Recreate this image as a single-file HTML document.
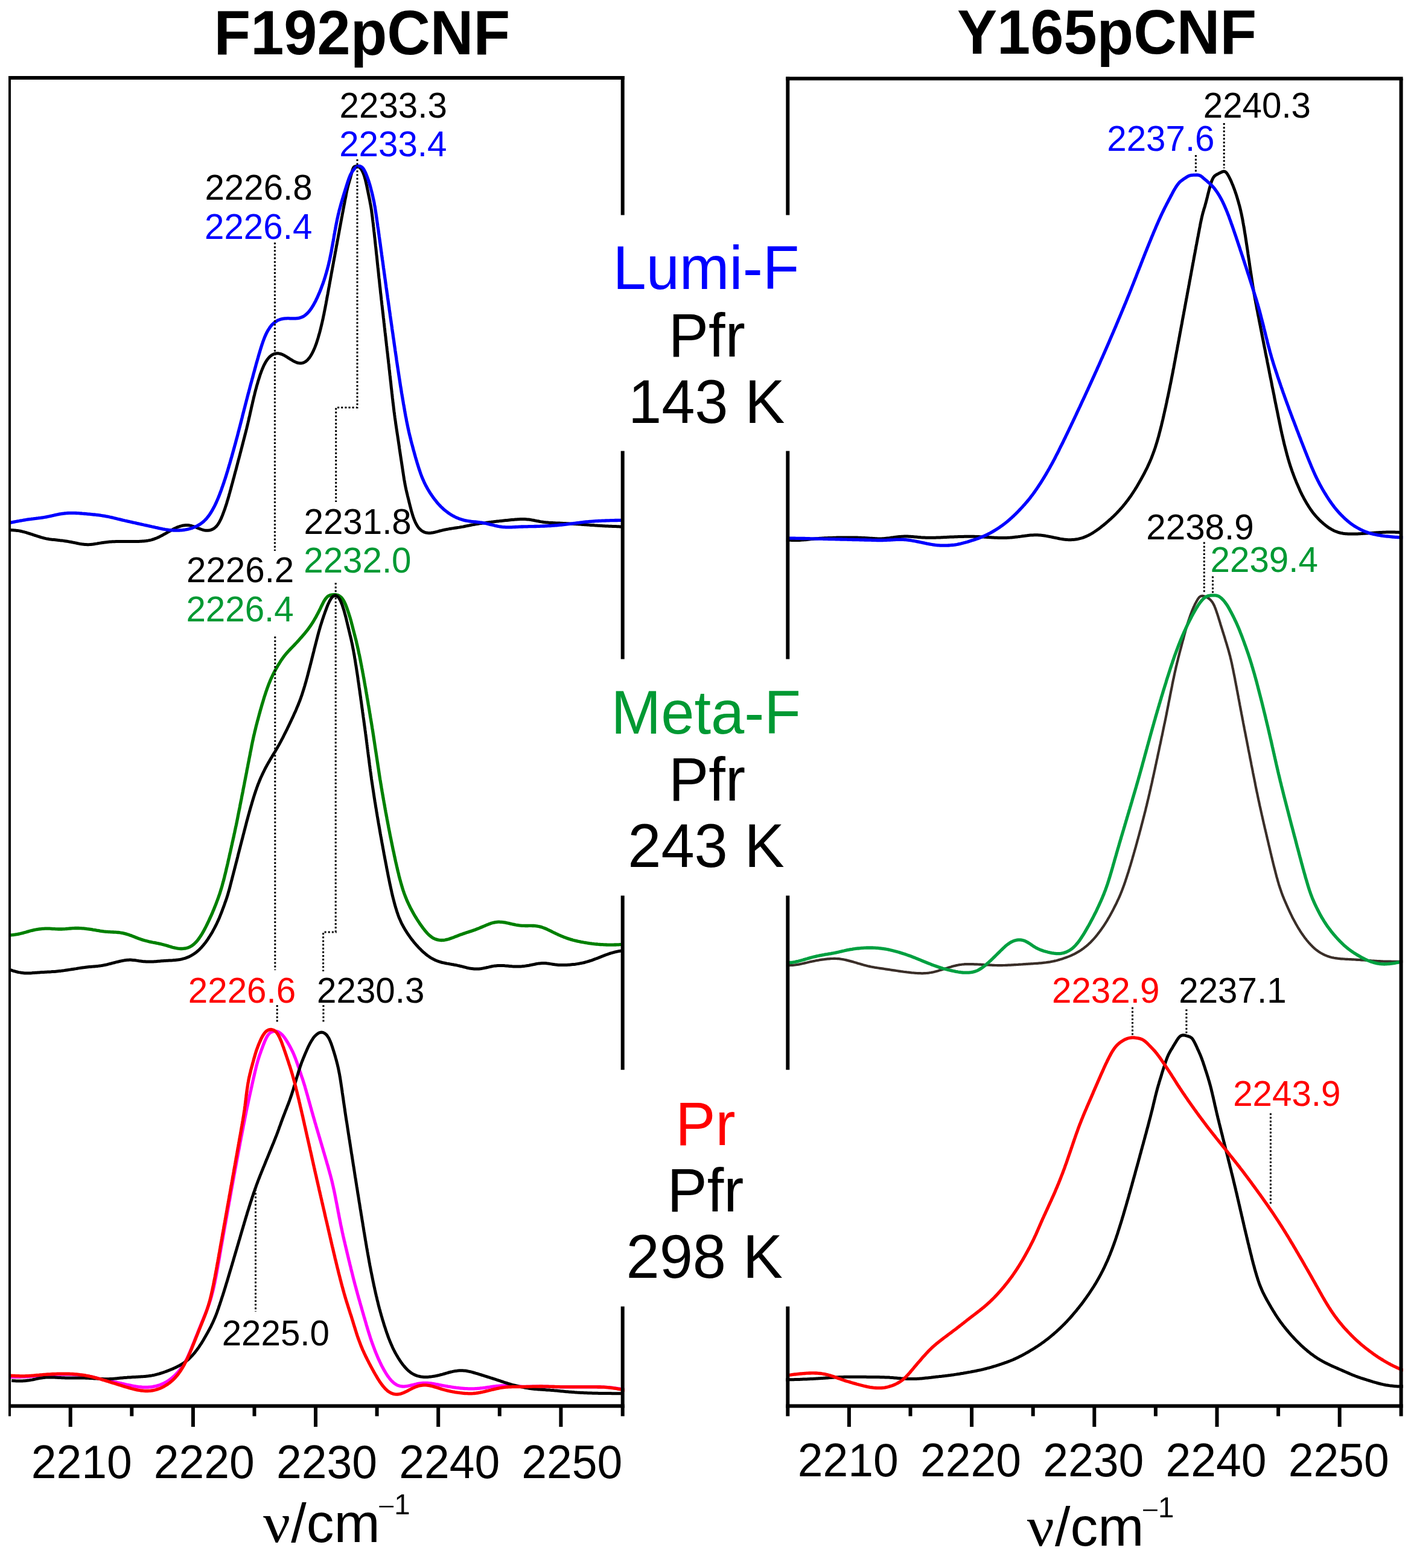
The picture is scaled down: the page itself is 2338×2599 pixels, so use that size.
<!DOCTYPE html>
<html lang="en">
<head>
<meta charset="utf-8">
<title>F192pCNF / Y165pCNF spectra</title>
<style>
html,body{margin:0;padding:0;background:#fff;}
body{width:2338px;height:2599px;overflow:hidden;}
svg{display:block;}
text{white-space:pre;}
</style>
</head>
<body>
<svg xmlns="http://www.w3.org/2000/svg" width="2338" height="2599" viewBox="0 0 2338 2599">
<defs><clipPath id="cl"><rect x="14" y="100" width="1021" height="2240"/></clipPath><clipPath id="cr"><rect x="1302" y="100" width="1023" height="2240"/></clipPath></defs>
<g fill="none" stroke-linejoin="round" stroke-linecap="butt">
<path d="M15.8,878.6 L20.7,878.7 L21.9,878.8 L23.3,878.9 L24.8,879.0 L26.4,879.2 L28.2,879.4 L30.0,879.6 L31.8,879.9 L33.7,880.3 L35.6,880.7 L37.5,881.2 L39.4,881.6 L41.4,882.2 L43.3,882.7 L45.2,883.3 L47.1,883.9 L49.0,884.5 L50.9,885.1 L52.8,885.7 L54.7,886.3 L56.6,887.0 L58.5,887.6 L60.4,888.2 L62.3,888.8 L64.2,889.4 L66.1,890.0 L68.0,890.6 L69.9,891.1 L71.9,891.7 L73.8,892.1 L75.7,892.6 L77.7,893.0 L79.6,893.3 L81.6,893.7 L83.6,893.9 L85.5,894.2 L87.5,894.4 L89.5,894.6 L91.5,894.8 L93.5,895.0 L95.4,895.2 L97.4,895.4 L99.4,895.7 L101.4,895.9 L103.4,896.1 L105.4,896.4 L107.3,896.7 L109.3,897.0 L111.3,897.3 L113.3,897.6 L115.2,898.0 L117.2,898.3 L119.2,898.7 L121.1,899.1 L123.1,899.5 L125.0,899.9 L127.0,900.3 L128.9,900.7 L130.9,901.1 L132.8,901.5 L134.8,901.8 L136.8,902.1 L138.7,902.3 L140.7,902.5 L142.7,902.6 L144.6,902.7 L146.6,902.7 L148.6,902.6 L150.5,902.4 L152.5,902.2 L154.5,902.0 L156.4,901.7 L158.4,901.4 L160.4,901.1 L162.3,900.7 L164.3,900.4 L166.3,900.1 L168.3,899.8 L170.2,899.5 L172.2,899.2 L174.2,898.9 L176.2,898.7 L178.2,898.5 L180.1,898.3 L182.1,898.1 L184.1,898.0 L186.1,897.8 L188.1,897.7 L190.1,897.7 L192.1,897.6 L194.1,897.6 L196.1,897.6 L198.1,897.5 L200.1,897.5 L202.1,897.6 L204.1,897.6 L206.1,897.6 L208.1,897.6 L210.1,897.6 L212.1,897.6 L214.1,897.6 L216.1,897.6 L218.1,897.6 L220.1,897.6 L222.1,897.6 L224.1,897.6 L226.1,897.5 L228.1,897.5 L230.1,897.4 L232.1,897.3 L234.1,897.2 L236.1,897.0 L238.0,896.9 L240.0,896.7 L242.0,896.5 L244.0,896.2 L245.9,895.9 L247.9,895.5 L249.8,895.1 L251.7,894.6 L253.6,894.0 L255.5,893.4 L257.3,892.7 L259.2,892.0 L261.0,891.2 L262.8,890.4 L264.6,889.5 L266.3,888.6 L268.1,887.7 L269.9,886.7 L271.6,885.7 L273.4,884.8 L275.1,883.8 L276.8,882.8 L278.6,881.8 L280.3,880.8 L282.1,879.9 L283.8,878.9 L285.6,878.0 L287.3,877.0 L289.1,876.1 L290.9,875.3 L292.7,874.4 L294.5,873.7 L296.3,873.0 L298.2,872.3 L300.1,871.8 L302.0,871.3 L303.9,870.9 L305.8,870.7 L307.7,870.5 L309.6,870.5 L311.5,870.6 L313.4,870.8 L315.3,871.1 L317.2,871.5 L319.0,872.1 L320.9,872.6 L322.7,873.3 L324.6,874.0 L326.4,874.7 L328.2,875.5 L330.1,876.2 L331.9,876.9 L333.7,877.5 L335.6,878.1 L337.4,878.6 L339.3,879.0 L341.1,879.2 L343.0,879.3 L344.8,879.3 L346.6,879.1 L348.4,878.7 L350.1,878.1 L351.8,877.4 L353.4,876.6 L355.0,875.6 L356.4,874.4 L357.8,873.2 L359.1,871.8 L360.3,870.3 L361.4,868.8 L362.4,867.1 L363.4,865.5 L364.3,863.7 L365.2,862.0 L366.1,860.2 L366.9,858.3 L367.6,856.5 L368.4,854.7 L369.1,852.8 L369.8,850.9 L370.5,849.1 L371.2,847.2 L371.9,845.3 L372.6,843.4 L373.2,841.5 L373.8,839.6 L374.5,837.7 L375.1,835.8 L375.7,833.9 L376.2,832.0 L376.8,830.1 L377.4,828.2 L378.0,826.3 L378.5,824.3 L379.1,822.4 L379.6,820.5 L380.1,818.6 L380.7,816.6 L381.2,814.7 L381.7,812.8 L382.3,810.9 L382.8,808.9 L383.3,807.0 L383.8,805.1 L384.3,803.1 L384.9,801.2 L385.4,799.3 L385.9,797.3 L386.4,795.4 L386.9,793.5 L387.5,791.5 L388.0,789.6 L388.5,787.7 L389.0,785.7 L389.5,783.8 L390.0,781.9 L390.6,779.9 L391.1,778.0 L391.6,776.1 L392.1,774.1 L392.6,772.2 L393.1,770.3 L393.6,768.3 L394.1,766.4 L394.6,764.5 L395.1,762.5 L395.7,760.6 L396.2,758.7 L396.7,756.7 L397.2,754.8 L397.7,752.9 L398.2,750.9 L398.7,749.0 L399.2,747.1 L399.7,745.1 L400.2,743.2 L400.7,741.3 L401.2,739.3 L401.7,737.4 L402.2,735.5 L402.7,733.5 L403.2,731.6 L403.7,729.6 L404.2,727.7 L404.7,725.8 L405.2,723.8 L405.7,721.9 L406.2,720.0 L406.7,718.0 L407.2,716.1 L407.7,714.1 L408.2,712.2 L408.7,710.3 L409.1,708.3 L409.6,706.4 L410.1,704.4 L410.5,702.5 L411.0,700.5 L411.4,698.6 L411.9,696.6 L412.3,694.7 L412.8,692.7 L413.2,690.8 L413.7,688.8 L414.1,686.9 L414.5,684.9 L415.0,683.0 L415.4,681.0 L415.9,679.1 L416.3,677.1 L416.7,675.2 L417.2,673.2 L417.6,671.3 L418.1,669.3 L418.5,667.4 L419.0,665.4 L419.4,663.5 L419.9,661.5 L420.3,659.6 L420.8,657.6 L421.3,655.7 L421.8,653.8 L422.2,651.8 L422.7,649.9 L423.2,648.0 L423.7,646.0 L424.3,644.1 L424.8,642.2 L425.3,640.2 L425.8,638.3 L426.4,636.4 L427.0,634.5 L427.5,632.5 L428.1,630.6 L428.7,628.7 L429.3,626.8 L429.9,624.9 L430.5,623.0 L431.1,621.1 L431.8,619.2 L432.5,617.3 L433.1,615.5 L433.9,613.6 L434.6,611.7 L435.4,609.9 L436.2,608.1 L437.0,606.3 L437.8,604.5 L438.8,602.7 L439.7,601.0 L440.7,599.3 L441.8,597.6 L442.9,596.0 L444.1,594.5 L445.3,593.0 L446.6,591.7 L448.0,590.4 L449.5,589.2 L451.0,588.2 L452.5,587.4 L454.2,586.7 L455.8,586.2 L457.5,585.9 L459.3,585.7 L461.0,585.8 L462.8,586.1 L464.6,586.5 L466.3,587.0 L468.1,587.7 L469.8,588.5 L471.5,589.4 L473.2,590.4 L474.9,591.4 L476.6,592.5 L478.3,593.5 L479.9,594.6 L481.6,595.7 L483.3,596.7 L484.9,597.7 L486.6,598.7 L488.4,599.5 L490.1,600.3 L491.8,601.0 L493.6,601.5 L495.4,601.8 L497.1,602.0 L498.8,602.0 L500.5,601.8 L502.2,601.4 L503.8,600.7 L505.3,599.9 L506.8,599.0 L508.2,597.8 L509.6,596.6 L510.8,595.2 L512.1,593.7 L513.2,592.2 L514.3,590.6 L515.3,588.9 L516.3,587.2 L517.3,585.5 L518.2,583.7 L519.1,581.9 L519.9,580.1 L520.7,578.3 L521.5,576.4 L522.2,574.6 L522.9,572.7 L523.6,570.8 L524.3,569.0 L524.9,567.1 L525.5,565.2 L526.1,563.3 L526.7,561.4 L527.3,559.4 L527.8,557.5 L528.4,555.6 L528.9,553.7 L529.5,551.7 L530.0,549.8 L530.5,547.9 L531.0,545.9 L531.5,544.0 L531.9,542.1 L532.4,540.1 L532.9,538.2 L533.3,536.2 L533.8,534.3 L534.2,532.3 L534.7,530.4 L535.1,528.4 L535.5,526.5 L535.9,524.5 L536.3,522.6 L536.8,520.6 L537.1,518.6 L537.5,516.7 L537.9,514.7 L538.3,512.7 L538.7,510.8 L539.1,508.8 L539.4,506.9 L539.8,504.9 L540.2,502.9 L540.5,501.0 L540.9,499.0 L541.3,497.0 L541.6,495.1 L542.0,493.1 L542.3,491.1 L542.7,489.2 L543.1,487.2 L543.4,485.2 L543.8,483.3 L544.1,481.3 L544.5,479.3 L544.8,477.4 L545.2,475.4 L545.6,473.4 L545.9,471.4 L546.3,469.5 L546.6,467.5 L547.0,465.5 L547.4,463.6 L547.7,461.6 L548.1,459.6 L548.4,457.7 L548.8,455.7 L549.1,453.7 L549.5,451.8 L549.9,449.8 L550.2,447.8 L550.6,445.9 L550.9,443.9 L551.3,441.9 L551.7,440.0 L552.0,438.0 L552.4,436.0 L552.7,434.1 L553.1,432.1 L553.5,430.1 L553.8,428.2 L554.2,426.2 L554.6,424.2 L554.9,422.3 L555.3,420.3 L555.6,418.3 L556.0,416.4 L556.4,414.4 L556.7,412.4 L557.1,410.5 L557.4,408.5 L557.8,406.5 L558.2,404.6 L558.5,402.6 L558.9,400.6 L559.2,398.7 L559.6,396.7 L560.0,394.7 L560.3,392.8 L560.7,390.8 L561.1,388.8 L561.4,386.9 L561.8,384.9 L562.1,382.9 L562.5,381.0 L562.9,379.0 L563.2,377.0 L563.6,375.1 L564.0,373.1 L564.3,371.1 L564.7,369.2 L565.0,367.2 L565.4,365.2 L565.8,363.3 L566.1,361.3 L566.5,359.3 L566.9,357.4 L567.2,355.4 L567.6,353.4 L568.0,351.5 L568.4,349.5 L568.7,347.5 L569.1,345.6 L569.5,343.6 L569.8,341.6 L570.2,339.7 L570.6,337.7 L571.0,335.7 L571.3,333.8 L571.7,331.8 L572.1,329.8 L572.5,327.9 L572.9,325.9 L573.3,324.0 L573.6,322.0 L574.0,320.0 L574.4,318.1 L574.8,316.1 L575.3,314.2 L575.7,312.2 L576.2,310.3 L576.7,308.3 L577.2,306.4 L577.7,304.5 L578.3,302.5 L578.8,300.6 L579.4,298.7 L579.9,296.8 L580.5,294.9 L581.0,292.9 L581.5,291.0 L582.1,289.1 L582.6,287.1 L583.1,285.2 L583.6,283.3 L584.2,281.4 L584.9,279.5 L585.7,277.8 L586.9,276.4 L588.4,275.7 L590.2,275.5 L592.1,275.8 L594.0,276.4 L595.7,277.4 L597.1,278.7 L598.3,280.2 L599.4,281.9 L600.4,283.7 L601.2,285.5 L602.0,287.3 L602.7,289.2 L603.4,291.0 L604.0,293.0 L604.5,294.9 L605.1,296.8 L605.6,298.7 L606.0,300.7 L606.5,302.6 L606.9,304.6 L607.4,306.5 L607.8,308.5 L608.2,310.4 L608.6,312.4 L609.0,314.4 L609.4,316.3 L609.8,318.3 L610.2,320.2 L610.6,322.2 L611.0,324.2 L611.4,326.1 L611.8,328.1 L612.2,330.0 L612.6,332.0 L613.0,334.0 L613.3,335.9 L613.7,337.9 L614.1,339.9 L614.4,341.8 L614.8,343.8 L615.1,345.8 L615.4,347.7 L615.7,349.7 L615.9,351.7 L616.2,353.7 L616.5,355.7 L616.7,357.7 L617.0,359.6 L617.2,361.6 L617.4,363.6 L617.7,365.6 L617.9,367.6 L618.2,369.6 L618.4,371.6 L618.6,373.5 L618.8,375.5 L619.1,377.5 L619.3,379.5 L619.5,381.5 L619.7,383.5 L620.0,385.5 L620.2,387.5 L620.4,389.4 L620.6,391.4 L620.8,393.4 L621.1,395.4 L621.3,397.4 L621.5,399.4 L621.7,401.4 L621.9,403.4 L622.1,405.3 L622.3,407.3 L622.6,409.3 L622.8,411.3 L623.0,413.3 L623.2,415.3 L623.4,417.3 L623.6,419.3 L623.8,421.3 L624.0,423.2 L624.3,425.2 L624.5,427.2 L624.7,429.2 L624.9,431.2 L625.1,433.2 L625.3,435.2 L625.5,437.2 L625.7,439.2 L625.9,441.1 L626.1,443.1 L626.4,445.1 L626.6,447.1 L626.8,449.1 L627.0,451.1 L627.2,453.1 L627.4,455.1 L627.6,457.1 L627.8,459.0 L628.0,461.0 L628.3,463.0 L628.5,465.0 L628.7,467.0 L628.9,469.0 L629.1,471.0 L629.3,473.0 L629.5,475.0 L629.8,476.9 L630.0,478.9 L630.2,480.9 L630.4,482.9 L630.6,484.9 L630.8,486.9 L631.1,488.9 L631.3,490.9 L631.5,492.8 L631.7,494.8 L631.9,496.8 L632.2,498.8 L632.4,500.8 L632.6,502.8 L632.8,504.8 L633.1,506.8 L633.3,508.7 L633.5,510.7 L633.7,512.7 L634.0,514.7 L634.2,516.7 L634.4,518.7 L634.7,520.7 L634.9,522.7 L635.1,524.6 L635.3,526.6 L635.6,528.6 L635.8,530.6 L636.0,532.6 L636.2,534.6 L636.5,536.6 L636.7,538.6 L636.9,540.5 L637.1,542.5 L637.4,544.5 L637.6,546.5 L637.8,548.5 L638.0,550.5 L638.3,552.5 L638.5,554.4 L638.7,556.4 L639.0,558.4 L639.2,560.4 L639.4,562.4 L639.6,564.4 L639.9,566.4 L640.1,568.4 L640.3,570.3 L640.5,572.3 L640.8,574.3 L641.0,576.3 L641.2,578.3 L641.4,580.3 L641.7,582.3 L641.9,584.3 L642.1,586.2 L642.4,588.2 L642.6,590.2 L642.8,592.2 L643.0,594.2 L643.3,596.2 L643.5,598.2 L643.7,600.2 L643.9,602.1 L644.2,604.1 L644.4,606.1 L644.6,608.1 L644.8,610.1 L645.0,612.1 L645.3,614.1 L645.5,616.1 L645.7,618.0 L645.9,620.0 L646.1,622.0 L646.4,624.0 L646.6,626.0 L646.8,628.0 L647.0,630.0 L647.2,632.0 L647.5,633.9 L647.7,635.9 L647.9,637.9 L648.1,639.9 L648.3,641.9 L648.5,643.9 L648.8,645.9 L649.0,647.9 L649.2,649.8 L649.4,651.8 L649.7,653.8 L649.9,655.8 L650.1,657.8 L650.3,659.8 L650.6,661.8 L650.8,663.8 L651.0,665.7 L651.2,667.7 L651.5,669.7 L651.7,671.7 L652.0,673.7 L652.2,675.7 L652.4,677.7 L652.7,679.6 L652.9,681.6 L653.2,683.6 L653.5,685.6 L653.7,687.6 L654.0,689.6 L654.2,691.5 L654.5,693.5 L654.8,695.5 L655.1,697.5 L655.4,699.5 L655.6,701.4 L655.9,703.4 L656.2,705.4 L656.5,707.4 L656.8,709.4 L657.1,711.3 L657.4,713.3 L657.7,715.3 L658.0,717.3 L658.3,719.3 L658.6,721.2 L658.9,723.2 L659.2,725.2 L659.5,727.2 L659.8,729.1 L660.1,731.1 L660.4,733.1 L660.7,735.1 L661.0,737.1 L661.3,739.0 L661.6,741.0 L661.8,743.0 L662.1,745.0 L662.4,746.9 L662.7,748.9 L663.0,750.9 L663.3,752.9 L663.6,754.9 L663.9,756.8 L664.2,758.8 L664.5,760.8 L664.8,762.8 L665.1,764.7 L665.4,766.7 L665.7,768.7 L666.0,770.7 L666.3,772.7 L666.6,774.6 L666.9,776.6 L667.2,778.6 L667.5,780.6 L667.8,782.5 L668.1,784.5 L668.4,786.5 L668.7,788.5 L669.0,790.4 L669.3,792.4 L669.6,794.4 L670.0,796.4 L670.3,798.3 L670.7,800.3 L671.0,802.3 L671.4,804.2 L671.8,806.2 L672.2,808.2 L672.6,810.1 L673.0,812.1 L673.5,814.0 L673.9,816.0 L674.4,817.9 L674.9,819.8 L675.3,821.8 L675.8,823.7 L676.3,825.7 L676.8,827.6 L677.3,829.6 L677.7,831.5 L678.2,833.4 L678.7,835.4 L679.2,837.3 L679.7,839.3 L680.2,841.2 L680.7,843.1 L681.2,845.1 L681.7,847.0 L682.3,848.9 L682.8,850.8 L683.4,852.7 L684.0,854.6 L684.6,856.5 L685.3,858.4 L686.0,860.3 L686.7,862.1 L687.5,863.9 L688.3,865.8 L689.2,867.5 L690.1,869.3 L691.1,871.0 L692.1,872.6 L693.2,874.2 L694.4,875.7 L695.7,877.0 L697.0,878.3 L698.5,879.5 L700.0,880.5 L701.6,881.4 L703.2,882.1 L705.0,882.7 L706.8,883.1 L708.6,883.3 L710.4,883.4 L712.3,883.4 L714.2,883.3 L716.1,883.0 L718.0,882.7 L720.0,882.3 L721.9,881.8 L723.8,881.4 L725.7,880.9 L727.6,880.3 L729.6,879.8 L731.5,879.4 L733.4,878.9 L735.4,878.4 L737.3,878.0 L739.3,877.6 L741.3,877.2 L743.2,876.9 L745.2,876.5 L747.2,876.2 L749.1,875.9 L751.1,875.6 L753.1,875.3 L755.1,875.0 L757.0,874.7 L759.0,874.4 L761.0,874.1 L763.0,873.7 L764.9,873.4 L766.9,873.1 L768.9,872.7 L770.8,872.3 L772.8,871.9 L774.7,871.5 L776.7,871.1 L778.6,870.7 L780.6,870.3 L782.6,869.9 L784.5,869.6 L786.5,869.2 L788.5,868.9 L790.4,868.5 L792.4,868.2 L794.4,867.9 L796.4,867.6 L798.3,867.4 L800.3,867.1 L802.3,866.9 L804.3,866.6 L806.3,866.3 L808.3,866.1 L810.2,865.8 L812.2,865.6 L814.2,865.3 L816.2,865.1 L818.2,864.8 L820.2,864.6 L822.1,864.3 L824.1,864.1 L826.1,863.9 L828.1,863.6 L830.1,863.4 L832.1,863.2 L834.1,863.0 L836.0,862.8 L838.0,862.6 L840.0,862.4 L842.0,862.2 L844.0,862.0 L846.0,861.8 L848.0,861.6 L850.0,861.4 L852.0,861.3 L854.0,861.1 L856.0,861.0 L858.0,860.8 L859.9,860.7 L861.9,860.6 L863.9,860.6 L865.9,860.5 L867.9,860.5 L869.9,860.6 L871.9,860.7 L873.8,860.9 L875.8,861.1 L877.8,861.3 L879.7,861.6 L881.7,862.0 L883.7,862.3 L885.6,862.7 L887.6,863.1 L889.5,863.5 L891.5,863.8 L893.5,864.2 L895.4,864.6 L897.4,864.9 L899.4,865.2 L901.3,865.5 L903.3,865.7 L905.3,865.9 L907.3,866.1 L909.3,866.3 L911.3,866.4 L913.3,866.5 L915.3,866.6 L917.3,866.7 L919.2,866.8 L921.2,866.9 L923.2,867.0 L925.2,867.0 L927.2,867.1 L929.2,867.2 L931.2,867.3 L933.2,867.4 L935.2,867.5 L937.2,867.6 L939.2,867.7 L941.2,867.8 L943.2,867.9 L945.2,868.1 L947.2,868.2 L949.2,868.3 L951.2,868.4 L953.2,868.6 L955.2,868.7 L957.2,868.8 L959.2,869.0 L961.2,869.1 L963.2,869.2 L965.2,869.4 L967.2,869.5 L969.2,869.7 L971.2,869.8 L973.2,869.9 L975.1,870.1 L977.1,870.2 L979.1,870.4 L981.1,870.5 L983.1,870.6 L985.1,870.8 L987.1,870.9 L989.1,871.0 L991.1,871.2 L993.1,871.3 L995.1,871.4 L997.1,871.5 L999.1,871.7 L1001.1,871.8 L1003.1,871.9 L1005.1,872.0 L1007.1,872.1 L1009.1,872.2 L1011.1,872.3 L1013.0,872.3 L1015.0,872.4 L1016.9,872.5 L1018.8,872.6 L1020.6,872.6 L1022.4,872.7 L1024.1,872.8 L1025.6,872.8 L1027.0,872.9 L1028.2,872.9 L1033.1,873.1" stroke="#000000" stroke-width="5.0" clip-path="url(#cl)"/>
<path d="M15.8,866.6 L20.6,865.6 L21.7,865.4 L23.1,865.1 L24.6,864.8 L26.3,864.5 L28.0,864.2 L29.8,863.8 L31.7,863.5 L33.6,863.1 L35.5,862.8 L37.4,862.5 L39.4,862.1 L41.4,861.8 L43.3,861.5 L45.3,861.2 L47.3,860.9 L49.3,860.6 L51.2,860.4 L53.2,860.1 L55.2,859.9 L57.2,859.6 L59.2,859.4 L61.2,859.1 L63.1,858.9 L65.1,858.6 L67.1,858.4 L69.1,858.1 L71.1,857.8 L73.0,857.5 L75.0,857.2 L77.0,856.8 L78.9,856.4 L80.9,856.0 L82.8,855.6 L84.8,855.2 L86.7,854.7 L88.7,854.3 L90.6,853.8 L92.6,853.4 L94.5,853.0 L96.5,852.6 L98.4,852.2 L100.4,851.8 L102.4,851.5 L104.3,851.3 L106.3,851.0 L108.3,850.8 L110.3,850.6 L112.3,850.5 L114.3,850.4 L116.2,850.4 L118.2,850.3 L120.2,850.3 L122.2,850.4 L124.2,850.4 L126.2,850.5 L128.2,850.6 L130.2,850.7 L132.2,850.9 L134.2,851.0 L136.2,851.2 L138.2,851.3 L140.2,851.5 L142.2,851.7 L144.2,851.9 L146.2,852.1 L148.1,852.2 L150.1,852.4 L152.1,852.6 L154.1,852.8 L156.1,853.0 L158.1,853.2 L160.1,853.5 L162.1,853.7 L164.0,853.9 L166.0,854.2 L168.0,854.5 L170.0,854.8 L172.0,855.1 L173.9,855.4 L175.9,855.8 L177.9,856.1 L179.8,856.5 L181.8,857.0 L183.7,857.4 L185.7,857.8 L187.6,858.3 L189.5,858.8 L191.5,859.2 L193.4,859.7 L195.4,860.2 L197.3,860.7 L199.3,861.1 L201.2,861.6 L203.2,862.1 L205.1,862.5 L207.0,863.0 L209.0,863.4 L210.9,863.9 L212.9,864.3 L214.8,864.7 L216.8,865.2 L218.7,865.6 L220.7,866.1 L222.7,866.5 L224.6,866.9 L226.6,867.4 L228.5,867.8 L230.5,868.2 L232.4,868.7 L234.4,869.1 L236.3,869.5 L238.3,870.0 L240.2,870.4 L242.2,870.8 L244.1,871.2 L246.1,871.7 L248.0,872.1 L250.0,872.5 L251.9,873.0 L253.9,873.4 L255.9,873.8 L257.8,874.3 L259.8,874.7 L261.7,875.1 L263.7,875.6 L265.6,876.0 L267.6,876.4 L269.5,876.8 L271.5,877.1 L273.5,877.5 L275.4,877.8 L277.4,878.1 L279.4,878.4 L281.4,878.6 L283.3,878.8 L285.3,878.9 L287.3,879.0 L289.3,879.1 L291.3,879.1 L293.3,879.1 L295.3,879.1 L297.3,879.0 L299.3,878.9 L301.2,878.8 L303.2,878.5 L305.2,878.3 L307.1,878.0 L309.1,877.7 L311.0,877.2 L313.0,876.8 L314.9,876.3 L316.8,875.7 L318.7,875.1 L320.5,874.4 L322.4,873.7 L324.2,872.9 L325.9,872.0 L327.7,871.1 L329.4,870.1 L331.1,869.1 L332.7,868.0 L334.3,866.8 L335.9,865.6 L337.4,864.4 L338.8,863.0 L340.2,861.6 L341.6,860.2 L342.9,858.7 L344.1,857.2 L345.3,855.6 L346.5,854.0 L347.6,852.4 L348.7,850.7 L349.8,849.0 L350.8,847.3 L351.8,845.6 L352.8,843.9 L353.7,842.1 L354.7,840.4 L355.6,838.6 L356.5,836.8 L357.3,835.0 L358.2,833.2 L359.0,831.3 L359.8,829.5 L360.6,827.7 L361.4,825.8 L362.1,824.0 L362.9,822.1 L363.6,820.3 L364.3,818.4 L365.0,816.5 L365.7,814.7 L366.4,812.8 L367.1,810.9 L367.7,809.0 L368.4,807.1 L369.1,805.2 L369.7,803.4 L370.4,801.5 L371.0,799.6 L371.6,797.7 L372.2,795.8 L372.9,793.9 L373.5,792.0 L374.1,790.1 L374.7,788.2 L375.3,786.2 L375.9,784.3 L376.5,782.4 L377.1,780.5 L377.6,778.6 L378.2,776.7 L378.8,774.8 L379.3,772.8 L379.9,770.9 L380.5,769.0 L381.0,767.1 L381.6,765.2 L382.1,763.2 L382.7,761.3 L383.2,759.4 L383.8,757.5 L384.3,755.5 L384.9,753.6 L385.4,751.7 L385.9,749.8 L386.5,747.8 L387.0,745.9 L387.5,744.0 L388.1,742.1 L388.6,740.1 L389.1,738.2 L389.7,736.3 L390.2,734.3 L390.7,732.4 L391.2,730.5 L391.7,728.6 L392.3,726.6 L392.8,724.7 L393.3,722.8 L393.8,720.8 L394.3,718.9 L394.8,716.9 L395.3,715.0 L395.8,713.1 L396.3,711.1 L396.8,709.2 L397.3,707.3 L397.8,705.3 L398.3,703.4 L398.8,701.5 L399.3,699.5 L399.8,697.6 L400.3,695.6 L400.8,693.7 L401.3,691.8 L401.7,689.8 L402.2,687.9 L402.7,685.9 L403.2,684.0 L403.7,682.1 L404.2,680.1 L404.7,678.2 L405.2,676.3 L405.7,674.3 L406.2,672.4 L406.7,670.4 L407.2,668.5 L407.7,666.6 L408.2,664.6 L408.7,662.7 L409.2,660.8 L409.7,658.8 L410.2,656.9 L410.7,655.0 L411.2,653.0 L411.8,651.1 L412.3,649.2 L412.8,647.2 L413.3,645.3 L413.8,643.4 L414.3,641.4 L414.8,639.5 L415.3,637.6 L415.9,635.6 L416.4,633.7 L416.9,631.8 L417.4,629.8 L417.9,627.9 L418.5,626.0 L419.0,624.0 L419.5,622.1 L420.0,620.2 L420.5,618.2 L421.1,616.3 L421.6,614.4 L422.1,612.5 L422.6,610.5 L423.2,608.6 L423.7,606.7 L424.2,604.7 L424.7,602.8 L425.3,600.9 L425.8,599.0 L426.4,597.0 L426.9,595.1 L427.5,593.2 L428.0,591.3 L428.6,589.3 L429.1,587.4 L429.7,585.5 L430.3,583.6 L430.8,581.7 L431.4,579.8 L432.0,577.8 L432.6,575.9 L433.2,574.0 L433.8,572.1 L434.4,570.2 L435.1,568.3 L435.7,566.4 L436.4,564.6 L437.1,562.7 L437.8,560.8 L438.5,559.0 L439.3,557.1 L440.1,555.3 L441.0,553.5 L441.8,551.7 L442.7,550.0 L443.7,548.2 L444.7,546.5 L445.8,544.9 L446.9,543.2 L448.0,541.6 L449.2,540.1 L450.5,538.6 L451.9,537.2 L453.3,535.9 L454.7,534.6 L456.3,533.5 L457.9,532.4 L459.5,531.4 L461.2,530.6 L463.0,529.9 L464.8,529.3 L466.6,528.8 L468.5,528.4 L470.4,528.1 L472.3,527.9 L474.3,527.8 L476.3,527.7 L478.2,527.7 L480.2,527.8 L482.2,527.8 L484.1,527.9 L486.1,527.9 L488.0,527.9 L490.0,527.9 L491.9,527.7 L493.8,527.5 L495.6,527.1 L497.5,526.6 L499.2,526.0 L501.0,525.3 L502.7,524.4 L504.3,523.4 L505.8,522.3 L507.3,521.1 L508.7,519.8 L510.1,518.4 L511.4,517.0 L512.7,515.5 L513.9,513.9 L515.0,512.3 L516.2,510.7 L517.2,509.0 L518.3,507.3 L519.3,505.6 L520.3,503.9 L521.2,502.1 L522.2,500.4 L523.1,498.6 L523.9,496.8 L524.8,495.0 L525.7,493.2 L526.5,491.4 L527.3,489.5 L528.1,487.7 L528.9,485.9 L529.7,484.0 L530.4,482.2 L531.2,480.3 L531.9,478.5 L532.6,476.6 L533.3,474.7 L534.0,472.9 L534.7,471.0 L535.4,469.1 L536.0,467.2 L536.7,465.3 L537.3,463.4 L537.9,461.5 L538.5,459.6 L539.1,457.7 L539.6,455.8 L540.2,453.9 L540.8,451.9 L541.3,450.0 L541.9,448.1 L542.4,446.2 L542.9,444.2 L543.4,442.3 L543.9,440.3 L544.4,438.4 L544.8,436.5 L545.3,434.5 L545.7,432.6 L546.2,430.6 L546.6,428.7 L547.0,426.7 L547.4,424.7 L547.8,422.8 L548.2,420.8 L548.6,418.9 L549.0,416.9 L549.3,414.9 L549.7,413.0 L550.0,411.0 L550.4,409.0 L550.8,407.1 L551.1,405.1 L551.5,403.1 L551.8,401.2 L552.2,399.2 L552.5,397.2 L552.9,395.2 L553.2,393.3 L553.5,391.3 L553.9,389.3 L554.2,387.4 L554.6,385.4 L554.9,383.4 L555.3,381.5 L555.7,379.5 L556.0,377.5 L556.4,375.6 L556.8,373.6 L557.1,371.6 L557.5,369.7 L557.9,367.7 L558.3,365.8 L558.7,363.8 L559.1,361.8 L559.6,359.9 L560.0,357.9 L560.4,356.0 L560.9,354.0 L561.4,352.1 L561.8,350.2 L562.3,348.2 L562.8,346.3 L563.4,344.3 L563.9,342.4 L564.4,340.5 L564.9,338.6 L565.5,336.6 L566.0,334.7 L566.6,332.8 L567.1,330.9 L567.7,329.0 L568.3,327.0 L568.9,325.1 L569.4,323.2 L570.0,321.3 L570.6,319.4 L571.2,317.5 L571.8,315.6 L572.4,313.6 L573.0,311.7 L573.6,309.8 L574.2,307.9 L574.8,306.0 L575.4,304.1 L576.0,302.2 L576.6,300.3 L577.3,298.4 L578.0,296.5 L578.6,294.7 L579.4,292.8 L580.1,291.0 L581.0,289.1 L581.9,287.4 L582.9,285.6 L584.0,284.0 L585.2,282.4 L586.4,280.8 L587.7,279.3 L589.1,277.8 L590.6,276.6 L592.3,275.7 L594.1,275.2 L596.0,275.3 L597.8,275.9 L599.4,276.9 L600.9,278.2 L602.1,279.8 L603.2,281.5 L604.1,283.2 L605.0,285.0 L605.9,286.8 L606.6,288.7 L607.4,290.5 L608.1,292.4 L608.8,294.2 L609.5,296.1 L610.1,298.0 L610.8,299.9 L611.4,301.8 L612.0,303.7 L612.6,305.6 L613.1,307.6 L613.7,309.5 L614.2,311.4 L614.7,313.3 L615.2,315.3 L615.7,317.2 L616.2,319.2 L616.7,321.1 L617.1,323.0 L617.6,325.0 L618.0,326.9 L618.4,328.9 L618.9,330.9 L619.3,332.8 L619.7,334.8 L620.1,336.7 L620.4,338.7 L620.8,340.7 L621.1,342.6 L621.5,344.6 L621.8,346.6 L622.1,348.6 L622.4,350.5 L622.7,352.5 L623.0,354.5 L623.3,356.5 L623.6,358.4 L623.9,360.4 L624.2,362.4 L624.4,364.4 L624.7,366.4 L625.0,368.3 L625.3,370.3 L625.6,372.3 L625.8,374.3 L626.1,376.3 L626.4,378.2 L626.7,380.2 L627.0,382.2 L627.2,384.2 L627.5,386.2 L627.8,388.1 L628.1,390.1 L628.3,392.1 L628.6,394.1 L628.9,396.1 L629.2,398.1 L629.4,400.0 L629.7,402.0 L630.0,404.0 L630.3,406.0 L630.5,408.0 L630.8,409.9 L631.1,411.9 L631.3,413.9 L631.6,415.9 L631.9,417.9 L632.2,419.8 L632.4,421.8 L632.7,423.8 L633.0,425.8 L633.3,427.8 L633.5,429.8 L633.8,431.7 L634.1,433.7 L634.4,435.7 L634.6,437.7 L634.9,439.7 L635.2,441.6 L635.4,443.6 L635.7,445.6 L636.0,447.6 L636.3,449.6 L636.5,451.5 L636.8,453.5 L637.1,455.5 L637.4,457.5 L637.6,459.5 L637.9,461.4 L638.2,463.4 L638.5,465.4 L638.7,467.4 L639.0,469.4 L639.3,471.4 L639.6,473.3 L639.8,475.3 L640.1,477.3 L640.4,479.3 L640.7,481.3 L640.9,483.2 L641.2,485.2 L641.5,487.2 L641.8,489.2 L642.1,491.2 L642.3,493.1 L642.6,495.1 L642.9,497.1 L643.2,499.1 L643.5,501.1 L643.7,503.0 L644.0,505.0 L644.3,507.0 L644.6,509.0 L644.9,511.0 L645.1,512.9 L645.4,514.9 L645.7,516.9 L646.0,518.9 L646.3,520.9 L646.5,522.8 L646.8,524.8 L647.1,526.8 L647.4,528.8 L647.7,530.8 L647.9,532.7 L648.2,534.7 L648.5,536.7 L648.8,538.7 L649.1,540.7 L649.4,542.6 L649.6,544.6 L649.9,546.6 L650.2,548.6 L650.5,550.6 L650.8,552.5 L651.1,554.5 L651.3,556.5 L651.6,558.5 L651.9,560.5 L652.2,562.4 L652.5,564.4 L652.8,566.4 L653.0,568.4 L653.3,570.4 L653.6,572.3 L653.9,574.3 L654.2,576.3 L654.5,578.3 L654.7,580.3 L655.0,582.2 L655.3,584.2 L655.6,586.2 L655.9,588.2 L656.2,590.2 L656.5,592.1 L656.8,594.1 L657.0,596.1 L657.3,598.1 L657.6,600.1 L657.9,602.0 L658.2,604.0 L658.5,606.0 L658.8,608.0 L659.1,609.9 L659.4,611.9 L659.7,613.9 L660.0,615.9 L660.3,617.9 L660.6,619.8 L660.9,621.8 L661.2,623.8 L661.5,625.8 L661.8,627.7 L662.1,629.7 L662.4,631.7 L662.7,633.7 L663.0,635.6 L663.3,637.6 L663.6,639.6 L663.9,641.6 L664.3,643.5 L664.6,645.5 L664.9,647.5 L665.2,649.5 L665.5,651.4 L665.9,653.4 L666.2,655.4 L666.5,657.4 L666.9,659.3 L667.2,661.3 L667.5,663.3 L667.9,665.3 L668.2,667.2 L668.5,669.2 L668.9,671.2 L669.2,673.1 L669.6,675.1 L669.9,677.1 L670.3,679.0 L670.6,681.0 L671.0,683.0 L671.3,685.0 L671.7,686.9 L672.0,688.9 L672.4,690.9 L672.8,692.8 L673.2,694.8 L673.5,696.7 L673.9,698.7 L674.3,700.7 L674.7,702.6 L675.1,704.6 L675.5,706.6 L675.9,708.5 L676.3,710.5 L676.8,712.4 L677.2,714.4 L677.6,716.3 L678.1,718.3 L678.5,720.2 L679.0,722.2 L679.5,724.1 L680.0,726.0 L680.5,728.0 L680.9,729.9 L681.4,731.9 L681.9,733.8 L682.4,735.7 L683.0,737.7 L683.5,739.6 L684.0,741.5 L684.5,743.5 L685.0,745.4 L685.5,747.3 L686.1,749.2 L686.6,751.2 L687.1,753.1 L687.7,755.0 L688.2,756.9 L688.8,758.9 L689.3,760.8 L689.9,762.7 L690.5,764.6 L691.0,766.5 L691.6,768.5 L692.2,770.4 L692.8,772.3 L693.4,774.2 L694.0,776.1 L694.6,778.0 L695.3,779.9 L695.9,781.8 L696.6,783.7 L697.2,785.6 L697.9,787.4 L698.6,789.3 L699.3,791.2 L700.1,793.0 L700.9,794.9 L701.7,796.7 L702.5,798.5 L703.3,800.3 L704.2,802.1 L705.1,803.9 L706.0,805.7 L707.0,807.4 L707.9,809.2 L708.9,810.9 L710.0,812.6 L711.0,814.3 L712.0,816.0 L713.1,817.7 L714.2,819.3 L715.3,821.0 L716.5,822.6 L717.6,824.3 L718.8,825.9 L720.0,827.5 L721.2,829.1 L722.5,830.6 L723.7,832.2 L725.0,833.7 L726.3,835.2 L727.7,836.7 L729.0,838.1 L730.4,839.6 L731.8,841.0 L733.3,842.3 L734.7,843.7 L736.2,845.0 L737.8,846.3 L739.3,847.5 L740.9,848.7 L742.5,849.9 L744.1,851.0 L745.8,852.1 L747.5,853.2 L749.2,854.2 L750.9,855.2 L752.7,856.1 L754.4,857.0 L756.2,857.9 L758.1,858.6 L759.9,859.4 L761.8,860.1 L763.6,860.7 L765.5,861.3 L767.4,861.9 L769.4,862.4 L771.3,862.8 L773.2,863.2 L775.2,863.5 L777.2,863.8 L779.1,864.1 L781.1,864.4 L783.1,864.6 L785.1,864.8 L787.1,865.0 L789.0,865.2 L791.0,865.4 L793.0,865.6 L795.0,865.9 L797.0,866.1 L798.9,866.4 L800.9,866.8 L802.9,867.1 L804.8,867.5 L806.8,868.0 L808.7,868.4 L810.6,868.9 L812.6,869.4 L814.5,869.8 L816.5,870.3 L818.4,870.8 L820.3,871.3 L822.3,871.7 L824.2,872.1 L826.2,872.5 L828.1,872.8 L830.1,873.1 L832.1,873.4 L834.1,873.6 L836.0,873.7 L838.0,873.9 L840.0,873.9 L842.0,873.9 L844.0,873.9 L846.0,873.9 L848.0,873.8 L850.0,873.7 L851.9,873.6 L853.9,873.5 L855.9,873.4 L857.9,873.3 L859.9,873.2 L861.9,873.1 L863.9,873.0 L865.9,873.0 L867.9,872.9 L869.9,872.9 L871.9,872.8 L873.9,872.8 L875.9,872.7 L877.9,872.7 L879.9,872.7 L881.9,872.6 L883.9,872.6 L885.9,872.5 L887.9,872.5 L889.9,872.4 L891.9,872.3 L893.9,872.3 L895.9,872.2 L897.9,872.1 L899.9,872.0 L901.9,872.0 L903.9,871.9 L905.9,871.8 L907.9,871.7 L909.9,871.6 L911.9,871.5 L913.9,871.3 L915.9,871.2 L917.9,871.1 L919.9,870.9 L921.9,870.8 L923.9,870.6 L925.8,870.4 L927.8,870.2 L929.8,870.0 L931.8,869.8 L933.8,869.6 L935.8,869.3 L937.8,869.1 L939.8,868.8 L941.7,868.6 L943.7,868.3 L945.7,868.1 L947.7,867.8 L949.7,867.6 L951.7,867.3 L953.6,867.1 L955.6,866.8 L957.6,866.6 L959.6,866.4 L961.6,866.1 L963.6,865.9 L965.6,865.7 L967.5,865.4 L969.5,865.2 L971.5,865.0 L973.5,864.8 L975.5,864.6 L977.5,864.4 L979.5,864.3 L981.5,864.1 L983.5,864.0 L985.5,863.8 L987.5,863.7 L989.5,863.6 L991.5,863.5 L993.5,863.4 L995.4,863.3 L997.4,863.2 L999.4,863.1 L1001.4,863.1 L1003.4,863.0 L1005.4,862.9 L1007.4,862.9 L1009.4,862.8 L1011.4,862.7 L1013.4,862.7 L1015.3,862.6 L1017.3,862.6 L1019.2,862.5 L1021.0,862.5 L1022.8,862.5 L1024.4,862.4 L1026.0,862.4 L1027.4,862.4 L1028.5,862.3 L1033.4,862.2" stroke="#0000ff" stroke-width="5.3" clip-path="url(#cl)"/>
<path d="M1302.9,894.9 L1307.7,895.2 L1308.9,895.3 L1310.3,895.3 L1311.8,895.4 L1313.5,895.5 L1315.3,895.5 L1317.1,895.5 L1319.0,895.5 L1320.9,895.5 L1322.9,895.4 L1324.8,895.4 L1326.8,895.3 L1328.8,895.1 L1330.8,895.0 L1332.8,894.8 L1334.8,894.7 L1336.8,894.5 L1338.7,894.3 L1340.7,894.1 L1342.7,893.8 L1344.7,893.6 L1346.7,893.4 L1348.7,893.2 L1350.7,893.0 L1352.7,892.8 L1354.7,892.7 L1356.6,892.5 L1358.6,892.3 L1360.6,892.2 L1362.6,892.1 L1364.6,892.0 L1366.6,891.8 L1368.6,891.8 L1370.6,891.7 L1372.6,891.6 L1374.6,891.5 L1376.6,891.4 L1378.6,891.4 L1380.6,891.3 L1382.6,891.2 L1384.6,891.2 L1386.6,891.1 L1388.6,891.1 L1390.6,891.0 L1392.6,891.0 L1394.6,891.0 L1396.6,891.0 L1398.6,890.9 L1400.6,890.9 L1402.6,890.9 L1404.6,890.9 L1406.6,890.9 L1408.6,890.9 L1410.6,891.0 L1412.6,891.0 L1414.6,891.0 L1416.6,891.1 L1418.6,891.1 L1420.6,891.1 L1422.6,891.2 L1424.6,891.3 L1426.6,891.3 L1428.6,891.4 L1430.6,891.5 L1432.6,891.6 L1434.6,891.7 L1436.6,891.8 L1438.6,891.9 L1440.6,892.1 L1442.6,892.2 L1444.6,892.3 L1446.5,892.5 L1448.5,892.6 L1450.5,892.7 L1452.5,892.8 L1454.5,892.9 L1456.5,892.9 L1458.5,892.9 L1460.5,892.9 L1462.5,892.8 L1464.5,892.7 L1466.4,892.5 L1468.4,892.3 L1470.4,892.1 L1472.4,891.9 L1474.4,891.6 L1476.3,891.3 L1478.3,891.0 L1480.3,890.8 L1482.3,890.5 L1484.3,890.2 L1486.2,890.0 L1488.2,889.8 L1490.2,889.6 L1492.2,889.4 L1494.2,889.3 L1496.2,889.2 L1498.2,889.1 L1500.2,889.1 L1502.2,889.1 L1504.1,889.1 L1506.1,889.2 L1508.1,889.3 L1510.1,889.5 L1512.1,889.6 L1514.1,889.8 L1516.1,890.0 L1518.1,890.1 L1520.1,890.3 L1522.1,890.5 L1524.1,890.6 L1526.0,890.8 L1528.0,890.9 L1530.0,891.0 L1532.0,891.1 L1534.0,891.2 L1536.0,891.2 L1538.0,891.3 L1540.0,891.3 L1542.0,891.3 L1544.0,891.3 L1546.0,891.3 L1548.0,891.2 L1550.0,891.2 L1552.0,891.1 L1554.0,891.0 L1556.0,891.0 L1558.0,890.9 L1560.0,890.8 L1562.0,890.7 L1564.0,890.6 L1566.0,890.5 L1568.0,890.4 L1570.0,890.3 L1572.0,890.2 L1574.0,890.1 L1576.0,890.0 L1578.0,890.0 L1580.0,889.9 L1582.0,889.8 L1584.0,889.7 L1586.0,889.7 L1588.0,889.6 L1590.0,889.5 L1592.0,889.5 L1594.0,889.4 L1596.0,889.4 L1598.0,889.3 L1600.0,889.3 L1602.0,889.3 L1604.0,889.2 L1606.0,889.2 L1608.0,889.2 L1610.0,889.2 L1612.0,889.3 L1614.0,889.3 L1616.0,889.4 L1618.0,889.4 L1620.0,889.5 L1622.0,889.6 L1623.9,889.7 L1625.9,889.8 L1627.9,890.0 L1629.9,890.1 L1631.9,890.2 L1633.9,890.3 L1635.9,890.5 L1637.9,890.6 L1639.9,890.7 L1641.9,890.8 L1643.9,891.0 L1645.9,891.1 L1647.9,891.2 L1649.9,891.3 L1651.9,891.3 L1653.9,891.4 L1655.9,891.5 L1657.9,891.5 L1659.9,891.5 L1661.9,891.5 L1663.9,891.5 L1665.9,891.4 L1667.9,891.4 L1669.9,891.3 L1671.9,891.2 L1673.9,891.1 L1675.9,890.9 L1677.8,890.7 L1679.8,890.5 L1681.8,890.3 L1683.8,890.1 L1685.8,889.9 L1687.8,889.6 L1689.7,889.4 L1691.7,889.1 L1693.7,888.8 L1695.7,888.5 L1697.7,888.3 L1699.7,888.0 L1701.6,887.8 L1703.6,887.5 L1705.6,887.3 L1707.6,887.1 L1709.6,887.0 L1711.6,886.9 L1713.6,886.8 L1715.5,886.8 L1717.5,886.8 L1719.5,886.8 L1721.5,886.9 L1723.5,887.1 L1725.5,887.3 L1727.4,887.5 L1729.4,887.7 L1731.4,888.0 L1733.4,888.4 L1735.3,888.7 L1737.3,889.1 L1739.2,889.5 L1741.2,889.9 L1743.2,890.3 L1745.1,890.7 L1747.1,891.1 L1749.0,891.5 L1751.0,891.9 L1752.9,892.3 L1754.9,892.7 L1756.9,893.1 L1758.8,893.4 L1760.8,893.7 L1762.8,894.0 L1764.7,894.2 L1766.7,894.4 L1768.7,894.6 L1770.7,894.7 L1772.7,894.7 L1774.6,894.7 L1776.6,894.6 L1778.6,894.5 L1780.6,894.3 L1782.5,894.0 L1784.5,893.7 L1786.4,893.4 L1788.4,892.9 L1790.3,892.4 L1792.2,891.9 L1794.1,891.3 L1795.9,890.6 L1797.8,889.9 L1799.6,889.2 L1801.4,888.3 L1803.2,887.5 L1805.0,886.6 L1806.7,885.6 L1808.5,884.6 L1810.2,883.6 L1811.9,882.5 L1813.5,881.5 L1815.2,880.3 L1816.8,879.2 L1818.5,878.1 L1820.1,876.9 L1821.7,875.7 L1823.3,874.5 L1824.8,873.3 L1826.4,872.0 L1828.0,870.8 L1829.5,869.5 L1831.1,868.2 L1832.6,867.0 L1834.1,865.7 L1835.6,864.4 L1837.1,863.0 L1838.6,861.7 L1840.1,860.4 L1841.6,859.0 L1843.0,857.6 L1844.5,856.3 L1845.9,854.9 L1847.3,853.5 L1848.8,852.1 L1850.2,850.6 L1851.5,849.2 L1852.9,847.7 L1854.3,846.3 L1855.6,844.8 L1857.0,843.3 L1858.3,841.8 L1859.6,840.3 L1860.9,838.8 L1862.2,837.2 L1863.4,835.7 L1864.7,834.1 L1865.9,832.6 L1867.1,831.0 L1868.4,829.4 L1869.6,827.8 L1870.7,826.2 L1871.9,824.6 L1873.1,823.0 L1874.2,821.3 L1875.3,819.7 L1876.4,818.0 L1877.5,816.3 L1878.6,814.7 L1879.7,813.0 L1880.8,811.3 L1881.8,809.6 L1882.9,807.9 L1883.9,806.2 L1884.9,804.4 L1885.9,802.7 L1886.9,801.0 L1887.9,799.3 L1888.9,797.5 L1889.9,795.8 L1890.9,794.0 L1891.8,792.3 L1892.8,790.5 L1893.8,788.8 L1894.7,787.0 L1895.7,785.2 L1896.6,783.5 L1897.5,781.7 L1898.4,779.9 L1899.3,778.1 L1900.2,776.3 L1901.1,774.6 L1901.9,772.7 L1902.8,770.9 L1903.6,769.1 L1904.4,767.3 L1905.2,765.5 L1906.0,763.6 L1906.8,761.8 L1907.6,759.9 L1908.3,758.1 L1909.0,756.2 L1909.7,754.4 L1910.4,752.5 L1911.1,750.6 L1911.8,748.7 L1912.5,746.8 L1913.1,744.9 L1913.8,743.1 L1914.4,741.2 L1915.0,739.3 L1915.6,737.3 L1916.2,735.4 L1916.8,733.5 L1917.4,731.6 L1917.9,729.7 L1918.5,727.8 L1919.0,725.8 L1919.6,723.9 L1920.1,722.0 L1920.6,720.1 L1921.1,718.1 L1921.6,716.2 L1922.1,714.3 L1922.6,712.3 L1923.1,710.4 L1923.6,708.4 L1924.1,706.5 L1924.6,704.6 L1925.0,702.6 L1925.5,700.7 L1926.0,698.7 L1926.4,696.8 L1926.9,694.8 L1927.3,692.9 L1927.8,690.9 L1928.2,689.0 L1928.6,687.0 L1929.1,685.1 L1929.5,683.1 L1930.0,681.2 L1930.4,679.2 L1930.8,677.3 L1931.3,675.3 L1931.7,673.4 L1932.1,671.4 L1932.5,669.5 L1933.0,667.5 L1933.4,665.5 L1933.8,663.6 L1934.2,661.6 L1934.6,659.7 L1935.1,657.7 L1935.5,655.8 L1935.9,653.8 L1936.3,651.8 L1936.7,649.9 L1937.1,647.9 L1937.5,646.0 L1937.9,644.0 L1938.3,642.1 L1938.7,640.1 L1939.1,638.1 L1939.5,636.2 L1939.9,634.2 L1940.3,632.3 L1940.7,630.3 L1941.1,628.3 L1941.4,626.4 L1941.8,624.4 L1942.2,622.4 L1942.6,620.5 L1943.0,618.5 L1943.4,616.6 L1943.7,614.6 L1944.1,612.6 L1944.5,610.7 L1944.9,608.7 L1945.2,606.7 L1945.6,604.8 L1946.0,602.8 L1946.3,600.8 L1946.7,598.9 L1947.1,596.9 L1947.4,594.9 L1947.8,593.0 L1948.2,591.0 L1948.5,589.0 L1948.9,587.1 L1949.3,585.1 L1949.6,583.1 L1950.0,581.2 L1950.4,579.2 L1950.7,577.2 L1951.1,575.3 L1951.4,573.3 L1951.8,571.3 L1952.2,569.4 L1952.5,567.4 L1952.9,565.4 L1953.3,563.5 L1953.6,561.5 L1954.0,559.5 L1954.4,557.6 L1954.7,555.6 L1955.1,553.6 L1955.4,551.7 L1955.8,549.7 L1956.2,547.7 L1956.5,545.8 L1956.9,543.8 L1957.3,541.8 L1957.6,539.9 L1958.0,537.9 L1958.4,535.9 L1958.7,534.0 L1959.1,532.0 L1959.4,530.0 L1959.8,528.1 L1960.2,526.1 L1960.5,524.1 L1960.9,522.2 L1961.3,520.2 L1961.6,518.2 L1962.0,516.3 L1962.4,514.3 L1962.7,512.3 L1963.1,510.4 L1963.4,508.4 L1963.8,506.4 L1964.2,504.5 L1964.5,502.5 L1964.9,500.5 L1965.3,498.6 L1965.6,496.6 L1966.0,494.6 L1966.4,492.7 L1966.7,490.7 L1967.1,488.7 L1967.4,486.8 L1967.8,484.8 L1968.2,482.8 L1968.5,480.9 L1968.9,478.9 L1969.3,476.9 L1969.6,475.0 L1970.0,473.0 L1970.4,471.0 L1970.7,469.1 L1971.1,467.1 L1971.4,465.1 L1971.8,463.2 L1972.2,461.2 L1972.5,459.2 L1972.9,457.3 L1973.3,455.3 L1973.6,453.3 L1974.0,451.4 L1974.3,449.4 L1974.7,447.4 L1975.1,445.5 L1975.4,443.5 L1975.8,441.5 L1976.2,439.6 L1976.5,437.6 L1976.9,435.6 L1977.3,433.7 L1977.6,431.7 L1978.0,429.7 L1978.3,427.8 L1978.7,425.8 L1979.1,423.8 L1979.4,421.9 L1979.8,419.9 L1980.2,417.9 L1980.5,416.0 L1980.9,414.0 L1981.3,412.0 L1981.6,410.1 L1982.0,408.1 L1982.4,406.1 L1982.8,404.2 L1983.1,402.2 L1983.5,400.2 L1983.9,398.3 L1984.2,396.3 L1984.6,394.3 L1985.0,392.4 L1985.4,390.4 L1985.7,388.5 L1986.1,386.5 L1986.5,384.5 L1986.9,382.6 L1987.2,380.6 L1987.6,378.6 L1988.0,376.7 L1988.4,374.7 L1988.7,372.7 L1989.1,370.8 L1989.5,368.8 L1989.9,366.9 L1990.3,364.9 L1990.8,363.0 L1991.2,361.0 L1991.6,359.1 L1992.1,357.1 L1992.6,355.2 L1993.1,353.2 L1993.6,351.3 L1994.2,349.4 L1994.7,347.5 L1995.3,345.6 L1995.9,343.7 L1996.5,341.7 L1997.0,339.8 L1997.5,337.9 L1998.1,336.0 L1998.6,334.0 L1999.1,332.1 L1999.6,330.2 L2000.1,328.2 L2000.6,326.3 L2001.0,324.3 L2001.5,322.4 L2002.0,320.5 L2002.5,318.5 L2003.0,316.6 L2003.5,314.6 L2004.0,312.7 L2004.6,310.8 L2005.1,308.9 L2005.6,306.9 L2006.2,305.0 L2006.8,303.1 L2007.4,301.2 L2008.1,299.3 L2008.9,297.5 L2009.7,295.7 L2010.7,294.0 L2011.9,292.4 L2013.3,291.1 L2014.9,290.0 L2016.7,289.0 L2018.4,288.1 L2020.2,287.1 L2022.0,286.3 L2023.8,285.4 L2025.6,284.6 L2027.4,284.1 L2029.2,284.2 L2030.8,285.0 L2032.2,286.3 L2033.4,287.9 L2034.4,289.6 L2035.4,291.3 L2036.4,293.0 L2037.3,294.8 L2038.2,296.6 L2039.0,298.4 L2039.9,300.2 L2040.7,302.1 L2041.4,303.9 L2042.2,305.8 L2043.0,307.6 L2043.7,309.5 L2044.4,311.4 L2045.1,313.2 L2045.8,315.1 L2046.5,317.0 L2047.1,318.9 L2047.8,320.8 L2048.4,322.7 L2049.0,324.6 L2049.6,326.5 L2050.2,328.4 L2050.7,330.3 L2051.3,332.2 L2051.9,334.2 L2052.4,336.1 L2052.9,338.0 L2053.5,339.9 L2054.0,341.9 L2054.5,343.8 L2055.0,345.7 L2055.4,347.7 L2055.9,349.6 L2056.3,351.6 L2056.8,353.5 L2057.2,355.5 L2057.6,357.4 L2058.0,359.4 L2058.4,361.4 L2058.8,363.3 L2059.1,365.3 L2059.5,367.3 L2059.8,369.2 L2060.2,371.2 L2060.5,373.2 L2060.9,375.1 L2061.2,377.1 L2061.6,379.1 L2061.9,381.1 L2062.2,383.0 L2062.5,385.0 L2062.8,387.0 L2063.2,389.0 L2063.5,390.9 L2063.8,392.9 L2064.1,394.9 L2064.4,396.9 L2064.7,398.8 L2065.0,400.8 L2065.3,402.8 L2065.6,404.8 L2065.9,406.7 L2066.2,408.7 L2066.5,410.7 L2066.8,412.7 L2067.1,414.7 L2067.4,416.6 L2067.7,418.6 L2067.9,420.6 L2068.2,422.6 L2068.5,424.5 L2068.8,426.5 L2069.1,428.5 L2069.4,430.5 L2069.7,432.5 L2070.0,434.4 L2070.2,436.4 L2070.5,438.4 L2070.8,440.4 L2071.1,442.4 L2071.4,444.3 L2071.7,446.3 L2072.0,448.3 L2072.3,450.3 L2072.6,452.3 L2072.9,454.2 L2073.2,456.2 L2073.5,458.2 L2073.8,460.2 L2074.1,462.1 L2074.4,464.1 L2074.7,466.1 L2075.0,468.1 L2075.3,470.0 L2075.6,472.0 L2075.9,474.0 L2076.2,476.0 L2076.6,477.9 L2076.9,479.9 L2077.2,481.9 L2077.6,483.9 L2077.9,485.8 L2078.2,487.8 L2078.6,489.8 L2078.9,491.7 L2079.3,493.7 L2079.6,495.7 L2080.0,497.6 L2080.4,499.6 L2080.7,501.6 L2081.1,503.5 L2081.5,505.5 L2081.9,507.5 L2082.2,509.4 L2082.6,511.4 L2083.0,513.4 L2083.4,515.3 L2083.8,517.3 L2084.1,519.3 L2084.5,521.2 L2084.9,523.2 L2085.3,525.1 L2085.7,527.1 L2086.1,529.1 L2086.4,531.0 L2086.8,533.0 L2087.2,535.0 L2087.6,536.9 L2088.0,538.9 L2088.4,540.8 L2088.7,542.8 L2089.1,544.8 L2089.5,546.7 L2089.9,548.7 L2090.3,550.7 L2090.7,552.6 L2091.0,554.6 L2091.4,556.5 L2091.8,558.5 L2092.2,560.5 L2092.6,562.4 L2093.0,564.4 L2093.4,566.4 L2093.7,568.3 L2094.1,570.3 L2094.5,572.2 L2094.9,574.2 L2095.3,576.2 L2095.7,578.1 L2096.1,580.1 L2096.5,582.1 L2096.8,584.0 L2097.2,586.0 L2097.6,587.9 L2098.0,589.9 L2098.4,591.9 L2098.8,593.8 L2099.2,595.8 L2099.6,597.8 L2099.9,599.7 L2100.3,601.7 L2100.7,603.6 L2101.1,605.6 L2101.5,607.6 L2101.9,609.5 L2102.3,611.5 L2102.7,613.4 L2103.1,615.4 L2103.4,617.4 L2103.8,619.3 L2104.2,621.3 L2104.6,623.3 L2105.0,625.2 L2105.4,627.2 L2105.8,629.1 L2106.2,631.1 L2106.6,633.1 L2107.0,635.0 L2107.3,637.0 L2107.7,639.0 L2108.1,640.9 L2108.5,642.9 L2108.9,644.8 L2109.3,646.8 L2109.7,648.8 L2110.1,650.7 L2110.5,652.7 L2110.9,654.6 L2111.3,656.6 L2111.6,658.6 L2112.0,660.5 L2112.4,662.5 L2112.8,664.4 L2113.2,666.4 L2113.6,668.4 L2114.0,670.3 L2114.4,672.3 L2114.8,674.3 L2115.2,676.2 L2115.6,678.2 L2116.0,680.1 L2116.4,682.1 L2116.8,684.1 L2117.2,686.0 L2117.6,688.0 L2118.0,689.9 L2118.4,691.9 L2118.8,693.9 L2119.2,695.8 L2119.6,697.8 L2120.0,699.7 L2120.4,701.7 L2120.8,703.6 L2121.2,705.6 L2121.6,707.6 L2122.0,709.5 L2122.4,711.5 L2122.8,713.4 L2123.3,715.4 L2123.7,717.3 L2124.1,719.3 L2124.6,721.2 L2125.0,723.2 L2125.5,725.1 L2125.9,727.1 L2126.4,729.0 L2126.8,731.0 L2127.3,732.9 L2127.7,734.9 L2128.2,736.8 L2128.7,738.8 L2129.2,740.7 L2129.7,742.6 L2130.2,744.6 L2130.7,746.5 L2131.2,748.5 L2131.7,750.4 L2132.2,752.3 L2132.7,754.2 L2133.3,756.2 L2133.8,758.1 L2134.3,760.0 L2134.9,761.9 L2135.5,763.9 L2136.0,765.8 L2136.6,767.7 L2137.2,769.6 L2137.8,771.5 L2138.4,773.4 L2139.1,775.3 L2139.7,777.2 L2140.4,779.1 L2141.0,781.0 L2141.7,782.9 L2142.4,784.7 L2143.1,786.6 L2143.8,788.5 L2144.5,790.3 L2145.2,792.2 L2146.0,794.1 L2146.7,795.9 L2147.5,797.8 L2148.2,799.6 L2149.0,801.5 L2149.8,803.3 L2150.6,805.1 L2151.4,807.0 L2152.2,808.8 L2153.0,810.6 L2153.8,812.5 L2154.6,814.3 L2155.5,816.1 L2156.4,817.9 L2157.2,819.7 L2158.1,821.5 L2159.1,823.2 L2160.0,825.0 L2160.9,826.8 L2161.9,828.5 L2162.9,830.3 L2163.9,832.0 L2164.9,833.7 L2165.9,835.4 L2167.0,837.1 L2168.0,838.8 L2169.1,840.5 L2170.2,842.2 L2171.3,843.8 L2172.5,845.5 L2173.6,847.1 L2174.8,848.7 L2176.0,850.3 L2177.3,851.8 L2178.5,853.4 L2179.8,854.9 L2181.1,856.4 L2182.5,857.9 L2183.8,859.3 L2185.2,860.8 L2186.6,862.2 L2188.1,863.6 L2189.5,864.9 L2191.0,866.2 L2192.5,867.6 L2194.0,868.8 L2195.6,870.1 L2197.1,871.3 L2198.7,872.5 L2200.3,873.7 L2202.0,874.8 L2203.7,875.9 L2205.4,876.9 L2207.1,877.9 L2208.8,878.8 L2210.6,879.7 L2212.4,880.5 L2214.2,881.2 L2216.1,881.9 L2218.0,882.5 L2219.8,883.0 L2221.8,883.5 L2223.7,883.8 L2225.7,884.2 L2227.6,884.4 L2229.6,884.7 L2231.6,884.8 L2233.5,885.0 L2235.5,885.0 L2237.5,885.1 L2239.5,885.1 L2241.5,885.1 L2243.5,885.1 L2245.5,885.0 L2247.5,885.0 L2249.5,884.9 L2251.5,884.8 L2253.5,884.7 L2255.5,884.6 L2257.5,884.5 L2259.5,884.3 L2261.5,884.2 L2263.5,884.1 L2265.5,883.9 L2267.5,883.8 L2269.5,883.6 L2271.5,883.5 L2273.4,883.4 L2275.4,883.2 L2277.4,883.1 L2279.4,882.9 L2281.4,882.8 L2283.4,882.7 L2285.4,882.6 L2287.4,882.5 L2289.4,882.4 L2291.4,882.3 L2293.4,882.2 L2295.4,882.2 L2297.4,882.1 L2299.4,882.1 L2301.4,882.1 L2303.4,882.1 L2305.3,882.1 L2307.2,882.1 L2309.1,882.1 L2311.0,882.1 L2312.7,882.2 L2314.4,882.2 L2316.0,882.3 L2317.3,882.3 L2318.5,882.4 L2323.4,882.6" stroke="#000000" stroke-width="5.0" clip-path="url(#cr)"/>
<path d="M1302.9,892.0 L1307.7,892.1 L1308.9,892.1 L1310.3,892.1 L1311.9,892.2 L1313.5,892.2 L1315.3,892.2 L1317.1,892.2 L1319.0,892.3 L1320.9,892.3 L1322.9,892.4 L1324.9,892.4 L1326.9,892.4 L1328.9,892.5 L1330.9,892.5 L1332.9,892.5 L1334.9,892.6 L1336.9,892.6 L1338.9,892.7 L1340.9,892.7 L1342.8,892.8 L1344.8,892.8 L1346.8,892.9 L1348.8,892.9 L1350.8,893.0 L1352.8,893.0 L1354.8,893.1 L1356.8,893.1 L1358.8,893.2 L1360.8,893.2 L1362.8,893.2 L1364.8,893.3 L1366.8,893.3 L1368.8,893.4 L1370.8,893.4 L1372.8,893.5 L1374.8,893.5 L1376.8,893.6 L1378.8,893.6 L1380.8,893.7 L1382.8,893.7 L1384.8,893.8 L1386.8,893.8 L1388.8,893.9 L1390.8,893.9 L1392.8,894.0 L1394.8,894.0 L1396.8,894.1 L1398.8,894.1 L1400.8,894.2 L1402.8,894.2 L1404.8,894.3 L1406.8,894.3 L1408.8,894.4 L1410.8,894.4 L1412.8,894.5 L1414.8,894.5 L1416.8,894.6 L1418.8,894.6 L1420.8,894.7 L1422.8,894.7 L1424.8,894.8 L1426.8,894.8 L1428.8,894.9 L1430.8,894.9 L1432.8,895.0 L1434.8,895.0 L1436.8,895.1 L1438.8,895.1 L1440.8,895.2 L1442.8,895.2 L1444.8,895.3 L1446.8,895.3 L1448.8,895.4 L1450.8,895.4 L1452.8,895.5 L1454.8,895.5 L1456.8,895.5 L1458.8,895.5 L1460.8,895.5 L1462.8,895.5 L1464.8,895.4 L1466.8,895.4 L1468.8,895.3 L1470.8,895.2 L1472.8,895.1 L1474.8,895.0 L1476.8,894.9 L1478.8,894.8 L1480.8,894.7 L1482.8,894.5 L1484.8,894.4 L1486.8,894.4 L1488.7,894.3 L1490.7,894.3 L1492.7,894.3 L1494.7,894.3 L1496.7,894.4 L1498.7,894.5 L1500.7,894.7 L1502.7,894.9 L1504.7,895.1 L1506.6,895.4 L1508.6,895.7 L1510.6,896.0 L1512.5,896.3 L1514.5,896.7 L1516.5,897.0 L1518.4,897.4 L1520.4,897.8 L1522.4,898.2 L1524.3,898.6 L1526.3,899.0 L1528.2,899.4 L1530.2,899.8 L1532.1,900.2 L1534.1,900.7 L1536.1,901.1 L1538.0,901.4 L1540.0,901.8 L1541.9,902.2 L1543.9,902.5 L1545.9,902.8 L1547.9,903.1 L1549.8,903.4 L1551.8,903.6 L1553.8,903.8 L1555.8,903.9 L1557.8,904.1 L1559.8,904.1 L1561.8,904.2 L1563.7,904.2 L1565.7,904.2 L1567.7,904.2 L1569.7,904.1 L1571.7,904.0 L1573.7,903.9 L1575.7,903.7 L1577.7,903.5 L1579.7,903.3 L1581.6,903.1 L1583.6,902.8 L1585.6,902.5 L1587.5,902.1 L1589.5,901.7 L1591.4,901.3 L1593.4,900.8 L1595.3,900.3 L1597.2,899.8 L1599.1,899.3 L1601.1,898.7 L1603.0,898.2 L1604.9,897.6 L1606.8,897.0 L1608.7,896.4 L1610.6,895.8 L1612.5,895.2 L1614.4,894.6 L1616.3,894.0 L1618.2,893.3 L1620.1,892.7 L1622.0,892.0 L1623.8,891.2 L1625.7,890.5 L1627.5,889.8 L1629.4,889.0 L1631.2,888.2 L1633.0,887.3 L1634.8,886.5 L1636.6,885.6 L1638.4,884.7 L1640.2,883.8 L1641.9,882.9 L1643.7,881.9 L1645.4,880.9 L1647.1,879.9 L1648.8,878.9 L1650.5,877.8 L1652.2,876.7 L1653.9,875.6 L1655.6,874.5 L1657.2,873.4 L1658.8,872.2 L1660.5,871.1 L1662.1,869.9 L1663.7,868.7 L1665.3,867.5 L1666.8,866.3 L1668.4,865.0 L1669.9,863.7 L1671.4,862.4 L1673.0,861.1 L1674.4,859.8 L1675.9,858.5 L1677.4,857.1 L1678.9,855.8 L1680.3,854.4 L1681.7,853.0 L1683.2,851.6 L1684.6,850.2 L1686.0,848.8 L1687.4,847.3 L1688.8,845.9 L1690.2,844.4 L1691.5,843.0 L1692.9,841.5 L1694.3,840.1 L1695.6,838.6 L1696.9,837.1 L1698.3,835.6 L1699.6,834.1 L1700.9,832.6 L1702.2,831.0 L1703.4,829.5 L1704.7,828.0 L1706.0,826.4 L1707.2,824.8 L1708.4,823.2 L1709.6,821.7 L1710.8,820.1 L1712.0,818.5 L1713.2,816.8 L1714.4,815.2 L1715.5,813.6 L1716.6,811.9 L1717.8,810.3 L1718.9,808.6 L1720.0,807.0 L1721.1,805.3 L1722.2,803.6 L1723.3,802.0 L1724.4,800.3 L1725.5,798.6 L1726.5,796.9 L1727.6,795.2 L1728.6,793.5 L1729.7,791.8 L1730.7,790.1 L1731.7,788.4 L1732.8,786.7 L1733.8,784.9 L1734.8,783.2 L1735.8,781.5 L1736.8,779.7 L1737.8,778.0 L1738.8,776.3 L1739.8,774.5 L1740.7,772.8 L1741.7,771.0 L1742.7,769.3 L1743.6,767.5 L1744.6,765.8 L1745.5,764.0 L1746.5,762.2 L1747.4,760.5 L1748.3,758.7 L1749.2,756.9 L1750.1,755.1 L1751.0,753.3 L1752.0,751.6 L1752.9,749.8 L1753.8,748.0 L1754.7,746.2 L1755.5,744.4 L1756.4,742.6 L1757.3,740.8 L1758.2,739.0 L1759.1,737.3 L1760.0,735.5 L1760.9,733.7 L1761.8,731.9 L1762.6,730.1 L1763.5,728.3 L1764.4,726.5 L1765.3,724.7 L1766.1,722.9 L1767.0,721.1 L1767.9,719.3 L1768.7,717.5 L1769.6,715.7 L1770.5,713.9 L1771.3,712.1 L1772.2,710.3 L1773.1,708.5 L1773.9,706.7 L1774.8,704.9 L1775.6,703.0 L1776.5,701.2 L1777.4,699.4 L1778.2,697.6 L1779.1,695.8 L1779.9,694.0 L1780.8,692.2 L1781.6,690.4 L1782.5,688.6 L1783.3,686.8 L1784.2,685.0 L1785.0,683.1 L1785.9,681.3 L1786.7,679.5 L1787.6,677.7 L1788.4,675.9 L1789.3,674.1 L1790.1,672.3 L1791.0,670.5 L1791.8,668.7 L1792.6,666.8 L1793.5,665.0 L1794.3,663.2 L1795.2,661.4 L1796.0,659.6 L1796.9,657.8 L1797.7,656.0 L1798.5,654.1 L1799.4,652.3 L1800.2,650.5 L1801.0,648.7 L1801.9,646.9 L1802.7,645.1 L1803.5,643.2 L1804.4,641.4 L1805.2,639.6 L1806.0,637.8 L1806.9,636.0 L1807.7,634.1 L1808.5,632.3 L1809.4,630.5 L1810.2,628.7 L1811.0,626.9 L1811.8,625.0 L1812.7,623.2 L1813.5,621.4 L1814.3,619.6 L1815.1,617.7 L1816.0,615.9 L1816.8,614.1 L1817.6,612.3 L1818.4,610.4 L1819.2,608.6 L1820.1,606.8 L1820.9,605.0 L1821.7,603.1 L1822.5,601.3 L1823.3,599.5 L1824.1,597.7 L1824.9,595.8 L1825.7,594.0 L1826.6,592.2 L1827.4,590.3 L1828.2,588.5 L1829.0,586.7 L1829.8,584.9 L1830.6,583.0 L1831.4,581.2 L1832.2,579.4 L1833.0,577.5 L1833.8,575.7 L1834.6,573.9 L1835.4,572.0 L1836.2,570.2 L1837.0,568.4 L1837.8,566.5 L1838.6,564.7 L1839.3,562.8 L1840.1,561.0 L1840.9,559.2 L1841.7,557.3 L1842.5,555.5 L1843.3,553.7 L1844.1,551.8 L1844.9,550.0 L1845.6,548.1 L1846.4,546.3 L1847.2,544.5 L1848.0,542.6 L1848.8,540.8 L1849.6,538.9 L1850.3,537.1 L1851.1,535.2 L1851.9,533.4 L1852.7,531.6 L1853.4,529.7 L1854.2,527.9 L1855.0,526.0 L1855.8,524.2 L1856.5,522.3 L1857.3,520.5 L1858.1,518.6 L1858.8,516.8 L1859.6,515.0 L1860.4,513.1 L1861.1,511.3 L1861.9,509.4 L1862.7,507.6 L1863.4,505.7 L1864.2,503.9 L1865.0,502.0 L1865.7,500.2 L1866.5,498.3 L1867.2,496.5 L1868.0,494.6 L1868.7,492.8 L1869.5,490.9 L1870.2,489.1 L1871.0,487.2 L1871.7,485.3 L1872.5,483.5 L1873.2,481.6 L1874.0,479.8 L1874.7,477.9 L1875.4,476.1 L1876.2,474.2 L1876.9,472.3 L1877.7,470.5 L1878.4,468.6 L1879.1,466.8 L1879.9,464.9 L1880.6,463.0 L1881.3,461.2 L1882.1,459.3 L1882.8,457.5 L1883.5,455.6 L1884.2,453.7 L1885.0,451.9 L1885.7,450.0 L1886.4,448.1 L1887.2,446.3 L1887.9,444.4 L1888.6,442.6 L1889.4,440.7 L1890.1,438.8 L1890.8,437.0 L1891.5,435.1 L1892.3,433.2 L1893.0,431.4 L1893.7,429.5 L1894.5,427.7 L1895.2,425.8 L1895.9,423.9 L1896.7,422.1 L1897.4,420.2 L1898.1,418.4 L1898.9,416.5 L1899.6,414.6 L1900.4,412.8 L1901.1,410.9 L1901.9,409.1 L1902.6,407.2 L1903.4,405.4 L1904.1,403.5 L1904.9,401.7 L1905.6,399.8 L1906.4,398.0 L1907.1,396.1 L1907.9,394.3 L1908.6,392.4 L1909.4,390.6 L1910.2,388.7 L1910.9,386.9 L1911.7,385.0 L1912.5,383.2 L1913.3,381.3 L1914.1,379.5 L1914.8,377.7 L1915.6,375.8 L1916.4,374.0 L1917.2,372.1 L1918.0,370.3 L1918.8,368.5 L1919.6,366.7 L1920.4,364.8 L1921.3,363.0 L1922.1,361.2 L1922.9,359.4 L1923.7,357.5 L1924.6,355.7 L1925.4,353.9 L1926.3,352.1 L1927.2,350.3 L1928.0,348.5 L1928.9,346.7 L1929.8,344.9 L1930.7,343.1 L1931.6,341.4 L1932.5,339.6 L1933.4,337.8 L1934.4,336.0 L1935.3,334.2 L1936.2,332.5 L1937.1,330.7 L1938.1,328.9 L1939.0,327.2 L1939.9,325.4 L1940.9,323.6 L1941.8,321.9 L1942.7,320.1 L1943.7,318.3 L1944.6,316.6 L1945.6,314.8 L1946.6,313.1 L1947.7,311.4 L1948.7,309.7 L1949.8,308.0 L1951.0,306.4 L1952.2,304.8 L1953.5,303.3 L1954.8,301.8 L1956.3,300.5 L1957.9,299.2 L1959.5,298.1 L1961.1,296.9 L1962.8,295.8 L1964.5,294.7 L1966.1,293.6 L1967.8,292.6 L1969.6,291.7 L1971.4,291.0 L1973.4,290.5 L1975.3,290.3 L1977.3,290.2 L1979.3,290.2 L1981.3,290.1 L1983.3,290.0 L1985.3,290.1 L1987.2,290.6 L1989.0,291.3 L1990.6,292.4 L1992.2,293.6 L1993.7,294.9 L1995.2,296.2 L1996.7,297.5 L1998.3,298.8 L1999.8,300.1 L2001.3,301.4 L2002.8,302.7 L2004.3,304.0 L2005.8,305.4 L2007.3,306.7 L2008.7,308.2 L2010.0,309.7 L2011.3,311.2 L2012.5,312.7 L2013.7,314.3 L2014.9,316.0 L2016.0,317.6 L2017.2,319.3 L2018.3,320.9 L2019.3,322.6 L2020.4,324.3 L2021.4,326.1 L2022.4,327.8 L2023.3,329.5 L2024.3,331.3 L2025.2,333.1 L2026.1,334.9 L2026.9,336.7 L2027.8,338.5 L2028.6,340.3 L2029.4,342.1 L2030.2,344.0 L2031.0,345.8 L2031.8,347.6 L2032.5,349.5 L2033.3,351.3 L2034.0,353.2 L2034.7,355.1 L2035.5,356.9 L2036.2,358.8 L2036.9,360.7 L2037.5,362.6 L2038.2,364.4 L2038.9,366.3 L2039.6,368.2 L2040.2,370.1 L2040.9,372.0 L2041.6,373.9 L2042.2,375.8 L2042.9,377.6 L2043.5,379.5 L2044.2,381.4 L2044.8,383.3 L2045.5,385.2 L2046.1,387.1 L2046.8,389.0 L2047.4,390.9 L2048.1,392.8 L2048.7,394.7 L2049.3,396.6 L2050.0,398.5 L2050.6,400.4 L2051.2,402.3 L2051.9,404.2 L2052.5,406.1 L2053.1,408.0 L2053.8,409.9 L2054.4,411.8 L2055.0,413.7 L2055.6,415.6 L2056.3,417.5 L2056.9,419.4 L2057.5,421.3 L2058.2,423.2 L2058.8,425.1 L2059.4,427.0 L2060.0,428.9 L2060.6,430.8 L2061.3,432.7 L2061.9,434.6 L2062.5,436.5 L2063.1,438.4 L2063.7,440.3 L2064.4,442.2 L2065.0,444.1 L2065.6,446.0 L2066.2,447.9 L2066.8,449.8 L2067.4,451.7 L2068.0,453.6 L2068.7,455.5 L2069.3,457.4 L2069.9,459.3 L2070.5,461.2 L2071.1,463.1 L2071.7,465.0 L2072.3,466.9 L2072.9,468.8 L2073.5,470.7 L2074.1,472.6 L2074.7,474.5 L2075.3,476.5 L2075.9,478.4 L2076.5,480.3 L2077.1,482.2 L2077.7,484.1 L2078.3,486.0 L2078.9,487.9 L2079.5,489.8 L2080.1,491.7 L2080.7,493.6 L2081.3,495.5 L2081.9,497.5 L2082.4,499.4 L2083.0,501.3 L2083.6,503.2 L2084.2,505.1 L2084.7,507.0 L2085.3,509.0 L2085.8,510.9 L2086.3,512.8 L2086.9,514.7 L2087.4,516.7 L2087.9,518.6 L2088.4,520.5 L2088.9,522.5 L2089.4,524.4 L2089.9,526.3 L2090.4,528.3 L2090.9,530.2 L2091.4,532.2 L2091.9,534.1 L2092.4,536.0 L2092.9,538.0 L2093.4,539.9 L2093.9,541.9 L2094.3,543.8 L2094.8,545.7 L2095.3,547.7 L2095.8,549.6 L2096.3,551.6 L2096.7,553.5 L2097.2,555.4 L2097.7,557.4 L2098.2,559.3 L2098.7,561.3 L2099.2,563.2 L2099.7,565.1 L2100.1,567.1 L2100.6,569.0 L2101.1,571.0 L2101.6,572.9 L2102.1,574.8 L2102.7,576.8 L2103.2,578.7 L2103.7,580.6 L2104.2,582.6 L2104.7,584.5 L2105.3,586.4 L2105.8,588.3 L2106.4,590.3 L2106.9,592.2 L2107.5,594.1 L2108.1,596.0 L2108.6,597.9 L2109.2,599.8 L2109.8,601.8 L2110.4,603.7 L2111.0,605.6 L2111.6,607.5 L2112.2,609.4 L2112.9,611.3 L2113.5,613.2 L2114.1,615.1 L2114.7,617.0 L2115.4,618.9 L2116.0,620.8 L2116.6,622.7 L2117.2,624.6 L2117.9,626.5 L2118.5,628.4 L2119.2,630.3 L2119.8,632.2 L2120.4,634.0 L2121.1,635.9 L2121.7,637.8 L2122.4,639.7 L2123.0,641.6 L2123.7,643.5 L2124.4,645.4 L2125.0,647.3 L2125.7,649.2 L2126.3,651.1 L2127.0,652.9 L2127.7,654.8 L2128.3,656.7 L2129.0,658.6 L2129.7,660.5 L2130.4,662.4 L2131.0,664.2 L2131.7,666.1 L2132.4,668.0 L2133.1,669.9 L2133.8,671.8 L2134.5,673.6 L2135.2,675.5 L2135.8,677.4 L2136.5,679.3 L2137.2,681.1 L2137.9,683.0 L2138.6,684.9 L2139.3,686.8 L2140.0,688.6 L2140.7,690.5 L2141.4,692.4 L2142.1,694.3 L2142.8,696.1 L2143.6,698.0 L2144.3,699.9 L2145.0,701.7 L2145.7,703.6 L2146.4,705.5 L2147.1,707.3 L2147.8,709.2 L2148.5,711.1 L2149.2,713.0 L2150.0,714.8 L2150.7,716.7 L2151.4,718.6 L2152.1,720.4 L2152.8,722.3 L2153.5,724.2 L2154.3,726.0 L2155.0,727.9 L2155.7,729.8 L2156.4,731.6 L2157.1,733.5 L2157.9,735.3 L2158.6,737.2 L2159.3,739.1 L2160.0,740.9 L2160.8,742.8 L2161.5,744.7 L2162.2,746.5 L2163.0,748.4 L2163.7,750.2 L2164.5,752.1 L2165.2,754.0 L2165.9,755.8 L2166.7,757.7 L2167.4,759.5 L2168.2,761.4 L2168.9,763.2 L2169.7,765.1 L2170.4,766.9 L2171.2,768.8 L2172.0,770.6 L2172.7,772.5 L2173.5,774.3 L2174.3,776.2 L2175.1,778.0 L2175.9,779.8 L2176.7,781.7 L2177.5,783.5 L2178.3,785.3 L2179.1,787.1 L2180.0,789.0 L2180.8,790.8 L2181.7,792.6 L2182.6,794.4 L2183.5,796.2 L2184.4,797.9 L2185.3,799.7 L2186.2,801.5 L2187.1,803.2 L2188.1,805.0 L2189.1,806.8 L2190.0,808.5 L2191.0,810.2 L2192.0,812.0 L2193.0,813.7 L2194.0,815.4 L2195.1,817.1 L2196.1,818.8 L2197.2,820.5 L2198.2,822.2 L2199.3,823.9 L2200.4,825.6 L2201.5,827.3 L2202.6,828.9 L2203.7,830.6 L2204.9,832.2 L2206.0,833.9 L2207.2,835.5 L2208.4,837.1 L2209.6,838.7 L2210.8,840.3 L2212.0,841.8 L2213.3,843.4 L2214.6,844.9 L2215.9,846.4 L2217.2,847.9 L2218.5,849.4 L2219.8,850.9 L2221.2,852.4 L2222.6,853.8 L2224.0,855.2 L2225.4,856.6 L2226.8,858.0 L2228.3,859.4 L2229.8,860.7 L2231.3,862.1 L2232.8,863.4 L2234.3,864.6 L2235.8,865.9 L2237.4,867.1 L2239.0,868.3 L2240.6,869.5 L2242.3,870.6 L2243.9,871.7 L2245.6,872.8 L2247.3,873.8 L2249.0,874.8 L2250.8,875.8 L2252.5,876.7 L2254.3,877.6 L2256.1,878.5 L2257.9,879.3 L2259.7,880.1 L2261.6,880.9 L2263.4,881.6 L2265.3,882.3 L2267.2,883.0 L2269.1,883.6 L2271.0,884.1 L2272.9,884.7 L2274.8,885.1 L2276.8,885.6 L2278.7,886.0 L2280.7,886.4 L2282.6,886.8 L2284.6,887.1 L2286.6,887.4 L2288.5,887.8 L2290.5,888.0 L2292.5,888.3 L2294.5,888.6 L2296.5,888.8 L2298.4,889.0 L2300.4,889.2 L2302.4,889.4 L2304.4,889.6 L2306.3,889.8 L2308.2,890.0 L2310.1,890.1 L2312.0,890.3 L2313.7,890.4 L2315.4,890.5 L2316.9,890.6 L2318.3,890.7 L2319.5,890.8 L2324.4,891.1" stroke="#0000ff" stroke-width="5.3" clip-path="url(#cr)"/>
<path d="M15.9,1550.0 L20.8,1549.7 L21.9,1549.6 L23.3,1549.4 L24.9,1549.2 L26.5,1548.9 L28.2,1548.7 L30.0,1548.3 L31.9,1547.9 L33.7,1547.5 L35.6,1547.0 L37.5,1546.6 L39.4,1546.0 L41.4,1545.5 L43.3,1545.0 L45.2,1544.4 L47.1,1543.9 L49.0,1543.3 L51.0,1542.8 L52.9,1542.3 L54.8,1541.9 L56.8,1541.4 L58.7,1541.0 L60.7,1540.7 L62.7,1540.3 L64.6,1540.0 L66.6,1539.8 L68.6,1539.6 L70.6,1539.4 L72.5,1539.3 L74.5,1539.2 L76.5,1539.1 L78.5,1539.1 L80.5,1539.2 L82.5,1539.2 L84.5,1539.3 L86.5,1539.5 L88.5,1539.6 L90.4,1539.7 L92.4,1539.8 L94.4,1539.9 L96.4,1540.0 L98.4,1540.0 L100.4,1540.0 L102.4,1540.0 L104.4,1539.9 L106.4,1539.8 L108.4,1539.7 L110.4,1539.5 L112.3,1539.4 L114.3,1539.2 L116.3,1539.0 L118.3,1538.9 L120.3,1538.7 L122.3,1538.6 L124.3,1538.5 L126.3,1538.5 L128.3,1538.5 L130.3,1538.5 L132.2,1538.6 L134.2,1538.7 L136.2,1538.8 L138.2,1538.9 L140.2,1539.1 L142.2,1539.3 L144.2,1539.6 L146.1,1539.8 L148.1,1540.1 L150.1,1540.4 L152.1,1540.7 L154.0,1541.1 L156.0,1541.4 L158.0,1541.7 L160.0,1542.1 L161.9,1542.4 L163.9,1542.7 L165.9,1543.1 L167.8,1543.3 L169.8,1543.6 L171.8,1543.9 L173.8,1544.1 L175.8,1544.3 L177.8,1544.4 L179.7,1544.6 L181.7,1544.7 L183.7,1544.8 L185.7,1544.9 L187.7,1545.0 L189.7,1545.1 L191.7,1545.2 L193.7,1545.3 L195.7,1545.5 L197.6,1545.7 L199.6,1546.0 L201.6,1546.3 L203.5,1546.7 L205.4,1547.1 L207.4,1547.6 L209.3,1548.1 L211.2,1548.7 L213.1,1549.3 L214.9,1550.0 L216.8,1550.6 L218.7,1551.3 L220.5,1552.1 L222.4,1552.8 L224.3,1553.5 L226.1,1554.3 L228.0,1555.0 L229.9,1555.7 L231.7,1556.3 L233.6,1557.0 L235.5,1557.6 L237.4,1558.2 L239.3,1558.8 L241.2,1559.3 L243.2,1559.8 L245.1,1560.3 L247.1,1560.8 L249.0,1561.2 L251.0,1561.6 L252.9,1562.0 L254.9,1562.3 L256.8,1562.7 L258.8,1563.1 L260.8,1563.5 L262.7,1563.9 L264.7,1564.3 L266.6,1564.7 L268.6,1565.2 L270.5,1565.7 L272.4,1566.2 L274.3,1566.7 L276.2,1567.3 L278.2,1567.9 L280.1,1568.5 L282.0,1569.0 L283.9,1569.6 L285.8,1570.2 L287.7,1570.7 L289.6,1571.1 L291.6,1571.5 L293.5,1571.9 L295.4,1572.2 L297.4,1572.4 L299.3,1572.5 L301.3,1572.5 L303.2,1572.4 L305.1,1572.2 L307.0,1572.0 L308.9,1571.5 L310.7,1571.0 L312.5,1570.4 L314.3,1569.6 L315.9,1568.7 L317.6,1567.7 L319.2,1566.6 L320.7,1565.4 L322.1,1564.2 L323.5,1562.8 L324.9,1561.4 L326.2,1559.9 L327.5,1558.4 L328.7,1556.8 L329.9,1555.2 L331.0,1553.6 L332.1,1552.0 L333.2,1550.3 L334.3,1548.6 L335.3,1546.9 L336.3,1545.2 L337.3,1543.4 L338.2,1541.7 L339.2,1539.9 L340.1,1538.1 L341.0,1536.4 L341.9,1534.6 L342.8,1532.8 L343.7,1531.0 L344.5,1529.2 L345.4,1527.4 L346.2,1525.6 L347.1,1523.8 L347.9,1521.9 L348.7,1520.1 L349.6,1518.3 L350.4,1516.5 L351.2,1514.6 L352.0,1512.8 L352.7,1511.0 L353.5,1509.1 L354.3,1507.3 L355.0,1505.4 L355.8,1503.6 L356.5,1501.7 L357.3,1499.8 L358.0,1498.0 L358.7,1496.1 L359.4,1494.2 L360.1,1492.4 L360.8,1490.5 L361.5,1488.6 L362.2,1486.7 L362.8,1484.8 L363.5,1483.0 L364.1,1481.1 L364.7,1479.2 L365.3,1477.3 L365.9,1475.3 L366.5,1473.4 L367.1,1471.5 L367.6,1469.6 L368.2,1467.7 L368.7,1465.7 L369.2,1463.8 L369.7,1461.9 L370.3,1460.0 L370.8,1458.0 L371.3,1456.1 L371.8,1454.1 L372.2,1452.2 L372.7,1450.3 L373.2,1448.3 L373.7,1446.4 L374.2,1444.4 L374.6,1442.5 L375.1,1440.5 L375.5,1438.6 L376.0,1436.7 L376.5,1434.7 L376.9,1432.8 L377.4,1430.8 L377.8,1428.9 L378.2,1426.9 L378.7,1425.0 L379.1,1423.0 L379.6,1421.1 L380.0,1419.1 L380.4,1417.2 L380.9,1415.2 L381.3,1413.3 L381.8,1411.3 L382.2,1409.3 L382.6,1407.4 L383.1,1405.4 L383.5,1403.5 L383.9,1401.5 L384.4,1399.6 L384.8,1397.6 L385.2,1395.7 L385.7,1393.7 L386.1,1391.8 L386.5,1389.8 L387.0,1387.9 L387.4,1385.9 L387.8,1384.0 L388.2,1382.0 L388.7,1380.1 L389.1,1378.1 L389.5,1376.1 L389.9,1374.2 L390.3,1372.2 L390.7,1370.3 L391.2,1368.3 L391.6,1366.4 L392.0,1364.4 L392.4,1362.4 L392.8,1360.5 L393.2,1358.5 L393.6,1356.6 L394.0,1354.6 L394.4,1352.6 L394.7,1350.7 L395.1,1348.7 L395.5,1346.8 L395.9,1344.8 L396.3,1342.8 L396.7,1340.9 L397.1,1338.9 L397.5,1336.9 L397.8,1335.0 L398.2,1333.0 L398.6,1331.1 L399.0,1329.1 L399.4,1327.1 L399.8,1325.2 L400.2,1323.2 L400.5,1321.2 L400.9,1319.3 L401.3,1317.3 L401.7,1315.4 L402.1,1313.4 L402.5,1311.4 L402.8,1309.5 L403.2,1307.5 L403.6,1305.5 L404.0,1303.6 L404.4,1301.6 L404.8,1299.7 L405.1,1297.7 L405.5,1295.7 L405.9,1293.8 L406.3,1291.8 L406.7,1289.8 L407.0,1287.9 L407.4,1285.9 L407.8,1283.9 L408.2,1282.0 L408.6,1280.0 L408.9,1278.1 L409.3,1276.1 L409.7,1274.1 L410.1,1272.2 L410.5,1270.2 L410.8,1268.2 L411.2,1266.3 L411.6,1264.3 L412.0,1262.3 L412.4,1260.4 L412.7,1258.4 L413.1,1256.5 L413.5,1254.5 L413.9,1252.5 L414.3,1250.6 L414.6,1248.6 L415.0,1246.6 L415.4,1244.7 L415.8,1242.7 L416.2,1240.7 L416.6,1238.8 L416.9,1236.8 L417.3,1234.9 L417.7,1232.9 L418.1,1230.9 L418.5,1229.0 L419.0,1227.0 L419.4,1225.1 L419.8,1223.1 L420.2,1221.2 L420.7,1219.2 L421.1,1217.3 L421.6,1215.3 L422.0,1213.4 L422.5,1211.4 L423.0,1209.5 L423.5,1207.5 L423.9,1205.6 L424.4,1203.7 L424.9,1201.7 L425.4,1199.8 L425.9,1197.9 L426.4,1195.9 L426.9,1194.0 L427.5,1192.1 L428.0,1190.1 L428.5,1188.2 L429.0,1186.3 L429.5,1184.3 L430.1,1182.4 L430.6,1180.5 L431.1,1178.5 L431.7,1176.6 L432.2,1174.7 L432.8,1172.8 L433.3,1170.8 L433.9,1168.9 L434.4,1167.0 L435.0,1165.1 L435.6,1163.2 L436.2,1161.3 L436.7,1159.4 L437.3,1157.4 L437.9,1155.5 L438.5,1153.6 L439.2,1151.7 L439.8,1149.8 L440.4,1147.9 L441.0,1146.0 L441.7,1144.1 L442.3,1142.2 L443.0,1140.4 L443.7,1138.5 L444.4,1136.6 L445.1,1134.7 L445.8,1132.9 L446.6,1131.0 L447.3,1129.2 L448.1,1127.3 L448.9,1125.5 L449.7,1123.7 L450.6,1121.9 L451.4,1120.1 L452.3,1118.3 L453.2,1116.5 L454.1,1114.7 L455.0,1112.9 L456.0,1111.2 L456.9,1109.4 L457.9,1107.7 L458.9,1106.0 L459.9,1104.2 L460.9,1102.5 L462.0,1100.8 L463.0,1099.1 L464.1,1097.4 L465.1,1095.7 L466.2,1094.1 L467.4,1092.4 L468.5,1090.8 L469.7,1089.2 L470.9,1087.6 L472.1,1086.0 L473.4,1084.5 L474.7,1082.9 L476.0,1081.5 L477.3,1080.0 L478.7,1078.5 L480.0,1077.1 L481.4,1075.6 L482.8,1074.2 L484.2,1072.8 L485.6,1071.3 L487.0,1069.9 L488.4,1068.4 L489.7,1067.0 L491.1,1065.5 L492.5,1064.1 L493.8,1062.6 L495.2,1061.1 L496.5,1059.6 L497.8,1058.1 L499.1,1056.6 L500.5,1055.1 L501.8,1053.6 L503.1,1052.1 L504.4,1050.6 L505.6,1049.0 L506.9,1047.5 L508.1,1045.9 L509.4,1044.3 L510.6,1042.7 L511.8,1041.1 L512.9,1039.5 L514.1,1037.9 L515.2,1036.2 L516.3,1034.6 L517.4,1032.9 L518.5,1031.2 L519.5,1029.5 L520.5,1027.8 L521.5,1026.0 L522.5,1024.3 L523.5,1022.6 L524.5,1020.8 L525.4,1019.1 L526.4,1017.3 L527.3,1015.5 L528.2,1013.8 L529.1,1012.0 L530.0,1010.2 L530.9,1008.4 L531.7,1006.6 L532.6,1004.8 L533.5,1003.0 L534.4,1001.2 L535.3,999.4 L536.2,997.6 L537.2,995.9 L538.3,994.2 L539.4,992.6 L540.7,991.0 L542.0,989.6 L543.5,988.3 L545.2,987.3 L547.0,986.5 L548.9,986.1 L550.9,985.8 L552.9,985.7 L554.9,985.7 L556.9,985.9 L558.8,986.3 L560.7,986.9 L562.4,987.8 L564.0,989.0 L565.5,990.3 L566.8,991.8 L568.0,993.4 L569.1,995.1 L570.1,996.8 L571.0,998.6 L571.8,1000.4 L572.6,1002.2 L573.4,1004.1 L574.1,1006.0 L574.8,1007.8 L575.4,1009.7 L576.1,1011.6 L576.7,1013.5 L577.4,1015.4 L578.0,1017.3 L578.6,1019.2 L579.2,1021.1 L579.8,1023.0 L580.4,1024.9 L580.9,1026.8 L581.5,1028.8 L582.0,1030.7 L582.5,1032.6 L583.0,1034.6 L583.5,1036.5 L584.0,1038.4 L584.5,1040.4 L585.0,1042.3 L585.5,1044.3 L586.0,1046.2 L586.5,1048.1 L587.0,1050.1 L587.5,1052.0 L588.0,1053.9 L588.5,1055.9 L589.0,1057.8 L589.5,1059.7 L590.0,1061.7 L590.5,1063.6 L590.9,1065.6 L591.4,1067.5 L591.8,1069.5 L592.3,1071.4 L592.7,1073.4 L593.2,1075.3 L593.6,1077.3 L594.0,1079.2 L594.4,1081.2 L594.8,1083.1 L595.3,1085.1 L595.7,1087.1 L596.1,1089.0 L596.5,1091.0 L596.9,1092.9 L597.3,1094.9 L597.6,1096.9 L598.0,1098.8 L598.4,1100.8 L598.8,1102.7 L599.2,1104.7 L599.5,1106.7 L599.9,1108.6 L600.3,1110.6 L600.7,1112.6 L601.0,1114.5 L601.4,1116.5 L601.8,1118.5 L602.1,1120.4 L602.5,1122.4 L602.8,1124.4 L603.2,1126.3 L603.5,1128.3 L603.9,1130.3 L604.2,1132.2 L604.6,1134.2 L604.9,1136.2 L605.3,1138.2 L605.6,1140.1 L606.0,1142.1 L606.3,1144.1 L606.6,1146.0 L607.0,1148.0 L607.3,1150.0 L607.7,1152.0 L608.0,1153.9 L608.3,1155.9 L608.7,1157.9 L609.0,1159.8 L609.3,1161.8 L609.7,1163.8 L610.0,1165.8 L610.3,1167.7 L610.7,1169.7 L611.0,1171.7 L611.3,1173.6 L611.7,1175.6 L612.0,1177.6 L612.3,1179.6 L612.6,1181.5 L613.0,1183.5 L613.3,1185.5 L613.6,1187.5 L613.9,1189.4 L614.3,1191.4 L614.6,1193.4 L614.9,1195.3 L615.2,1197.3 L615.6,1199.3 L615.9,1201.3 L616.2,1203.2 L616.5,1205.2 L616.8,1207.2 L617.2,1209.2 L617.5,1211.1 L617.8,1213.1 L618.1,1215.1 L618.4,1217.1 L618.7,1219.0 L619.0,1221.0 L619.3,1223.0 L619.6,1225.0 L619.9,1227.0 L620.2,1228.9 L620.5,1230.9 L620.8,1232.9 L621.1,1234.9 L621.4,1236.8 L621.7,1238.8 L622.0,1240.8 L622.3,1242.8 L622.6,1244.8 L622.9,1246.7 L623.2,1248.7 L623.5,1250.7 L623.8,1252.7 L624.1,1254.6 L624.4,1256.6 L624.7,1258.6 L625.0,1260.6 L625.3,1262.6 L625.6,1264.5 L625.9,1266.5 L626.2,1268.5 L626.5,1270.5 L626.8,1272.4 L627.1,1274.4 L627.4,1276.4 L627.7,1278.4 L628.0,1280.3 L628.3,1282.3 L628.6,1284.3 L628.9,1286.3 L629.2,1288.3 L629.5,1290.2 L629.8,1292.2 L630.2,1294.2 L630.5,1296.2 L630.8,1298.1 L631.1,1300.1 L631.5,1302.1 L631.8,1304.0 L632.1,1306.0 L632.5,1308.0 L632.8,1310.0 L633.1,1311.9 L633.5,1313.9 L633.8,1315.9 L634.1,1317.8 L634.5,1319.8 L634.8,1321.8 L635.2,1323.8 L635.5,1325.7 L635.9,1327.7 L636.2,1329.7 L636.6,1331.6 L636.9,1333.6 L637.3,1335.6 L637.6,1337.5 L638.0,1339.5 L638.3,1341.5 L638.7,1343.4 L639.0,1345.4 L639.4,1347.4 L639.8,1349.3 L640.1,1351.3 L640.5,1353.3 L640.9,1355.2 L641.2,1357.2 L641.6,1359.2 L642.0,1361.1 L642.3,1363.1 L642.7,1365.1 L643.1,1367.0 L643.5,1369.0 L643.8,1371.0 L644.2,1372.9 L644.6,1374.9 L645.0,1376.9 L645.4,1378.8 L645.7,1380.8 L646.1,1382.7 L646.5,1384.7 L646.9,1386.7 L647.3,1388.6 L647.7,1390.6 L648.1,1392.5 L648.5,1394.5 L648.9,1396.5 L649.3,1398.4 L649.7,1400.4 L650.1,1402.3 L650.5,1404.3 L650.9,1406.3 L651.3,1408.2 L651.7,1410.2 L652.2,1412.1 L652.6,1414.1 L653.0,1416.0 L653.4,1418.0 L653.8,1420.0 L654.3,1421.9 L654.7,1423.9 L655.1,1425.8 L655.5,1427.8 L656.0,1429.7 L656.4,1431.7 L656.9,1433.6 L657.3,1435.6 L657.8,1437.5 L658.2,1439.5 L658.7,1441.4 L659.1,1443.4 L659.6,1445.3 L660.1,1447.2 L660.6,1449.2 L661.0,1451.1 L661.5,1453.1 L662.0,1455.0 L662.5,1456.9 L663.1,1458.9 L663.6,1460.8 L664.1,1462.7 L664.7,1464.7 L665.2,1466.6 L665.8,1468.5 L666.3,1470.4 L666.9,1472.3 L667.5,1474.2 L668.1,1476.1 L668.8,1478.0 L669.4,1479.9 L670.1,1481.8 L670.8,1483.7 L671.5,1485.5 L672.2,1487.4 L673.0,1489.2 L673.7,1491.1 L674.5,1492.9 L675.3,1494.8 L676.2,1496.6 L677.0,1498.4 L677.9,1500.2 L678.7,1502.0 L679.6,1503.8 L680.5,1505.6 L681.5,1507.3 L682.4,1509.1 L683.4,1510.8 L684.3,1512.6 L685.3,1514.3 L686.3,1516.1 L687.3,1517.8 L688.3,1519.5 L689.4,1521.2 L690.4,1522.9 L691.5,1524.6 L692.6,1526.3 L693.7,1527.9 L694.8,1529.6 L695.9,1531.3 L697.1,1532.9 L698.2,1534.5 L699.4,1536.2 L700.6,1537.8 L701.8,1539.4 L703.0,1540.9 L704.2,1542.5 L705.5,1544.0 L706.8,1545.5 L708.1,1547.0 L709.5,1548.4 L710.9,1549.7 L712.4,1551.0 L713.9,1552.3 L715.5,1553.4 L717.1,1554.4 L718.7,1555.4 L720.5,1556.2 L722.2,1556.9 L724.0,1557.4 L725.9,1557.9 L727.8,1558.2 L729.6,1558.4 L731.6,1558.5 L733.5,1558.4 L735.4,1558.3 L737.3,1558.0 L739.2,1557.6 L741.1,1557.2 L743.0,1556.7 L744.9,1556.1 L746.8,1555.4 L748.7,1554.8 L750.5,1554.1 L752.4,1553.4 L754.2,1552.6 L756.1,1551.9 L758.0,1551.2 L759.8,1550.5 L761.7,1549.8 L763.6,1549.1 L765.5,1548.4 L767.3,1547.7 L769.2,1547.1 L771.1,1546.5 L773.0,1545.8 L774.9,1545.2 L776.8,1544.6 L778.7,1544.0 L780.6,1543.4 L782.5,1542.7 L784.4,1542.1 L786.3,1541.4 L788.2,1540.7 L790.0,1540.0 L791.9,1539.3 L793.7,1538.6 L795.6,1537.8 L797.4,1537.0 L799.3,1536.2 L801.1,1535.4 L802.9,1534.7 L804.8,1533.9 L806.6,1533.1 L808.5,1532.4 L810.3,1531.6 L812.2,1531.0 L814.0,1530.3 L815.9,1529.8 L817.8,1529.3 L819.7,1528.9 L821.6,1528.6 L823.5,1528.3 L825.5,1528.2 L827.4,1528.2 L829.4,1528.3 L831.3,1528.4 L833.3,1528.6 L835.2,1528.9 L837.2,1529.2 L839.1,1529.6 L841.1,1530.0 L843.0,1530.4 L845.0,1530.9 L846.9,1531.3 L848.9,1531.8 L850.8,1532.2 L852.8,1532.6 L854.7,1533.0 L856.7,1533.3 L858.6,1533.6 L860.6,1533.9 L862.6,1534.1 L864.5,1534.3 L866.5,1534.4 L868.5,1534.4 L870.5,1534.5 L872.5,1534.5 L874.5,1534.5 L876.4,1534.4 L878.4,1534.4 L880.4,1534.4 L882.4,1534.5 L884.4,1534.5 L886.3,1534.7 L888.3,1534.9 L890.2,1535.1 L892.2,1535.5 L894.1,1535.9 L896.0,1536.4 L897.9,1536.9 L899.7,1537.6 L901.6,1538.3 L903.4,1539.0 L905.3,1539.8 L907.1,1540.6 L908.9,1541.5 L910.7,1542.3 L912.5,1543.2 L914.3,1544.1 L916.0,1545.0 L917.8,1545.9 L919.6,1546.7 L921.4,1547.6 L923.3,1548.4 L925.1,1549.3 L926.9,1550.1 L928.7,1550.9 L930.6,1551.7 L932.4,1552.4 L934.3,1553.2 L936.1,1553.9 L938.0,1554.6 L939.9,1555.2 L941.8,1555.9 L943.7,1556.5 L945.6,1557.1 L947.5,1557.6 L949.4,1558.2 L951.4,1558.7 L953.3,1559.2 L955.2,1559.6 L957.2,1560.1 L959.1,1560.5 L961.1,1560.9 L963.1,1561.3 L965.0,1561.6 L967.0,1562.0 L969.0,1562.3 L970.9,1562.7 L972.9,1563.0 L974.9,1563.3 L976.9,1563.6 L978.8,1563.8 L980.8,1564.1 L982.8,1564.3 L984.8,1564.6 L986.8,1564.8 L988.8,1565.0 L990.7,1565.2 L992.7,1565.3 L994.7,1565.5 L996.7,1565.6 L998.7,1565.7 L1000.7,1565.8 L1002.7,1565.9 L1004.7,1566.0 L1006.7,1566.1 L1008.7,1566.1 L1010.7,1566.1 L1012.7,1566.1 L1014.6,1566.1 L1016.5,1566.1 L1018.4,1566.0 L1020.3,1566.0 L1022.0,1565.9 L1023.7,1565.8 L1025.2,1565.8 L1026.6,1565.7 L1027.8,1565.6 L1032.7,1565.3" stroke="#008000" stroke-width="5.3" clip-path="url(#cl)"/>
<path d="M15.7,1607.1 L20.3,1608.7 L21.4,1609.1 L22.8,1609.5 L24.3,1609.9 L25.9,1610.3 L27.6,1610.8 L29.3,1611.2 L31.2,1611.6 L33.1,1611.9 L35.0,1612.3 L36.9,1612.5 L38.9,1612.7 L40.8,1612.9 L42.8,1613.0 L44.8,1613.0 L46.8,1613.0 L48.8,1613.0 L50.7,1612.9 L52.7,1612.8 L54.7,1612.6 L56.7,1612.5 L58.7,1612.3 L60.7,1612.2 L62.7,1612.0 L64.7,1611.9 L66.7,1611.7 L68.7,1611.6 L70.7,1611.5 L72.7,1611.4 L74.7,1611.3 L76.7,1611.2 L78.7,1611.1 L80.7,1611.0 L82.6,1610.9 L84.6,1610.8 L86.6,1610.6 L88.6,1610.5 L90.6,1610.4 L92.6,1610.2 L94.6,1610.0 L96.6,1609.8 L98.6,1609.6 L100.6,1609.4 L102.6,1609.1 L104.5,1608.9 L106.5,1608.6 L108.5,1608.3 L110.5,1608.0 L112.4,1607.7 L114.4,1607.4 L116.4,1607.1 L118.4,1606.8 L120.4,1606.5 L122.3,1606.2 L124.3,1605.9 L126.3,1605.6 L128.3,1605.2 L130.2,1604.9 L132.2,1604.6 L134.2,1604.3 L136.2,1604.0 L138.1,1603.7 L140.1,1603.5 L142.1,1603.2 L144.1,1603.0 L146.1,1602.8 L148.1,1602.6 L150.0,1602.4 L152.0,1602.2 L154.0,1602.1 L156.0,1601.9 L158.0,1601.7 L160.0,1601.6 L162.0,1601.4 L164.0,1601.1 L165.9,1600.9 L167.9,1600.6 L169.9,1600.3 L171.8,1599.9 L173.8,1599.5 L175.7,1599.1 L177.7,1598.7 L179.6,1598.2 L181.5,1597.7 L183.5,1597.2 L185.4,1596.7 L187.3,1596.2 L189.3,1595.7 L191.2,1595.2 L193.1,1594.7 L195.1,1594.2 L197.0,1593.8 L199.0,1593.3 L200.9,1592.9 L202.8,1592.5 L204.8,1592.1 L206.7,1591.8 L208.7,1591.5 L210.6,1591.3 L212.6,1591.2 L214.6,1591.1 L216.5,1591.1 L218.5,1591.2 L220.5,1591.4 L222.4,1591.6 L224.4,1591.8 L226.4,1592.1 L228.3,1592.4 L230.3,1592.7 L232.3,1592.9 L234.2,1593.2 L236.2,1593.5 L238.2,1593.7 L240.2,1593.8 L242.1,1594.0 L244.1,1594.1 L246.1,1594.1 L248.1,1594.1 L250.1,1594.1 L252.1,1594.0 L254.1,1593.9 L256.1,1593.8 L258.1,1593.7 L260.1,1593.5 L262.0,1593.3 L264.0,1593.2 L266.0,1593.0 L268.0,1592.8 L270.0,1592.7 L272.0,1592.5 L274.0,1592.4 L276.0,1592.3 L278.0,1592.2 L280.0,1592.1 L282.0,1592.0 L284.0,1591.9 L286.0,1591.8 L288.0,1591.6 L289.9,1591.5 L291.9,1591.3 L293.9,1591.1 L295.9,1590.8 L297.8,1590.5 L299.8,1590.1 L301.7,1589.7 L303.6,1589.2 L305.5,1588.7 L307.4,1588.1 L309.2,1587.4 L311.1,1586.7 L312.9,1585.9 L314.7,1585.0 L316.4,1584.1 L318.1,1583.1 L319.8,1582.1 L321.5,1581.0 L323.1,1579.9 L324.7,1578.7 L326.3,1577.5 L327.8,1576.2 L329.3,1574.9 L330.7,1573.5 L332.1,1572.1 L333.5,1570.7 L334.8,1569.2 L336.1,1567.7 L337.4,1566.2 L338.6,1564.6 L339.9,1563.1 L341.1,1561.5 L342.2,1559.9 L343.4,1558.2 L344.5,1556.6 L345.6,1554.9 L346.7,1553.2 L347.8,1551.5 L348.8,1549.8 L349.9,1548.1 L350.9,1546.4 L351.9,1544.7 L352.9,1542.9 L353.8,1541.2 L354.8,1539.4 L355.7,1537.7 L356.6,1535.9 L357.5,1534.1 L358.4,1532.3 L359.3,1530.5 L360.1,1528.7 L361.0,1526.9 L361.8,1525.1 L362.6,1523.2 L363.4,1521.4 L364.1,1519.6 L364.9,1517.7 L365.6,1515.9 L366.4,1514.0 L367.1,1512.1 L367.8,1510.3 L368.5,1508.4 L369.2,1506.5 L369.9,1504.6 L370.6,1502.8 L371.3,1500.9 L372.0,1499.0 L372.6,1497.1 L373.3,1495.2 L374.0,1493.4 L374.6,1491.5 L375.3,1489.6 L375.9,1487.7 L376.5,1485.8 L377.1,1483.9 L377.7,1482.0 L378.2,1480.0 L378.8,1478.1 L379.3,1476.2 L379.9,1474.3 L380.4,1472.3 L380.9,1470.4 L381.4,1468.5 L381.9,1466.5 L382.4,1464.6 L382.9,1462.7 L383.4,1460.7 L383.9,1458.8 L384.4,1456.9 L384.9,1454.9 L385.4,1453.0 L385.9,1451.0 L386.4,1449.1 L386.9,1447.2 L387.4,1445.2 L387.9,1443.3 L388.4,1441.4 L388.9,1439.4 L389.4,1437.5 L389.9,1435.5 L390.4,1433.6 L390.9,1431.7 L391.4,1429.7 L391.9,1427.8 L392.4,1425.9 L392.9,1423.9 L393.4,1422.0 L393.9,1420.0 L394.3,1418.1 L394.8,1416.2 L395.3,1414.2 L395.8,1412.3 L396.3,1410.4 L396.8,1408.4 L397.3,1406.5 L397.8,1404.6 L398.3,1402.6 L398.8,1400.7 L399.3,1398.7 L399.8,1396.8 L400.3,1394.9 L400.8,1392.9 L401.3,1391.0 L401.8,1389.1 L402.3,1387.1 L402.8,1385.2 L403.3,1383.2 L403.8,1381.3 L404.3,1379.4 L404.8,1377.4 L405.3,1375.5 L405.8,1373.6 L406.3,1371.6 L406.8,1369.7 L407.3,1367.8 L407.8,1365.8 L408.3,1363.9 L408.8,1361.9 L409.3,1360.0 L409.9,1358.1 L410.4,1356.1 L410.9,1354.2 L411.4,1352.3 L411.9,1350.4 L412.5,1348.4 L413.0,1346.5 L413.6,1344.6 L414.1,1342.7 L414.6,1340.7 L415.2,1338.8 L415.7,1336.9 L416.3,1335.0 L416.9,1333.0 L417.4,1331.1 L418.0,1329.2 L418.6,1327.3 L419.1,1325.4 L419.7,1323.5 L420.3,1321.6 L420.9,1319.6 L421.5,1317.7 L422.1,1315.8 L422.8,1313.9 L423.4,1312.0 L424.0,1310.1 L424.7,1308.3 L425.3,1306.4 L426.0,1304.5 L426.7,1302.6 L427.4,1300.7 L428.1,1298.9 L428.9,1297.0 L429.6,1295.2 L430.4,1293.3 L431.1,1291.5 L431.9,1289.6 L432.7,1287.8 L433.6,1286.0 L434.4,1284.2 L435.3,1282.4 L436.1,1280.6 L437.0,1278.8 L437.9,1277.0 L438.8,1275.2 L439.7,1273.4 L440.6,1271.6 L441.6,1269.9 L442.5,1268.1 L443.5,1266.4 L444.5,1264.6 L445.5,1262.9 L446.5,1261.2 L447.5,1259.4 L448.5,1257.7 L449.5,1256.0 L450.6,1254.3 L451.6,1252.6 L452.6,1250.9 L453.7,1249.2 L454.7,1247.5 L455.8,1245.8 L456.8,1244.1 L457.8,1242.3 L458.8,1240.6 L459.8,1238.9 L460.8,1237.1 L461.8,1235.4 L462.8,1233.6 L463.7,1231.9 L464.7,1230.1 L465.6,1228.4 L466.5,1226.6 L467.5,1224.8 L468.4,1223.1 L469.3,1221.3 L470.2,1219.5 L471.1,1217.7 L472.0,1215.9 L472.9,1214.1 L473.8,1212.3 L474.7,1210.5 L475.6,1208.8 L476.4,1207.0 L477.3,1205.2 L478.2,1203.4 L479.0,1201.6 L479.9,1199.7 L480.8,1197.9 L481.6,1196.1 L482.5,1194.3 L483.3,1192.5 L484.2,1190.7 L485.0,1188.9 L485.9,1187.1 L486.7,1185.3 L487.5,1183.4 L488.3,1181.6 L489.2,1179.8 L490.0,1178.0 L490.8,1176.1 L491.5,1174.3 L492.3,1172.4 L493.1,1170.6 L493.9,1168.8 L494.6,1166.9 L495.3,1165.0 L496.1,1163.2 L496.8,1161.3 L497.5,1159.4 L498.2,1157.6 L498.8,1155.7 L499.5,1153.8 L500.2,1151.9 L500.8,1150.0 L501.4,1148.1 L502.0,1146.2 L502.6,1144.3 L503.2,1142.4 L503.8,1140.5 L504.4,1138.6 L505.0,1136.6 L505.5,1134.7 L506.1,1132.8 L506.6,1130.9 L507.2,1129.0 L507.7,1127.0 L508.2,1125.1 L508.8,1123.2 L509.3,1121.2 L509.8,1119.3 L510.3,1117.4 L510.8,1115.4 L511.3,1113.5 L511.8,1111.6 L512.3,1109.6 L512.8,1107.7 L513.3,1105.8 L513.8,1103.8 L514.3,1101.9 L514.8,1100.0 L515.3,1098.0 L515.8,1096.1 L516.3,1094.1 L516.8,1092.2 L517.2,1090.3 L517.7,1088.3 L518.2,1086.4 L518.7,1084.4 L519.2,1082.5 L519.7,1080.5 L520.2,1078.6 L520.6,1076.7 L521.1,1074.7 L521.6,1072.8 L522.1,1070.8 L522.6,1068.9 L523.1,1067.0 L523.6,1065.0 L524.1,1063.1 L524.6,1061.2 L525.1,1059.2 L525.6,1057.3 L526.1,1055.4 L526.6,1053.4 L527.1,1051.5 L527.6,1049.6 L528.1,1047.6 L528.7,1045.7 L529.2,1043.8 L529.8,1041.9 L530.3,1039.9 L530.9,1038.0 L531.5,1036.1 L532.1,1034.2 L532.7,1032.3 L533.3,1030.4 L533.9,1028.5 L534.5,1026.6 L535.2,1024.7 L535.8,1022.8 L536.4,1020.9 L537.1,1019.0 L537.8,1017.1 L538.4,1015.2 L539.1,1013.3 L539.8,1011.5 L540.5,1009.6 L541.2,1007.7 L541.9,1005.8 L542.6,1004.0 L543.4,1002.1 L544.2,1000.3 L545.1,998.5 L545.9,996.7 L546.9,994.9 L547.9,993.2 L548.9,991.5 L550.2,990.0 L551.6,988.7 L553.2,987.7 L555.0,987.3 L556.8,987.5 L558.5,988.2 L560.0,989.4 L561.3,990.9 L562.4,992.6 L563.4,994.3 L564.3,996.1 L565.1,997.9 L565.8,999.8 L566.6,1001.6 L567.3,1003.5 L567.9,1005.4 L568.5,1007.3 L569.1,1009.2 L569.7,1011.1 L570.3,1013.0 L570.8,1015.0 L571.3,1016.9 L571.9,1018.8 L572.4,1020.8 L572.9,1022.7 L573.4,1024.6 L573.9,1026.6 L574.3,1028.5 L574.8,1030.5 L575.3,1032.4 L575.7,1034.3 L576.2,1036.3 L576.7,1038.2 L577.1,1040.2 L577.6,1042.1 L578.1,1044.1 L578.5,1046.0 L579.0,1048.0 L579.5,1049.9 L579.9,1051.8 L580.4,1053.8 L580.9,1055.7 L581.3,1057.7 L581.8,1059.6 L582.2,1061.6 L582.6,1063.5 L583.1,1065.5 L583.5,1067.4 L583.9,1069.4 L584.3,1071.4 L584.6,1073.3 L585.0,1075.3 L585.4,1077.3 L585.8,1079.2 L586.1,1081.2 L586.5,1083.2 L586.8,1085.1 L587.2,1087.1 L587.5,1089.1 L587.8,1091.0 L588.2,1093.0 L588.5,1095.0 L588.8,1097.0 L589.1,1098.9 L589.4,1100.9 L589.8,1102.9 L590.1,1104.9 L590.4,1106.8 L590.7,1108.8 L591.0,1110.8 L591.3,1112.8 L591.6,1114.7 L591.9,1116.7 L592.2,1118.7 L592.5,1120.7 L592.8,1122.7 L593.1,1124.6 L593.3,1126.6 L593.6,1128.6 L593.9,1130.6 L594.2,1132.6 L594.5,1134.5 L594.8,1136.5 L595.0,1138.5 L595.3,1140.5 L595.6,1142.5 L595.9,1144.4 L596.2,1146.4 L596.4,1148.4 L596.7,1150.4 L597.0,1152.4 L597.3,1154.3 L597.6,1156.3 L597.8,1158.3 L598.1,1160.3 L598.4,1162.3 L598.7,1164.2 L598.9,1166.2 L599.2,1168.2 L599.5,1170.2 L599.7,1172.2 L600.0,1174.2 L600.3,1176.1 L600.6,1178.1 L600.8,1180.1 L601.1,1182.1 L601.4,1184.1 L601.7,1186.0 L601.9,1188.0 L602.2,1190.0 L602.5,1192.0 L602.8,1194.0 L603.0,1195.9 L603.3,1197.9 L603.6,1199.9 L603.8,1201.9 L604.1,1203.9 L604.4,1205.9 L604.7,1207.8 L604.9,1209.8 L605.2,1211.8 L605.5,1213.8 L605.7,1215.8 L606.0,1217.7 L606.2,1219.7 L606.5,1221.7 L606.8,1223.7 L607.0,1225.7 L607.3,1227.7 L607.5,1229.6 L607.8,1231.6 L608.0,1233.6 L608.3,1235.6 L608.5,1237.6 L608.8,1239.6 L609.0,1241.5 L609.3,1243.5 L609.5,1245.5 L609.8,1247.5 L610.0,1249.5 L610.3,1251.5 L610.5,1253.5 L610.8,1255.4 L611.1,1257.4 L611.3,1259.4 L611.6,1261.4 L611.8,1263.4 L612.1,1265.4 L612.3,1267.3 L612.6,1269.3 L612.9,1271.3 L613.1,1273.3 L613.4,1275.3 L613.6,1277.3 L613.9,1279.2 L614.2,1281.2 L614.4,1283.2 L614.7,1285.2 L615.0,1287.2 L615.3,1289.1 L615.5,1291.1 L615.8,1293.1 L616.1,1295.1 L616.4,1297.1 L616.7,1299.0 L617.0,1301.0 L617.3,1303.0 L617.6,1305.0 L617.9,1307.0 L618.2,1308.9 L618.5,1310.9 L618.8,1312.9 L619.1,1314.9 L619.4,1316.8 L619.7,1318.8 L620.0,1320.8 L620.3,1322.8 L620.6,1324.7 L620.9,1326.7 L621.2,1328.7 L621.6,1330.7 L621.9,1332.6 L622.2,1334.6 L622.5,1336.6 L622.8,1338.6 L623.2,1340.5 L623.5,1342.5 L623.8,1344.5 L624.1,1346.5 L624.5,1348.4 L624.8,1350.4 L625.1,1352.4 L625.5,1354.3 L625.8,1356.3 L626.1,1358.3 L626.5,1360.3 L626.8,1362.2 L627.1,1364.2 L627.5,1366.2 L627.8,1368.1 L628.2,1370.1 L628.5,1372.1 L628.9,1374.1 L629.2,1376.0 L629.5,1378.0 L629.9,1380.0 L630.2,1381.9 L630.6,1383.9 L630.9,1385.9 L631.3,1387.8 L631.7,1389.8 L632.0,1391.8 L632.4,1393.7 L632.7,1395.7 L633.1,1397.7 L633.4,1399.6 L633.8,1401.6 L634.2,1403.6 L634.5,1405.6 L634.9,1407.5 L635.3,1409.5 L635.6,1411.5 L636.0,1413.4 L636.3,1415.4 L636.7,1417.3 L637.1,1419.3 L637.4,1421.3 L637.8,1423.2 L638.2,1425.2 L638.6,1427.2 L638.9,1429.1 L639.3,1431.1 L639.7,1433.1 L640.1,1435.0 L640.4,1437.0 L640.8,1439.0 L641.2,1440.9 L641.6,1442.9 L642.0,1444.9 L642.4,1446.8 L642.7,1448.8 L643.1,1450.7 L643.5,1452.7 L643.9,1454.7 L644.3,1456.6 L644.7,1458.6 L645.1,1460.5 L645.5,1462.5 L645.9,1464.5 L646.3,1466.4 L646.8,1468.4 L647.2,1470.3 L647.6,1472.3 L648.0,1474.2 L648.5,1476.2 L648.9,1478.1 L649.3,1480.1 L649.8,1482.0 L650.2,1484.0 L650.7,1485.9 L651.2,1487.9 L651.7,1489.8 L652.2,1491.7 L652.7,1493.7 L653.2,1495.6 L653.7,1497.5 L654.2,1499.5 L654.8,1501.4 L655.3,1503.3 L655.9,1505.2 L656.5,1507.1 L657.1,1509.1 L657.7,1511.0 L658.3,1512.9 L659.0,1514.7 L659.6,1516.6 L660.3,1518.5 L661.0,1520.4 L661.8,1522.2 L662.6,1524.0 L663.4,1525.9 L664.2,1527.7 L665.0,1529.5 L665.9,1531.3 L666.8,1533.1 L667.8,1534.8 L668.7,1536.6 L669.7,1538.3 L670.7,1540.0 L671.7,1541.7 L672.8,1543.4 L673.9,1545.1 L675.0,1546.8 L676.1,1548.5 L677.2,1550.1 L678.4,1551.7 L679.5,1553.3 L680.7,1555.0 L681.9,1556.6 L683.1,1558.1 L684.4,1559.7 L685.6,1561.3 L686.9,1562.8 L688.2,1564.3 L689.5,1565.8 L690.8,1567.3 L692.2,1568.8 L693.5,1570.3 L694.9,1571.7 L696.3,1573.1 L697.7,1574.5 L699.1,1575.9 L700.6,1577.3 L702.1,1578.6 L703.6,1579.9 L705.1,1581.2 L706.7,1582.5 L708.2,1583.7 L709.8,1584.8 L711.5,1586.0 L713.1,1587.1 L714.8,1588.1 L716.5,1589.1 L718.3,1590.0 L720.0,1590.9 L721.8,1591.7 L723.7,1592.5 L725.5,1593.2 L727.4,1593.8 L729.3,1594.4 L731.2,1595.0 L733.1,1595.5 L735.0,1595.9 L737.0,1596.3 L738.9,1596.7 L740.9,1597.1 L742.9,1597.4 L744.8,1597.8 L746.8,1598.1 L748.8,1598.5 L750.7,1598.8 L752.7,1599.2 L754.7,1599.5 L756.6,1599.9 L758.6,1600.4 L760.5,1600.8 L762.5,1601.3 L764.4,1601.7 L766.3,1602.2 L768.3,1602.7 L770.2,1603.2 L772.1,1603.7 L774.1,1604.2 L776.0,1604.6 L778.0,1605.0 L779.9,1605.3 L781.9,1605.6 L783.8,1605.8 L785.8,1606.0 L787.8,1606.1 L789.7,1606.1 L791.7,1606.0 L793.7,1605.9 L795.6,1605.7 L797.6,1605.5 L799.6,1605.1 L801.5,1604.8 L803.4,1604.4 L805.4,1604.0 L807.3,1603.5 L809.3,1603.1 L811.2,1602.6 L813.1,1602.2 L815.1,1601.8 L817.0,1601.4 L819.0,1601.1 L821.0,1600.9 L822.9,1600.7 L824.9,1600.5 L826.9,1600.5 L828.9,1600.4 L830.8,1600.5 L832.8,1600.5 L834.8,1600.6 L836.8,1600.8 L838.8,1600.9 L840.8,1601.1 L842.8,1601.3 L844.7,1601.5 L846.7,1601.6 L848.7,1601.8 L850.7,1601.9 L852.7,1602.0 L854.7,1602.0 L856.7,1602.1 L858.7,1602.1 L860.7,1602.0 L862.7,1601.9 L864.6,1601.8 L866.6,1601.6 L868.6,1601.4 L870.6,1601.1 L872.6,1600.8 L874.5,1600.5 L876.5,1600.2 L878.4,1599.8 L880.4,1599.4 L882.3,1599.0 L884.3,1598.6 L886.2,1598.2 L888.2,1597.8 L890.1,1597.4 L892.1,1597.1 L894.0,1596.9 L896.0,1596.7 L897.9,1596.5 L899.9,1596.5 L901.8,1596.5 L903.8,1596.6 L905.7,1596.8 L907.7,1597.1 L909.6,1597.3 L911.6,1597.6 L913.5,1597.9 L915.5,1598.2 L917.4,1598.5 L919.4,1598.8 L921.4,1599.0 L923.4,1599.2 L925.3,1599.4 L927.3,1599.5 L929.3,1599.5 L931.3,1599.6 L933.3,1599.6 L935.3,1599.6 L937.3,1599.5 L939.3,1599.4 L941.3,1599.3 L943.3,1599.2 L945.3,1599.0 L947.2,1598.8 L949.2,1598.6 L951.2,1598.4 L953.2,1598.2 L955.2,1597.9 L957.2,1597.6 L959.1,1597.3 L961.1,1596.9 L963.0,1596.5 L965.0,1596.1 L966.9,1595.7 L968.9,1595.2 L970.8,1594.7 L972.7,1594.2 L974.6,1593.6 L976.5,1593.0 L978.4,1592.4 L980.3,1591.8 L982.2,1591.1 L984.1,1590.4 L986.0,1589.7 L987.8,1589.0 L989.7,1588.3 L991.6,1587.6 L993.4,1586.8 L995.3,1586.1 L997.1,1585.3 L999.0,1584.6 L1000.9,1583.9 L1002.7,1583.2 L1004.6,1582.5 L1006.5,1581.8 L1008.4,1581.2 L1010.2,1580.5 L1012.1,1579.9 L1014.0,1579.4 L1015.9,1578.8 L1017.8,1578.3 L1019.6,1577.9 L1021.4,1577.5 L1023.1,1577.1 L1024.7,1576.8 L1026.2,1576.6 L1027.6,1576.3 L1028.7,1576.2 L1033.6,1575.7" stroke="#000000" stroke-width="5.0" clip-path="url(#cl)"/>
<path d="M1302.9,1600.0 L1307.7,1600.1 L1308.9,1600.0 L1310.3,1600.0 L1311.8,1599.9 L1313.5,1599.8 L1315.2,1599.7 L1317.0,1599.5 L1318.9,1599.2 L1320.8,1599.0 L1322.7,1598.6 L1324.7,1598.3 L1326.6,1597.9 L1328.5,1597.5 L1330.5,1597.0 L1332.4,1596.6 L1334.4,1596.1 L1336.3,1595.7 L1338.3,1595.2 L1340.2,1594.8 L1342.2,1594.3 L1344.1,1593.9 L1346.1,1593.5 L1348.0,1593.1 L1350.0,1592.7 L1351.9,1592.3 L1353.9,1591.9 L1355.9,1591.6 L1357.8,1591.2 L1359.8,1590.9 L1361.8,1590.6 L1363.8,1590.3 L1365.7,1590.1 L1367.7,1589.8 L1369.7,1589.6 L1371.7,1589.4 L1373.7,1589.3 L1375.7,1589.1 L1377.7,1589.0 L1379.7,1589.0 L1381.7,1588.9 L1383.6,1588.9 L1385.6,1589.0 L1387.6,1589.1 L1389.6,1589.2 L1391.6,1589.4 L1393.5,1589.7 L1395.5,1590.0 L1397.5,1590.3 L1399.4,1590.7 L1401.4,1591.1 L1403.3,1591.6 L1405.2,1592.1 L1407.2,1592.6 L1409.1,1593.1 L1411.0,1593.6 L1412.9,1594.1 L1414.9,1594.7 L1416.8,1595.3 L1418.7,1595.8 L1420.6,1596.4 L1422.5,1597.0 L1424.5,1597.5 L1426.4,1598.1 L1428.3,1598.6 L1430.2,1599.2 L1432.1,1599.7 L1434.1,1600.2 L1436.0,1600.7 L1437.9,1601.2 L1439.9,1601.6 L1441.8,1602.1 L1443.8,1602.5 L1445.8,1602.8 L1447.7,1603.2 L1449.7,1603.6 L1451.7,1603.9 L1453.6,1604.2 L1455.6,1604.5 L1457.6,1604.8 L1459.6,1605.1 L1461.5,1605.4 L1463.5,1605.7 L1465.5,1606.0 L1467.5,1606.3 L1469.4,1606.6 L1471.4,1606.9 L1473.4,1607.2 L1475.4,1607.5 L1477.4,1607.8 L1479.3,1608.1 L1481.3,1608.4 L1483.3,1608.7 L1485.3,1609.0 L1487.2,1609.3 L1489.2,1609.6 L1491.2,1609.9 L1493.2,1610.2 L1495.2,1610.4 L1497.1,1610.7 L1499.1,1611.0 L1501.1,1611.2 L1503.1,1611.5 L1505.1,1611.7 L1507.1,1611.9 L1509.1,1612.2 L1511.0,1612.4 L1513.0,1612.5 L1515.0,1612.7 L1517.0,1612.8 L1519.0,1613.0 L1521.0,1613.1 L1523.0,1613.2 L1525.0,1613.2 L1527.0,1613.3 L1529.0,1613.3 L1531.0,1613.2 L1532.9,1613.1 L1534.9,1613.0 L1536.9,1612.8 L1538.9,1612.6 L1540.8,1612.3 L1542.8,1612.0 L1544.7,1611.6 L1546.7,1611.2 L1548.6,1610.7 L1550.6,1610.2 L1552.5,1609.7 L1554.4,1609.2 L1556.3,1608.6 L1558.2,1608.0 L1560.2,1607.4 L1562.1,1606.9 L1564.0,1606.2 L1565.9,1605.6 L1567.8,1605.0 L1569.7,1604.4 L1571.6,1603.8 L1573.5,1603.2 L1575.4,1602.7 L1577.3,1602.1 L1579.2,1601.5 L1581.2,1601.0 L1583.1,1600.6 L1585.0,1600.1 L1587.0,1599.7 L1588.9,1599.3 L1590.9,1599.0 L1592.9,1598.8 L1594.8,1598.5 L1596.8,1598.4 L1598.8,1598.2 L1600.8,1598.1 L1602.8,1598.1 L1604.8,1598.1 L1606.8,1598.1 L1608.8,1598.1 L1610.8,1598.1 L1612.8,1598.2 L1614.8,1598.3 L1616.8,1598.4 L1618.8,1598.4 L1620.8,1598.5 L1622.8,1598.6 L1624.8,1598.7 L1626.8,1598.8 L1628.7,1598.9 L1630.7,1599.0 L1632.7,1599.1 L1634.7,1599.3 L1636.7,1599.4 L1638.7,1599.5 L1640.7,1599.6 L1642.7,1599.7 L1644.7,1599.8 L1646.7,1599.9 L1648.7,1600.0 L1650.7,1600.0 L1652.7,1600.1 L1654.7,1600.1 L1656.7,1600.1 L1658.7,1600.1 L1660.7,1600.1 L1662.7,1600.0 L1664.7,1600.0 L1666.7,1599.9 L1668.7,1599.8 L1670.7,1599.7 L1672.7,1599.7 L1674.7,1599.6 L1676.7,1599.4 L1678.7,1599.3 L1680.7,1599.2 L1682.7,1599.1 L1684.7,1599.0 L1686.7,1598.9 L1688.7,1598.7 L1690.7,1598.6 L1692.6,1598.5 L1694.6,1598.3 L1696.6,1598.2 L1698.6,1598.1 L1700.6,1597.9 L1702.6,1597.8 L1704.6,1597.7 L1706.6,1597.6 L1708.6,1597.4 L1710.6,1597.3 L1712.6,1597.2 L1714.6,1597.0 L1716.6,1596.9 L1718.6,1596.8 L1720.6,1596.6 L1722.6,1596.4 L1724.6,1596.3 L1726.6,1596.1 L1728.5,1595.9 L1730.5,1595.7 L1732.5,1595.5 L1734.5,1595.2 L1736.5,1594.9 L1738.4,1594.6 L1740.4,1594.3 L1742.4,1593.9 L1744.3,1593.5 L1746.3,1593.1 L1748.2,1592.6 L1750.2,1592.2 L1752.1,1591.7 L1754.0,1591.1 L1755.9,1590.6 L1757.8,1590.0 L1759.8,1589.4 L1761.7,1588.8 L1763.5,1588.1 L1765.4,1587.5 L1767.3,1586.8 L1769.2,1586.1 L1771.0,1585.4 L1772.9,1584.6 L1774.7,1583.8 L1776.5,1583.0 L1778.3,1582.2 L1780.1,1581.3 L1781.9,1580.4 L1783.6,1579.4 L1785.4,1578.4 L1787.1,1577.4 L1788.8,1576.4 L1790.5,1575.3 L1792.1,1574.2 L1793.7,1573.0 L1795.4,1571.9 L1796.9,1570.7 L1798.5,1569.4 L1800.1,1568.2 L1801.6,1566.9 L1803.1,1565.6 L1804.5,1564.2 L1806.0,1562.9 L1807.4,1561.5 L1808.8,1560.0 L1810.2,1558.6 L1811.5,1557.1 L1812.9,1555.6 L1814.2,1554.1 L1815.5,1552.6 L1816.7,1551.1 L1818.0,1549.5 L1819.2,1547.9 L1820.4,1546.4 L1821.6,1544.8 L1822.8,1543.2 L1824.0,1541.5 L1825.2,1539.9 L1826.3,1538.3 L1827.5,1536.6 L1828.6,1535.0 L1829.7,1533.3 L1830.8,1531.6 L1831.9,1530.0 L1832.9,1528.3 L1834.0,1526.6 L1835.0,1524.9 L1836.0,1523.1 L1837.0,1521.4 L1838.0,1519.7 L1839.0,1517.9 L1840.0,1516.2 L1840.9,1514.4 L1841.9,1512.7 L1842.8,1510.9 L1843.8,1509.2 L1844.7,1507.4 L1845.6,1505.6 L1846.5,1503.8 L1847.4,1502.0 L1848.3,1500.2 L1849.2,1498.5 L1850.1,1496.7 L1850.9,1494.9 L1851.8,1493.0 L1852.6,1491.2 L1853.5,1489.4 L1854.3,1487.6 L1855.1,1485.8 L1855.9,1483.9 L1856.7,1482.1 L1857.4,1480.2 L1858.2,1478.4 L1858.9,1476.5 L1859.6,1474.7 L1860.3,1472.8 L1861.0,1470.9 L1861.7,1469.0 L1862.4,1467.2 L1863.1,1465.3 L1863.7,1463.4 L1864.4,1461.5 L1865.0,1459.6 L1865.6,1457.7 L1866.3,1455.8 L1866.9,1453.9 L1867.5,1452.0 L1868.1,1450.1 L1868.7,1448.2 L1869.4,1446.3 L1870.0,1444.4 L1870.5,1442.5 L1871.1,1440.6 L1871.7,1438.7 L1872.3,1436.7 L1872.9,1434.8 L1873.5,1432.9 L1874.0,1431.0 L1874.6,1429.1 L1875.2,1427.2 L1875.7,1425.2 L1876.3,1423.3 L1876.8,1421.4 L1877.4,1419.5 L1877.9,1417.6 L1878.5,1415.6 L1879.0,1413.7 L1879.6,1411.8 L1880.1,1409.9 L1880.7,1407.9 L1881.2,1406.0 L1881.8,1404.1 L1882.3,1402.2 L1882.8,1400.2 L1883.4,1398.3 L1883.9,1396.4 L1884.4,1394.4 L1884.9,1392.5 L1885.5,1390.6 L1886.0,1388.7 L1886.5,1386.7 L1887.1,1384.8 L1887.6,1382.9 L1888.1,1380.9 L1888.6,1379.0 L1889.1,1377.1 L1889.7,1375.1 L1890.2,1373.2 L1890.7,1371.3 L1891.2,1369.3 L1891.7,1367.4 L1892.2,1365.5 L1892.7,1363.5 L1893.2,1361.6 L1893.7,1359.7 L1894.2,1357.7 L1894.7,1355.8 L1895.2,1353.9 L1895.7,1351.9 L1896.2,1350.0 L1896.7,1348.0 L1897.2,1346.1 L1897.7,1344.2 L1898.2,1342.2 L1898.6,1340.3 L1899.1,1338.3 L1899.6,1336.4 L1900.1,1334.5 L1900.5,1332.5 L1901.0,1330.6 L1901.5,1328.6 L1901.9,1326.7 L1902.4,1324.7 L1902.9,1322.8 L1903.3,1320.8 L1903.8,1318.9 L1904.2,1316.9 L1904.7,1315.0 L1905.1,1313.0 L1905.6,1311.1 L1906.0,1309.1 L1906.5,1307.2 L1906.9,1305.2 L1907.3,1303.3 L1907.8,1301.3 L1908.2,1299.4 L1908.7,1297.4 L1909.1,1295.5 L1909.5,1293.5 L1909.9,1291.6 L1910.4,1289.6 L1910.8,1287.7 L1911.2,1285.7 L1911.7,1283.8 L1912.1,1281.8 L1912.5,1279.9 L1912.9,1277.9 L1913.4,1275.9 L1913.8,1274.0 L1914.2,1272.0 L1914.6,1270.1 L1915.0,1268.1 L1915.5,1266.2 L1915.9,1264.2 L1916.3,1262.3 L1916.7,1260.3 L1917.1,1258.4 L1917.6,1256.4 L1918.0,1254.4 L1918.4,1252.5 L1918.8,1250.5 L1919.2,1248.6 L1919.6,1246.6 L1920.1,1244.7 L1920.5,1242.7 L1920.9,1240.7 L1921.3,1238.8 L1921.7,1236.8 L1922.1,1234.9 L1922.6,1232.9 L1923.0,1231.0 L1923.4,1229.0 L1923.8,1227.1 L1924.2,1225.1 L1924.6,1223.1 L1925.0,1221.2 L1925.5,1219.2 L1925.9,1217.3 L1926.3,1215.3 L1926.7,1213.4 L1927.1,1211.4 L1927.5,1209.4 L1927.9,1207.5 L1928.3,1205.5 L1928.7,1203.6 L1929.1,1201.6 L1929.6,1199.6 L1930.0,1197.7 L1930.4,1195.7 L1930.8,1193.8 L1931.2,1191.8 L1931.6,1189.9 L1932.0,1187.9 L1932.4,1185.9 L1932.8,1184.0 L1933.2,1182.0 L1933.5,1180.1 L1933.9,1178.1 L1934.3,1176.1 L1934.7,1174.2 L1935.1,1172.2 L1935.5,1170.2 L1935.9,1168.3 L1936.2,1166.3 L1936.6,1164.4 L1937.0,1162.4 L1937.4,1160.4 L1937.8,1158.5 L1938.2,1156.5 L1938.6,1154.5 L1938.9,1152.6 L1939.3,1150.6 L1939.7,1148.7 L1940.1,1146.7 L1940.5,1144.7 L1940.9,1142.8 L1941.3,1140.8 L1941.7,1138.8 L1942.1,1136.9 L1942.4,1134.9 L1942.8,1133.0 L1943.2,1131.0 L1943.6,1129.0 L1944.0,1127.1 L1944.5,1125.1 L1944.9,1123.2 L1945.3,1121.2 L1945.7,1119.3 L1946.1,1117.3 L1946.5,1115.3 L1947.0,1113.4 L1947.4,1111.4 L1947.9,1109.5 L1948.3,1107.5 L1948.7,1105.6 L1949.2,1103.6 L1949.7,1101.7 L1950.1,1099.8 L1950.6,1097.8 L1951.1,1095.9 L1951.6,1093.9 L1952.0,1092.0 L1952.5,1090.0 L1953.0,1088.1 L1953.5,1086.2 L1954.0,1084.2 L1954.5,1082.3 L1955.0,1080.4 L1955.5,1078.4 L1956.0,1076.5 L1956.6,1074.6 L1957.1,1072.6 L1957.6,1070.7 L1958.1,1068.8 L1958.6,1066.8 L1959.1,1064.9 L1959.6,1063.0 L1960.2,1061.0 L1960.7,1059.1 L1961.2,1057.2 L1961.7,1055.2 L1962.2,1053.3 L1962.7,1051.4 L1963.3,1049.4 L1963.8,1047.5 L1964.3,1045.6 L1964.9,1043.7 L1965.4,1041.7 L1966.0,1039.8 L1966.5,1037.9 L1967.1,1036.0 L1967.7,1034.1 L1968.3,1032.2 L1968.9,1030.3 L1969.5,1028.4 L1970.2,1026.5 L1970.8,1024.6 L1971.5,1022.7 L1972.1,1020.8 L1972.8,1018.9 L1973.5,1017.0 L1974.2,1015.2 L1974.9,1013.3 L1975.7,1011.4 L1976.4,1009.6 L1977.2,1007.8 L1978.0,1005.9 L1978.9,1004.1 L1979.7,1002.3 L1980.6,1000.5 L1981.6,998.8 L1982.5,997.0 L1983.5,995.3 L1984.5,993.5 L1985.6,991.9 L1986.8,990.3 L1988.2,989.0 L1989.9,988.1 L1991.7,987.7 L1993.6,987.8 L1995.5,988.2 L1997.4,988.9 L1999.2,989.7 L2000.9,990.7 L2002.6,991.8 L2004.2,993.0 L2005.7,994.4 L2007.0,995.8 L2008.3,997.3 L2009.4,999.0 L2010.4,1000.7 L2011.3,1002.5 L2012.2,1004.3 L2012.9,1006.1 L2013.7,1008.0 L2014.4,1009.9 L2015.0,1011.7 L2015.7,1013.6 L2016.3,1015.5 L2017.0,1017.4 L2017.6,1019.3 L2018.2,1021.2 L2018.8,1023.1 L2019.4,1025.1 L2020.0,1027.0 L2020.6,1028.9 L2021.2,1030.8 L2021.8,1032.7 L2022.3,1034.6 L2022.9,1036.5 L2023.5,1038.4 L2024.1,1040.3 L2024.7,1042.2 L2025.3,1044.1 L2025.9,1046.1 L2026.5,1048.0 L2027.1,1049.9 L2027.7,1051.8 L2028.3,1053.7 L2028.9,1055.6 L2029.5,1057.5 L2030.0,1059.4 L2030.6,1061.3 L2031.2,1063.3 L2031.8,1065.2 L2032.4,1067.1 L2033.0,1069.0 L2033.5,1070.9 L2034.1,1072.8 L2034.7,1074.7 L2035.2,1076.7 L2035.8,1078.6 L2036.3,1080.5 L2036.8,1082.4 L2037.3,1084.4 L2037.9,1086.3 L2038.4,1088.2 L2038.8,1090.2 L2039.3,1092.1 L2039.8,1094.1 L2040.2,1096.0 L2040.7,1098.0 L2041.1,1099.9 L2041.5,1101.9 L2041.9,1103.8 L2042.3,1105.8 L2042.7,1107.8 L2043.2,1109.7 L2043.5,1111.7 L2043.9,1113.6 L2044.3,1115.6 L2044.7,1117.6 L2045.1,1119.5 L2045.5,1121.5 L2045.9,1123.4 L2046.3,1125.4 L2046.6,1127.4 L2047.0,1129.3 L2047.4,1131.3 L2047.8,1133.3 L2048.1,1135.2 L2048.5,1137.2 L2048.9,1139.2 L2049.3,1141.1 L2049.6,1143.1 L2050.0,1145.1 L2050.4,1147.0 L2050.7,1149.0 L2051.1,1150.9 L2051.5,1152.9 L2051.9,1154.9 L2052.2,1156.8 L2052.6,1158.8 L2053.0,1160.8 L2053.3,1162.7 L2053.7,1164.7 L2054.1,1166.7 L2054.4,1168.6 L2054.8,1170.6 L2055.2,1172.6 L2055.5,1174.5 L2055.9,1176.5 L2056.3,1178.5 L2056.7,1180.4 L2057.0,1182.4 L2057.4,1184.4 L2057.8,1186.3 L2058.2,1188.3 L2058.5,1190.3 L2058.9,1192.2 L2059.3,1194.2 L2059.7,1196.1 L2060.0,1198.1 L2060.4,1200.1 L2060.8,1202.0 L2061.2,1204.0 L2061.6,1206.0 L2061.9,1207.9 L2062.3,1209.9 L2062.7,1211.9 L2063.1,1213.8 L2063.5,1215.8 L2063.9,1217.7 L2064.2,1219.7 L2064.6,1221.7 L2065.0,1223.6 L2065.4,1225.6 L2065.8,1227.6 L2066.2,1229.5 L2066.5,1231.5 L2066.9,1233.4 L2067.3,1235.4 L2067.7,1237.4 L2068.1,1239.3 L2068.4,1241.3 L2068.8,1243.3 L2069.2,1245.2 L2069.6,1247.2 L2070.0,1249.2 L2070.4,1251.1 L2070.8,1253.1 L2071.1,1255.0 L2071.5,1257.0 L2071.9,1259.0 L2072.3,1260.9 L2072.7,1262.9 L2073.1,1264.9 L2073.4,1266.8 L2073.8,1268.8 L2074.2,1270.7 L2074.6,1272.7 L2075.0,1274.7 L2075.4,1276.6 L2075.8,1278.6 L2076.1,1280.6 L2076.5,1282.5 L2076.9,1284.5 L2077.3,1286.4 L2077.7,1288.4 L2078.1,1290.4 L2078.5,1292.3 L2078.9,1294.3 L2079.3,1296.2 L2079.7,1298.2 L2080.0,1300.2 L2080.4,1302.1 L2080.8,1304.1 L2081.2,1306.0 L2081.6,1308.0 L2082.0,1310.0 L2082.4,1311.9 L2082.8,1313.9 L2083.3,1315.8 L2083.7,1317.8 L2084.1,1319.8 L2084.5,1321.7 L2084.9,1323.7 L2085.3,1325.6 L2085.7,1327.6 L2086.2,1329.5 L2086.6,1331.5 L2087.0,1333.4 L2087.4,1335.4 L2087.9,1337.4 L2088.3,1339.3 L2088.7,1341.3 L2089.2,1343.2 L2089.6,1345.2 L2090.0,1347.1 L2090.5,1349.1 L2090.9,1351.0 L2091.4,1353.0 L2091.8,1354.9 L2092.2,1356.9 L2092.7,1358.8 L2093.1,1360.8 L2093.6,1362.7 L2094.0,1364.7 L2094.5,1366.6 L2094.9,1368.6 L2095.4,1370.5 L2095.8,1372.5 L2096.3,1374.4 L2096.8,1376.4 L2097.2,1378.3 L2097.7,1380.2 L2098.1,1382.2 L2098.6,1384.1 L2099.0,1386.1 L2099.5,1388.0 L2099.9,1390.0 L2100.4,1391.9 L2100.9,1393.9 L2101.3,1395.8 L2101.8,1397.8 L2102.2,1399.7 L2102.7,1401.7 L2103.1,1403.6 L2103.6,1405.6 L2104.1,1407.5 L2104.5,1409.5 L2105.0,1411.4 L2105.4,1413.3 L2105.9,1415.3 L2106.4,1417.2 L2106.8,1419.2 L2107.3,1421.1 L2107.8,1423.1 L2108.2,1425.0 L2108.7,1427.0 L2109.2,1428.9 L2109.6,1430.8 L2110.1,1432.8 L2110.6,1434.7 L2111.1,1436.7 L2111.6,1438.6 L2112.1,1440.6 L2112.6,1442.5 L2113.1,1444.4 L2113.6,1446.4 L2114.1,1448.3 L2114.6,1450.2 L2115.1,1452.2 L2115.6,1454.1 L2116.2,1456.0 L2116.7,1457.9 L2117.2,1459.9 L2117.8,1461.8 L2118.4,1463.7 L2118.9,1465.6 L2119.5,1467.5 L2120.1,1469.4 L2120.7,1471.3 L2121.4,1473.2 L2122.0,1475.1 L2122.7,1477.0 L2123.3,1478.9 L2124.0,1480.8 L2124.7,1482.7 L2125.4,1484.5 L2126.1,1486.4 L2126.9,1488.2 L2127.6,1490.1 L2128.4,1491.9 L2129.2,1493.8 L2130.0,1495.6 L2130.8,1497.4 L2131.6,1499.3 L2132.4,1501.1 L2133.2,1502.9 L2134.0,1504.8 L2134.9,1506.6 L2135.7,1508.4 L2136.5,1510.2 L2137.4,1512.0 L2138.2,1513.8 L2139.1,1515.6 L2140.0,1517.4 L2140.8,1519.2 L2141.7,1521.0 L2142.6,1522.8 L2143.6,1524.6 L2144.5,1526.3 L2145.5,1528.1 L2146.4,1529.8 L2147.4,1531.6 L2148.4,1533.3 L2149.4,1535.0 L2150.4,1536.8 L2151.4,1538.5 L2152.5,1540.2 L2153.6,1541.9 L2154.6,1543.6 L2155.7,1545.2 L2156.8,1546.9 L2158.0,1548.5 L2159.1,1550.2 L2160.3,1551.8 L2161.4,1553.4 L2162.6,1555.0 L2163.9,1556.6 L2165.1,1558.2 L2166.3,1559.7 L2167.6,1561.2 L2168.9,1562.8 L2170.3,1564.2 L2171.6,1565.7 L2173.0,1567.1 L2174.4,1568.5 L2175.8,1569.9 L2177.3,1571.3 L2178.8,1572.6 L2180.3,1573.8 L2181.9,1575.1 L2183.5,1576.2 L2185.1,1577.4 L2186.8,1578.5 L2188.4,1579.5 L2190.2,1580.5 L2191.9,1581.4 L2193.7,1582.3 L2195.5,1583.2 L2197.3,1583.9 L2199.1,1584.7 L2201.0,1585.3 L2202.9,1585.9 L2204.8,1586.5 L2206.7,1587.0 L2208.6,1587.4 L2210.6,1587.8 L2212.5,1588.1 L2214.5,1588.4 L2216.5,1588.7 L2218.5,1588.9 L2220.4,1589.1 L2222.4,1589.3 L2224.4,1589.4 L2226.4,1589.5 L2228.4,1589.7 L2230.4,1589.8 L2232.4,1589.9 L2234.4,1590.0 L2236.4,1590.1 L2238.4,1590.2 L2240.4,1590.3 L2242.4,1590.4 L2244.4,1590.5 L2246.4,1590.6 L2248.4,1590.8 L2250.4,1590.9 L2252.4,1591.0 L2254.4,1591.1 L2256.4,1591.3 L2258.4,1591.4 L2260.4,1591.5 L2262.3,1591.7 L2264.3,1591.8 L2266.3,1592.0 L2268.3,1592.1 L2270.3,1592.2 L2272.3,1592.4 L2274.3,1592.5 L2276.3,1592.6 L2278.3,1592.8 L2280.3,1592.9 L2282.3,1593.0 L2284.3,1593.1 L2286.3,1593.2 L2288.3,1593.3 L2290.3,1593.4 L2292.3,1593.5 L2294.3,1593.6 L2296.3,1593.6 L2298.3,1593.7 L2300.3,1593.7 L2302.3,1593.7 L2304.2,1593.7 L2306.2,1593.8 L2308.1,1593.8 L2310.0,1593.8 L2311.9,1593.8 L2313.6,1593.8 L2315.3,1593.8 L2316.8,1593.8 L2318.2,1593.8 L2319.4,1593.8 L2324.3,1593.8" stroke="#3a2e28" stroke-width="4.2" clip-path="url(#cr)"/>
<path d="M1302.9,1595.7 L1307.7,1595.6 L1308.9,1595.5 L1310.3,1595.4 L1311.8,1595.3 L1313.4,1595.1 L1315.1,1594.8 L1316.9,1594.5 L1318.8,1594.1 L1320.7,1593.7 L1322.5,1593.3 L1324.5,1592.8 L1326.4,1592.3 L1328.3,1591.7 L1330.2,1591.2 L1332.1,1590.6 L1334.0,1590.1 L1335.9,1589.5 L1337.9,1589.0 L1339.8,1588.4 L1341.7,1587.9 L1343.6,1587.3 L1345.6,1586.8 L1347.5,1586.3 L1349.4,1585.8 L1351.4,1585.4 L1353.3,1584.9 L1355.3,1584.5 L1357.2,1584.1 L1359.2,1583.7 L1361.2,1583.3 L1363.1,1582.9 L1365.1,1582.6 L1367.1,1582.2 L1369.0,1581.9 L1371.0,1581.6 L1373.0,1581.2 L1374.9,1580.9 L1376.9,1580.6 L1378.9,1580.2 L1380.8,1579.9 L1382.8,1579.5 L1384.8,1579.1 L1386.7,1578.7 L1388.7,1578.2 L1390.6,1577.8 L1392.5,1577.3 L1394.5,1576.9 L1396.4,1576.4 L1398.4,1576.0 L1400.3,1575.5 L1402.3,1575.1 L1404.2,1574.7 L1406.2,1574.3 L1408.2,1573.9 L1410.1,1573.6 L1412.1,1573.3 L1414.1,1572.9 L1416.1,1572.7 L1418.0,1572.4 L1420.0,1572.2 L1422.0,1572.0 L1424.0,1571.8 L1426.0,1571.6 L1428.0,1571.4 L1430.0,1571.3 L1432.0,1571.2 L1434.0,1571.1 L1436.0,1571.0 L1438.0,1571.0 L1439.9,1571.0 L1441.9,1571.0 L1443.9,1571.0 L1445.9,1571.0 L1447.9,1571.1 L1449.9,1571.2 L1451.9,1571.3 L1453.9,1571.4 L1455.9,1571.6 L1457.9,1571.8 L1459.9,1572.0 L1461.9,1572.3 L1463.8,1572.5 L1465.8,1572.8 L1467.8,1573.2 L1469.7,1573.5 L1471.7,1573.9 L1473.6,1574.3 L1475.6,1574.8 L1477.5,1575.2 L1479.5,1575.7 L1481.4,1576.2 L1483.4,1576.7 L1485.3,1577.2 L1487.2,1577.8 L1489.1,1578.3 L1491.0,1578.9 L1492.9,1579.5 L1494.9,1580.1 L1496.8,1580.7 L1498.7,1581.3 L1500.6,1581.9 L1502.4,1582.6 L1504.3,1583.3 L1506.2,1583.9 L1508.1,1584.6 L1510.0,1585.3 L1511.8,1586.0 L1513.7,1586.7 L1515.6,1587.4 L1517.4,1588.2 L1519.3,1588.9 L1521.1,1589.7 L1523.0,1590.4 L1524.8,1591.2 L1526.7,1592.0 L1528.5,1592.7 L1530.4,1593.5 L1532.2,1594.2 L1534.1,1595.0 L1535.9,1595.7 L1537.8,1596.5 L1539.7,1597.2 L1541.5,1597.9 L1543.4,1598.7 L1545.3,1599.4 L1547.1,1600.1 L1549.0,1600.8 L1550.9,1601.4 L1552.8,1602.1 L1554.7,1602.7 L1556.6,1603.4 L1558.5,1604.0 L1560.4,1604.6 L1562.3,1605.2 L1564.2,1605.7 L1566.1,1606.2 L1568.1,1606.8 L1570.0,1607.3 L1571.9,1607.7 L1573.9,1608.2 L1575.8,1608.7 L1577.8,1609.1 L1579.7,1609.5 L1581.7,1609.9 L1583.6,1610.3 L1585.6,1610.6 L1587.6,1611.0 L1589.5,1611.3 L1591.5,1611.5 L1593.5,1611.8 L1595.5,1612.0 L1597.4,1612.1 L1599.4,1612.2 L1601.4,1612.2 L1603.4,1612.2 L1605.3,1612.1 L1607.3,1611.9 L1609.2,1611.7 L1611.1,1611.3 L1613.0,1610.9 L1614.9,1610.4 L1616.8,1609.8 L1618.6,1609.1 L1620.3,1608.3 L1622.0,1607.4 L1623.7,1606.4 L1625.4,1605.4 L1627.0,1604.3 L1628.6,1603.1 L1630.2,1601.9 L1631.8,1600.7 L1633.3,1599.4 L1634.8,1598.1 L1636.3,1596.8 L1637.8,1595.5 L1639.3,1594.1 L1640.8,1592.8 L1642.2,1591.4 L1643.7,1590.0 L1645.1,1588.6 L1646.5,1587.2 L1648.0,1585.8 L1649.4,1584.4 L1650.8,1583.0 L1652.2,1581.6 L1653.6,1580.2 L1655.1,1578.8 L1656.5,1577.4 L1657.9,1576.0 L1659.3,1574.6 L1660.8,1573.2 L1662.2,1571.8 L1663.7,1570.5 L1665.1,1569.1 L1666.6,1567.8 L1668.1,1566.5 L1669.7,1565.3 L1671.3,1564.2 L1672.9,1563.1 L1674.5,1562.1 L1676.2,1561.1 L1678.0,1560.3 L1679.8,1559.6 L1681.6,1559.0 L1683.4,1558.5 L1685.2,1558.1 L1687.1,1557.9 L1689.0,1557.8 L1690.8,1557.9 L1692.7,1558.1 L1694.5,1558.5 L1696.3,1559.0 L1698.1,1559.6 L1699.8,1560.4 L1701.5,1561.3 L1703.2,1562.2 L1704.8,1563.3 L1706.5,1564.3 L1708.1,1565.4 L1709.7,1566.5 L1711.4,1567.7 L1713.0,1568.7 L1714.7,1569.8 L1716.4,1570.8 L1718.1,1571.7 L1719.9,1572.6 L1721.7,1573.4 L1723.5,1574.2 L1725.3,1574.9 L1727.2,1575.5 L1729.1,1576.2 L1731.0,1576.7 L1732.9,1577.3 L1734.8,1577.8 L1736.7,1578.3 L1738.7,1578.7 L1740.6,1579.2 L1742.6,1579.6 L1744.5,1579.9 L1746.5,1580.2 L1748.4,1580.4 L1750.4,1580.6 L1752.3,1580.7 L1754.3,1580.7 L1756.2,1580.6 L1758.1,1580.4 L1760.0,1580.0 L1761.9,1579.6 L1763.7,1579.1 L1765.6,1578.4 L1767.4,1577.7 L1769.1,1576.9 L1770.8,1576.0 L1772.5,1575.0 L1774.2,1573.9 L1775.7,1572.8 L1777.3,1571.6 L1778.8,1570.3 L1780.2,1568.9 L1781.6,1567.5 L1782.9,1566.1 L1784.2,1564.6 L1785.5,1563.1 L1786.7,1561.5 L1787.9,1559.9 L1789.1,1558.3 L1790.2,1556.6 L1791.3,1555.0 L1792.4,1553.3 L1793.5,1551.6 L1794.6,1550.0 L1795.6,1548.3 L1796.7,1546.6 L1797.7,1544.8 L1798.7,1543.1 L1799.7,1541.4 L1800.7,1539.7 L1801.7,1537.9 L1802.7,1536.2 L1803.7,1534.5 L1804.7,1532.7 L1805.6,1531.0 L1806.6,1529.2 L1807.5,1527.4 L1808.5,1525.7 L1809.4,1523.9 L1810.4,1522.2 L1811.3,1520.4 L1812.2,1518.6 L1813.1,1516.8 L1814.0,1515.0 L1814.9,1513.2 L1815.8,1511.5 L1816.7,1509.7 L1817.5,1507.9 L1818.4,1506.0 L1819.2,1504.2 L1820.1,1502.4 L1820.9,1500.6 L1821.7,1498.8 L1822.5,1497.0 L1823.4,1495.1 L1824.2,1493.3 L1825.0,1491.5 L1825.8,1489.6 L1826.6,1487.8 L1827.3,1486.0 L1828.1,1484.1 L1828.9,1482.3 L1829.6,1480.4 L1830.3,1478.5 L1831.1,1476.7 L1831.8,1474.8 L1832.4,1472.9 L1833.1,1471.1 L1833.8,1469.2 L1834.4,1467.3 L1835.1,1465.4 L1835.7,1463.5 L1836.3,1461.6 L1836.9,1459.7 L1837.5,1457.8 L1838.1,1455.9 L1838.7,1453.9 L1839.3,1452.0 L1839.9,1450.1 L1840.4,1448.2 L1841.0,1446.3 L1841.6,1444.4 L1842.1,1442.4 L1842.7,1440.5 L1843.2,1438.6 L1843.8,1436.7 L1844.3,1434.8 L1844.9,1432.8 L1845.4,1430.9 L1846.0,1429.0 L1846.5,1427.1 L1847.1,1425.1 L1847.6,1423.2 L1848.2,1421.3 L1848.7,1419.4 L1849.3,1417.4 L1849.8,1415.5 L1850.4,1413.6 L1850.9,1411.7 L1851.5,1409.8 L1852.0,1407.8 L1852.6,1405.9 L1853.2,1404.0 L1853.7,1402.1 L1854.3,1400.2 L1854.8,1398.2 L1855.4,1396.3 L1856.0,1394.4 L1856.5,1392.5 L1857.1,1390.6 L1857.7,1388.6 L1858.2,1386.7 L1858.8,1384.8 L1859.4,1382.9 L1859.9,1381.0 L1860.5,1379.1 L1861.1,1377.1 L1861.7,1375.2 L1862.2,1373.3 L1862.8,1371.4 L1863.4,1369.5 L1863.9,1367.6 L1864.5,1365.6 L1865.1,1363.7 L1865.6,1361.8 L1866.2,1359.9 L1866.8,1358.0 L1867.3,1356.0 L1867.9,1354.1 L1868.5,1352.2 L1869.0,1350.3 L1869.6,1348.4 L1870.2,1346.5 L1870.7,1344.5 L1871.3,1342.6 L1871.9,1340.7 L1872.4,1338.8 L1873.0,1336.9 L1873.6,1335.0 L1874.1,1333.0 L1874.7,1331.1 L1875.3,1329.2 L1875.8,1327.3 L1876.4,1325.4 L1876.9,1323.4 L1877.5,1321.5 L1878.1,1319.6 L1878.6,1317.7 L1879.2,1315.8 L1879.8,1313.8 L1880.3,1311.9 L1880.9,1310.0 L1881.4,1308.1 L1882.0,1306.2 L1882.6,1304.2 L1883.1,1302.3 L1883.7,1300.4 L1884.2,1298.5 L1884.8,1296.6 L1885.3,1294.6 L1885.9,1292.7 L1886.4,1290.8 L1887.0,1288.9 L1887.5,1286.9 L1888.1,1285.0 L1888.6,1283.1 L1889.1,1281.2 L1889.7,1279.2 L1890.2,1277.3 L1890.8,1275.4 L1891.3,1273.5 L1891.8,1271.5 L1892.4,1269.6 L1892.9,1267.7 L1893.4,1265.7 L1893.9,1263.8 L1894.5,1261.9 L1895.0,1260.0 L1895.5,1258.0 L1896.1,1256.1 L1896.6,1254.2 L1897.1,1252.2 L1897.6,1250.3 L1898.2,1248.4 L1898.7,1246.5 L1899.2,1244.5 L1899.7,1242.6 L1900.3,1240.7 L1900.8,1238.7 L1901.3,1236.8 L1901.8,1234.9 L1902.4,1232.9 L1902.9,1231.0 L1903.4,1229.1 L1904.0,1227.2 L1904.5,1225.2 L1905.0,1223.3 L1905.5,1221.4 L1906.1,1219.4 L1906.6,1217.5 L1907.1,1215.6 L1907.7,1213.7 L1908.2,1211.7 L1908.8,1209.8 L1909.3,1207.9 L1909.8,1206.0 L1910.4,1204.0 L1910.9,1202.1 L1911.5,1200.2 L1912.0,1198.3 L1912.6,1196.3 L1913.1,1194.4 L1913.7,1192.5 L1914.2,1190.6 L1914.8,1188.6 L1915.3,1186.7 L1915.9,1184.8 L1916.4,1182.9 L1917.0,1181.0 L1917.5,1179.0 L1918.1,1177.1 L1918.7,1175.2 L1919.2,1173.3 L1919.8,1171.4 L1920.4,1169.4 L1920.9,1167.5 L1921.5,1165.6 L1922.1,1163.7 L1922.6,1161.8 L1923.2,1159.9 L1923.8,1157.9 L1924.3,1156.0 L1924.9,1154.1 L1925.5,1152.2 L1926.1,1150.3 L1926.7,1148.4 L1927.2,1146.5 L1927.8,1144.5 L1928.4,1142.6 L1929.0,1140.7 L1929.6,1138.8 L1930.2,1136.9 L1930.8,1135.0 L1931.4,1133.1 L1932.0,1131.2 L1932.5,1129.3 L1933.1,1127.3 L1933.7,1125.4 L1934.3,1123.5 L1934.9,1121.6 L1935.6,1119.7 L1936.2,1117.8 L1936.8,1115.9 L1937.4,1114.0 L1938.0,1112.1 L1938.6,1110.2 L1939.2,1108.3 L1939.8,1106.4 L1940.5,1104.5 L1941.1,1102.6 L1941.7,1100.7 L1942.4,1098.8 L1943.0,1096.9 L1943.6,1095.0 L1944.3,1093.1 L1944.9,1091.2 L1945.6,1089.3 L1946.2,1087.4 L1946.9,1085.6 L1947.6,1083.7 L1948.3,1081.8 L1949.0,1079.9 L1949.7,1078.0 L1950.4,1076.2 L1951.1,1074.3 L1951.8,1072.4 L1952.5,1070.6 L1953.2,1068.7 L1954.0,1066.8 L1954.7,1065.0 L1955.5,1063.1 L1956.2,1061.3 L1957.0,1059.4 L1957.8,1057.6 L1958.5,1055.8 L1959.3,1053.9 L1960.1,1052.1 L1960.9,1050.2 L1961.7,1048.4 L1962.5,1046.6 L1963.4,1044.8 L1964.2,1043.0 L1965.0,1041.1 L1965.9,1039.3 L1966.8,1037.5 L1967.6,1035.7 L1968.5,1033.9 L1969.4,1032.1 L1970.3,1030.3 L1971.2,1028.5 L1972.1,1026.8 L1973.0,1025.0 L1973.9,1023.2 L1974.8,1021.4 L1975.8,1019.7 L1976.7,1017.9 L1977.7,1016.2 L1978.7,1014.4 L1979.7,1012.7 L1980.7,1011.0 L1981.7,1009.2 L1982.7,1007.5 L1983.8,1005.8 L1984.8,1004.1 L1985.9,1002.4 L1987.0,1000.8 L1988.2,999.2 L1989.4,997.6 L1990.7,996.0 L1992.0,994.5 L1993.4,993.1 L1994.8,991.7 L1996.4,990.5 L1998.0,989.4 L1999.8,988.4 L2001.6,987.7 L2003.5,987.3 L2005.5,987.0 L2007.5,986.8 L2009.5,986.8 L2011.5,986.8 L2013.5,986.9 L2015.5,987.1 L2017.4,987.6 L2019.2,988.3 L2020.9,989.3 L2022.5,990.5 L2024.0,991.8 L2025.5,993.2 L2026.8,994.6 L2028.1,996.1 L2029.4,997.7 L2030.6,999.3 L2031.8,1000.9 L2032.9,1002.5 L2034.0,1004.2 L2035.0,1005.9 L2036.0,1007.7 L2037.0,1009.4 L2038.0,1011.2 L2038.9,1012.9 L2039.9,1014.7 L2040.8,1016.5 L2041.7,1018.2 L2042.6,1020.0 L2043.5,1021.8 L2044.4,1023.6 L2045.3,1025.4 L2046.1,1027.2 L2047.0,1029.0 L2047.9,1030.8 L2048.7,1032.6 L2049.5,1034.4 L2050.3,1036.3 L2051.1,1038.1 L2051.9,1039.9 L2052.7,1041.8 L2053.4,1043.6 L2054.2,1045.5 L2054.9,1047.4 L2055.6,1049.2 L2056.4,1051.1 L2057.1,1053.0 L2057.8,1054.8 L2058.5,1056.7 L2059.2,1058.6 L2059.9,1060.4 L2060.6,1062.3 L2061.3,1064.2 L2062.0,1066.1 L2062.6,1068.0 L2063.3,1069.8 L2064.0,1071.7 L2064.7,1073.6 L2065.3,1075.5 L2066.0,1077.4 L2066.7,1079.3 L2067.3,1081.2 L2068.0,1083.0 L2068.6,1084.9 L2069.2,1086.8 L2069.9,1088.7 L2070.5,1090.6 L2071.1,1092.5 L2071.7,1094.4 L2072.3,1096.4 L2072.9,1098.3 L2073.5,1100.2 L2074.1,1102.1 L2074.6,1104.0 L2075.2,1105.9 L2075.8,1107.8 L2076.3,1109.8 L2076.9,1111.7 L2077.5,1113.6 L2078.0,1115.5 L2078.6,1117.4 L2079.1,1119.4 L2079.6,1121.3 L2080.2,1123.2 L2080.7,1125.1 L2081.2,1127.1 L2081.8,1129.0 L2082.3,1130.9 L2082.8,1132.9 L2083.3,1134.8 L2083.8,1136.7 L2084.3,1138.7 L2084.8,1140.6 L2085.3,1142.5 L2085.8,1144.5 L2086.3,1146.4 L2086.8,1148.3 L2087.3,1150.3 L2087.8,1152.2 L2088.3,1154.2 L2088.8,1156.1 L2089.3,1158.0 L2089.8,1160.0 L2090.3,1161.9 L2090.8,1163.9 L2091.3,1165.8 L2091.7,1167.7 L2092.2,1169.7 L2092.7,1171.6 L2093.2,1173.6 L2093.7,1175.5 L2094.1,1177.4 L2094.6,1179.4 L2095.1,1181.3 L2095.6,1183.3 L2096.0,1185.2 L2096.5,1187.2 L2097.0,1189.1 L2097.4,1191.1 L2097.9,1193.0 L2098.4,1194.9 L2098.8,1196.9 L2099.3,1198.8 L2099.8,1200.8 L2100.2,1202.7 L2100.7,1204.7 L2101.2,1206.6 L2101.6,1208.6 L2102.1,1210.5 L2102.5,1212.5 L2103.0,1214.4 L2103.4,1216.4 L2103.9,1218.3 L2104.3,1220.3 L2104.8,1222.2 L2105.2,1224.1 L2105.7,1226.1 L2106.1,1228.0 L2106.6,1230.0 L2107.0,1231.9 L2107.4,1233.9 L2107.9,1235.9 L2108.3,1237.8 L2108.8,1239.8 L2109.2,1241.7 L2109.6,1243.7 L2110.1,1245.6 L2110.5,1247.6 L2111.0,1249.5 L2111.4,1251.5 L2111.8,1253.4 L2112.3,1255.4 L2112.7,1257.3 L2113.2,1259.3 L2113.6,1261.2 L2114.0,1263.2 L2114.5,1265.1 L2114.9,1267.1 L2115.4,1269.0 L2115.8,1271.0 L2116.3,1272.9 L2116.7,1274.9 L2117.2,1276.8 L2117.6,1278.8 L2118.1,1280.7 L2118.5,1282.6 L2119.0,1284.6 L2119.5,1286.5 L2119.9,1288.5 L2120.4,1290.4 L2120.9,1292.4 L2121.3,1294.3 L2121.8,1296.3 L2122.3,1298.2 L2122.8,1300.1 L2123.2,1302.1 L2123.7,1304.0 L2124.2,1306.0 L2124.7,1307.9 L2125.2,1309.9 L2125.7,1311.8 L2126.1,1313.7 L2126.6,1315.7 L2127.1,1317.6 L2127.6,1319.6 L2128.1,1321.5 L2128.6,1323.4 L2129.1,1325.4 L2129.6,1327.3 L2130.1,1329.2 L2130.6,1331.2 L2131.1,1333.1 L2131.6,1335.1 L2132.1,1337.0 L2132.6,1338.9 L2133.1,1340.9 L2133.6,1342.8 L2134.1,1344.7 L2134.6,1346.7 L2135.1,1348.6 L2135.6,1350.5 L2136.1,1352.5 L2136.6,1354.4 L2137.1,1356.3 L2137.6,1358.3 L2138.1,1360.2 L2138.6,1362.2 L2139.1,1364.1 L2139.6,1366.0 L2140.1,1368.0 L2140.6,1369.9 L2141.2,1371.8 L2141.7,1373.8 L2142.2,1375.7 L2142.7,1377.6 L2143.2,1379.6 L2143.7,1381.5 L2144.2,1383.4 L2144.7,1385.4 L2145.2,1387.3 L2145.8,1389.2 L2146.3,1391.2 L2146.8,1393.1 L2147.3,1395.0 L2147.8,1397.0 L2148.3,1398.9 L2148.8,1400.8 L2149.3,1402.8 L2149.8,1404.7 L2150.4,1406.6 L2150.9,1408.6 L2151.4,1410.5 L2151.9,1412.4 L2152.4,1414.4 L2152.9,1416.3 L2153.4,1418.2 L2153.9,1420.2 L2154.5,1422.1 L2155.0,1424.0 L2155.5,1426.0 L2156.0,1427.9 L2156.5,1429.8 L2157.0,1431.8 L2157.6,1433.7 L2158.1,1435.6 L2158.6,1437.5 L2159.1,1439.5 L2159.7,1441.4 L2160.2,1443.3 L2160.7,1445.3 L2161.3,1447.2 L2161.8,1449.1 L2162.4,1451.0 L2162.9,1453.0 L2163.4,1454.9 L2164.0,1456.8 L2164.6,1458.7 L2165.1,1460.6 L2165.7,1462.6 L2166.3,1464.5 L2166.8,1466.4 L2167.4,1468.3 L2168.0,1470.2 L2168.6,1472.1 L2169.2,1474.0 L2169.8,1475.9 L2170.5,1477.8 L2171.1,1479.7 L2171.8,1481.6 L2172.5,1483.5 L2173.2,1485.3 L2173.9,1487.2 L2174.6,1489.1 L2175.4,1490.9 L2176.2,1492.7 L2177.0,1494.6 L2177.8,1496.4 L2178.6,1498.2 L2179.5,1500.0 L2180.3,1501.8 L2181.2,1503.6 L2182.1,1505.4 L2183.0,1507.2 L2183.9,1509.0 L2184.8,1510.8 L2185.7,1512.6 L2186.6,1514.3 L2187.6,1516.1 L2188.6,1517.8 L2189.5,1519.6 L2190.5,1521.3 L2191.6,1523.0 L2192.6,1524.7 L2193.6,1526.4 L2194.7,1528.1 L2195.8,1529.8 L2196.9,1531.5 L2198.0,1533.1 L2199.1,1534.8 L2200.3,1536.4 L2201.5,1538.0 L2202.7,1539.6 L2203.9,1541.2 L2205.1,1542.8 L2206.3,1544.4 L2207.6,1545.9 L2208.8,1547.5 L2210.1,1549.0 L2211.4,1550.5 L2212.7,1552.0 L2214.0,1553.5 L2215.4,1555.0 L2216.7,1556.5 L2218.1,1557.9 L2219.5,1559.4 L2220.9,1560.8 L2222.3,1562.2 L2223.7,1563.6 L2225.2,1565.0 L2226.6,1566.4 L2228.1,1567.7 L2229.6,1569.0 L2231.1,1570.3 L2232.7,1571.6 L2234.2,1572.8 L2235.8,1574.0 L2237.4,1575.2 L2239.0,1576.4 L2240.7,1577.5 L2242.3,1578.6 L2244.0,1579.7 L2245.7,1580.8 L2247.4,1581.9 L2249.1,1582.9 L2250.8,1583.9 L2252.5,1584.9 L2254.2,1585.9 L2256.0,1586.9 L2257.8,1587.8 L2259.5,1588.7 L2261.3,1589.6 L2263.1,1590.5 L2264.9,1591.3 L2266.8,1592.1 L2268.6,1592.8 L2270.5,1593.5 L2272.3,1594.2 L2274.2,1594.8 L2276.1,1595.4 L2278.0,1595.9 L2280.0,1596.4 L2281.9,1596.8 L2283.8,1597.2 L2285.8,1597.5 L2287.8,1597.7 L2289.7,1597.8 L2291.7,1597.9 L2293.7,1598.0 L2295.7,1597.9 L2297.6,1597.8 L2299.6,1597.7 L2301.6,1597.5 L2303.5,1597.3 L2305.5,1597.1 L2307.4,1596.8 L2309.2,1596.6 L2311.1,1596.3 L2312.8,1596.0 L2314.4,1595.7 L2316.0,1595.4 L2317.3,1595.2 L2318.5,1595.0 L2323.3,1594.1" stroke="#00a040" stroke-width="5.3" clip-path="url(#cr)"/>
<path d="M17.6,2282.4 L22.5,2282.4 L23.6,2282.4 L25.0,2282.4 L26.6,2282.4 L28.3,2282.4 L30.0,2282.3 L31.9,2282.3 L33.7,2282.3 L35.7,2282.2 L37.6,2282.2 L39.6,2282.1 L41.6,2282.0 L43.6,2281.9 L45.6,2281.8 L47.6,2281.7 L49.6,2281.5 L51.6,2281.4 L53.5,2281.2 L55.5,2281.1 L57.5,2280.9 L59.5,2280.7 L61.5,2280.5 L63.5,2280.3 L65.5,2280.1 L67.5,2280.0 L69.5,2279.8 L71.5,2279.6 L73.5,2279.4 L75.5,2279.3 L77.4,2279.1 L79.4,2279.0 L81.4,2278.8 L83.4,2278.7 L85.4,2278.6 L87.4,2278.5 L89.4,2278.4 L91.4,2278.3 L93.4,2278.2 L95.4,2278.1 L97.4,2278.1 L99.4,2278.0 L101.4,2278.0 L103.4,2278.0 L105.4,2278.0 L107.4,2277.9 L109.4,2278.0 L111.4,2278.0 L113.4,2278.0 L115.4,2278.1 L117.4,2278.1 L119.4,2278.2 L121.4,2278.3 L123.4,2278.4 L125.4,2278.5 L127.4,2278.7 L129.4,2278.8 L131.4,2279.0 L133.3,2279.2 L135.3,2279.4 L137.3,2279.7 L139.3,2280.0 L141.3,2280.2 L143.2,2280.6 L145.2,2280.9 L147.2,2281.2 L149.1,2281.6 L151.1,2282.0 L153.1,2282.4 L155.0,2282.8 L157.0,2283.3 L158.9,2283.7 L160.8,2284.2 L162.8,2284.7 L164.7,2285.2 L166.7,2285.7 L168.6,2286.2 L170.5,2286.6 L172.5,2287.1 L174.4,2287.6 L176.4,2288.0 L178.3,2288.5 L180.3,2288.9 L182.2,2289.3 L184.2,2289.7 L186.1,2290.1 L188.1,2290.4 L190.1,2290.8 L192.0,2291.2 L194.0,2291.6 L195.9,2292.0 L197.9,2292.4 L199.8,2292.8 L201.8,2293.2 L203.7,2293.7 L205.7,2294.1 L207.6,2294.5 L209.6,2295.0 L211.5,2295.4 L213.5,2295.8 L215.5,2296.2 L217.4,2296.6 L219.4,2297.0 L221.3,2297.4 L223.3,2297.7 L225.3,2298.0 L227.3,2298.3 L229.2,2298.6 L231.2,2298.8 L233.2,2299.0 L235.2,2299.2 L237.2,2299.3 L239.2,2299.4 L241.1,2299.4 L243.1,2299.4 L245.1,2299.4 L247.1,2299.2 L249.1,2299.1 L251.0,2298.8 L253.0,2298.6 L254.9,2298.2 L256.9,2297.8 L258.8,2297.4 L260.7,2296.9 L262.6,2296.3 L264.5,2295.7 L266.4,2295.0 L268.2,2294.2 L270.0,2293.4 L271.8,2292.6 L273.5,2291.7 L275.3,2290.7 L277.0,2289.7 L278.6,2288.6 L280.3,2287.5 L281.9,2286.3 L283.5,2285.1 L285.0,2283.9 L286.5,2282.6 L288.0,2281.3 L289.5,2279.9 L290.9,2278.6 L292.3,2277.1 L293.7,2275.7 L295.0,2274.2 L296.3,2272.7 L297.6,2271.2 L298.8,2269.6 L300.0,2268.0 L301.2,2266.4 L302.3,2264.8 L303.4,2263.1 L304.5,2261.5 L305.6,2259.8 L306.6,2258.0 L307.5,2256.3 L308.4,2254.5 L309.4,2252.8 L310.2,2251.0 L311.1,2249.2 L311.9,2247.4 L312.7,2245.5 L313.5,2243.7 L314.3,2241.9 L315.1,2240.0 L315.9,2238.2 L316.6,2236.3 L317.4,2234.5 L318.1,2232.6 L318.9,2230.8 L319.6,2228.9 L320.4,2227.1 L321.1,2225.2 L321.9,2223.3 L322.6,2221.5 L323.3,2219.6 L324.1,2217.8 L324.8,2215.9 L325.6,2214.1 L326.3,2212.2 L327.1,2210.3 L327.8,2208.5 L328.5,2206.6 L329.3,2204.8 L330.0,2202.9 L330.8,2201.1 L331.5,2199.2 L332.3,2197.4 L333.0,2195.5 L333.8,2193.6 L334.5,2191.8 L335.3,2189.9 L336.0,2188.1 L336.8,2186.2 L337.5,2184.4 L338.3,2182.5 L339.0,2180.7 L339.8,2178.8 L340.5,2177.0 L341.3,2175.1 L342.0,2173.2 L342.7,2171.4 L343.4,2169.5 L344.1,2167.6 L344.8,2165.8 L345.5,2163.9 L346.2,2162.0 L346.8,2160.1 L347.4,2158.2 L348.1,2156.3 L348.7,2154.4 L349.3,2152.5 L349.8,2150.6 L350.4,2148.7 L350.9,2146.7 L351.4,2144.8 L351.9,2142.9 L352.4,2140.9 L352.9,2139.0 L353.4,2137.1 L353.8,2135.1 L354.3,2133.2 L354.7,2131.2 L355.1,2129.2 L355.5,2127.3 L356.0,2125.3 L356.3,2123.4 L356.7,2121.4 L357.1,2119.5 L357.5,2117.5 L357.9,2115.5 L358.3,2113.6 L358.6,2111.6 L359.0,2109.6 L359.4,2107.7 L359.7,2105.7 L360.1,2103.7 L360.4,2101.8 L360.8,2099.8 L361.1,2097.8 L361.5,2095.9 L361.8,2093.9 L362.2,2091.9 L362.5,2089.9 L362.9,2088.0 L363.2,2086.0 L363.6,2084.0 L363.9,2082.1 L364.2,2080.1 L364.6,2078.1 L364.9,2076.1 L365.3,2074.2 L365.6,2072.2 L365.9,2070.2 L366.3,2068.3 L366.6,2066.3 L367.0,2064.3 L367.3,2062.4 L367.7,2060.4 L368.0,2058.4 L368.4,2056.4 L368.7,2054.5 L369.1,2052.5 L369.4,2050.5 L369.8,2048.6 L370.1,2046.6 L370.5,2044.6 L370.8,2042.7 L371.2,2040.7 L371.5,2038.7 L371.9,2036.8 L372.2,2034.8 L372.6,2032.8 L372.9,2030.9 L373.3,2028.9 L373.7,2026.9 L374.0,2024.9 L374.4,2023.0 L374.7,2021.0 L375.1,2019.0 L375.4,2017.1 L375.8,2015.1 L376.1,2013.1 L376.5,2011.2 L376.8,2009.2 L377.2,2007.2 L377.5,2005.3 L377.9,2003.3 L378.2,2001.3 L378.6,1999.4 L378.9,1997.4 L379.3,1995.4 L379.6,1993.4 L380.0,1991.5 L380.4,1989.5 L380.7,1987.5 L381.1,1985.6 L381.4,1983.6 L381.8,1981.6 L382.1,1979.7 L382.5,1977.7 L382.8,1975.7 L383.2,1973.8 L383.5,1971.8 L383.9,1969.8 L384.3,1967.9 L384.6,1965.9 L385.0,1963.9 L385.3,1962.0 L385.7,1960.0 L386.0,1958.0 L386.4,1956.1 L386.8,1954.1 L387.1,1952.1 L387.5,1950.2 L387.8,1948.2 L388.2,1946.2 L388.6,1944.3 L388.9,1942.3 L389.3,1940.3 L389.6,1938.4 L390.0,1936.4 L390.4,1934.4 L390.7,1932.5 L391.1,1930.5 L391.5,1928.5 L391.8,1926.6 L392.2,1924.6 L392.6,1922.6 L392.9,1920.7 L393.3,1918.7 L393.7,1916.7 L394.0,1914.8 L394.4,1912.8 L394.8,1910.8 L395.1,1908.9 L395.5,1906.9 L395.9,1904.9 L396.3,1903.0 L396.6,1901.0 L397.0,1899.0 L397.4,1897.1 L397.7,1895.1 L398.1,1893.1 L398.5,1891.2 L398.9,1889.2 L399.2,1887.2 L399.6,1885.3 L400.0,1883.3 L400.4,1881.4 L400.8,1879.4 L401.1,1877.4 L401.5,1875.5 L401.9,1873.5 L402.3,1871.5 L402.7,1869.6 L403.0,1867.6 L403.4,1865.6 L403.8,1863.7 L404.2,1861.7 L404.6,1859.8 L405.0,1857.8 L405.4,1855.8 L405.7,1853.9 L406.1,1851.9 L406.5,1849.9 L406.9,1848.0 L407.3,1846.0 L407.7,1844.1 L408.1,1842.1 L408.5,1840.1 L408.9,1838.2 L409.3,1836.2 L409.7,1834.3 L410.2,1832.3 L410.6,1830.4 L411.0,1828.4 L411.4,1826.4 L411.8,1824.5 L412.2,1822.5 L412.7,1820.6 L413.1,1818.6 L413.5,1816.7 L413.9,1814.7 L414.4,1812.8 L414.8,1810.8 L415.2,1808.9 L415.7,1806.9 L416.1,1805.0 L416.5,1803.0 L417.0,1801.1 L417.4,1799.1 L417.8,1797.1 L418.3,1795.2 L418.7,1793.2 L419.1,1791.3 L419.6,1789.3 L420.0,1787.4 L420.5,1785.4 L420.9,1783.5 L421.4,1781.5 L421.8,1779.6 L422.3,1777.6 L422.7,1775.7 L423.2,1773.8 L423.7,1771.8 L424.1,1769.9 L424.6,1767.9 L425.1,1766.0 L425.6,1764.1 L426.2,1762.1 L426.7,1760.2 L427.2,1758.3 L427.8,1756.4 L428.4,1754.4 L429.0,1752.5 L429.6,1750.6 L430.2,1748.7 L430.9,1746.9 L431.6,1745.0 L432.2,1743.1 L432.9,1741.2 L433.6,1739.3 L434.3,1737.5 L435.0,1735.6 L435.7,1733.7 L436.4,1731.8 L437.1,1730.0 L437.9,1728.1 L438.6,1726.3 L439.4,1724.4 L440.2,1722.6 L441.1,1720.8 L442.0,1719.0 L443.0,1717.3 L444.1,1715.6 L445.3,1714.1 L446.7,1712.7 L448.3,1711.5 L450.0,1710.5 L451.8,1709.9 L453.8,1709.4 L455.7,1709.2 L457.7,1709.3 L459.6,1709.8 L461.4,1710.5 L463.1,1711.5 L464.7,1712.7 L466.3,1714.0 L467.7,1715.4 L469.0,1716.8 L470.3,1718.4 L471.5,1720.0 L472.6,1721.6 L473.7,1723.3 L474.8,1725.0 L475.9,1726.7 L476.9,1728.4 L477.9,1730.1 L478.9,1731.8 L479.9,1733.6 L480.8,1735.3 L481.8,1737.1 L482.7,1738.9 L483.6,1740.7 L484.5,1742.4 L485.3,1744.3 L486.2,1746.1 L486.9,1747.9 L487.7,1749.8 L488.4,1751.6 L489.2,1753.5 L489.9,1755.4 L490.6,1757.2 L491.3,1759.1 L491.9,1761.0 L492.6,1762.9 L493.3,1764.8 L493.9,1766.7 L494.6,1768.6 L495.2,1770.4 L495.8,1772.3 L496.5,1774.2 L497.1,1776.1 L497.8,1778.0 L498.4,1779.9 L499.0,1781.8 L499.7,1783.7 L500.3,1785.6 L501.0,1787.5 L501.6,1789.4 L502.2,1791.3 L502.8,1793.2 L503.4,1795.1 L504.0,1797.0 L504.6,1798.9 L505.2,1800.8 L505.7,1802.7 L506.3,1804.7 L506.8,1806.6 L507.4,1808.5 L507.9,1810.4 L508.5,1812.4 L509.0,1814.3 L509.6,1816.2 L510.1,1818.1 L510.6,1820.1 L511.2,1822.0 L511.7,1823.9 L512.2,1825.8 L512.8,1827.8 L513.3,1829.7 L513.9,1831.6 L514.4,1833.6 L514.9,1835.5 L515.5,1837.4 L516.0,1839.3 L516.5,1841.3 L517.1,1843.2 L517.6,1845.1 L518.2,1847.0 L518.7,1849.0 L519.3,1850.9 L519.8,1852.8 L520.4,1854.7 L520.9,1856.6 L521.5,1858.6 L522.0,1860.5 L522.6,1862.4 L523.2,1864.3 L523.7,1866.2 L524.3,1868.2 L524.8,1870.1 L525.4,1872.0 L526.0,1873.9 L526.5,1875.8 L527.1,1877.8 L527.7,1879.7 L528.2,1881.6 L528.8,1883.5 L529.4,1885.4 L529.9,1887.4 L530.5,1889.3 L531.1,1891.2 L531.6,1893.1 L532.2,1895.0 L532.8,1896.9 L533.3,1898.9 L533.9,1900.8 L534.5,1902.7 L535.0,1904.6 L535.6,1906.5 L536.1,1908.5 L536.7,1910.4 L537.3,1912.3 L537.8,1914.2 L538.4,1916.1 L539.0,1918.0 L539.5,1920.0 L540.1,1921.9 L540.6,1923.8 L541.2,1925.7 L541.7,1927.7 L542.3,1929.6 L542.9,1931.5 L543.4,1933.4 L544.0,1935.3 L544.5,1937.3 L545.0,1939.2 L545.6,1941.1 L546.1,1943.0 L546.6,1945.0 L547.2,1946.9 L547.7,1948.8 L548.2,1950.8 L548.7,1952.7 L549.2,1954.6 L549.7,1956.6 L550.2,1958.5 L550.6,1960.5 L551.1,1962.4 L551.5,1964.4 L552.0,1966.3 L552.4,1968.3 L552.8,1970.2 L553.3,1972.2 L553.7,1974.1 L554.1,1976.1 L554.5,1978.0 L554.9,1980.0 L555.3,1982.0 L555.7,1983.9 L556.1,1985.9 L556.4,1987.8 L556.8,1989.8 L557.2,1991.8 L557.6,1993.7 L558.0,1995.7 L558.4,1997.7 L558.7,1999.6 L559.1,2001.6 L559.5,2003.6 L559.9,2005.5 L560.2,2007.5 L560.6,2009.5 L561.0,2011.4 L561.4,2013.4 L561.7,2015.3 L562.1,2017.3 L562.5,2019.3 L562.9,2021.2 L563.3,2023.2 L563.7,2025.2 L564.0,2027.1 L564.4,2029.1 L564.8,2031.0 L565.2,2033.0 L565.7,2035.0 L566.1,2036.9 L566.5,2038.9 L566.9,2040.8 L567.3,2042.8 L567.8,2044.7 L568.2,2046.7 L568.6,2048.6 L569.1,2050.6 L569.5,2052.5 L570.0,2054.5 L570.4,2056.4 L570.9,2058.4 L571.4,2060.3 L571.8,2062.3 L572.3,2064.2 L572.7,2066.2 L573.2,2068.1 L573.7,2070.1 L574.1,2072.0 L574.6,2073.9 L575.0,2075.9 L575.5,2077.8 L576.0,2079.8 L576.4,2081.7 L576.9,2083.7 L577.4,2085.6 L577.8,2087.6 L578.3,2089.5 L578.8,2091.4 L579.3,2093.4 L579.7,2095.3 L580.2,2097.3 L580.7,2099.2 L581.2,2101.2 L581.6,2103.1 L582.1,2105.0 L582.6,2107.0 L583.1,2108.9 L583.6,2110.9 L584.1,2112.8 L584.5,2114.7 L585.0,2116.7 L585.5,2118.6 L586.0,2120.6 L586.5,2122.5 L587.0,2124.4 L587.5,2126.4 L588.0,2128.3 L588.5,2130.2 L589.1,2132.2 L589.6,2134.1 L590.1,2136.0 L590.6,2138.0 L591.1,2139.9 L591.7,2141.8 L592.2,2143.8 L592.7,2145.7 L593.3,2147.6 L593.8,2149.5 L594.3,2151.5 L594.9,2153.4 L595.4,2155.3 L596.0,2157.2 L596.5,2159.2 L597.1,2161.1 L597.6,2163.0 L598.2,2164.9 L598.7,2166.8 L599.3,2168.8 L599.8,2170.7 L600.4,2172.6 L600.9,2174.5 L601.5,2176.5 L602.0,2178.4 L602.6,2180.3 L603.1,2182.2 L603.7,2184.1 L604.3,2186.1 L604.8,2188.0 L605.4,2189.9 L605.9,2191.8 L606.5,2193.7 L607.0,2195.7 L607.6,2197.6 L608.2,2199.5 L608.7,2201.4 L609.3,2203.3 L609.9,2205.3 L610.5,2207.2 L611.1,2209.1 L611.7,2211.0 L612.3,2212.9 L612.9,2214.8 L613.5,2216.7 L614.1,2218.6 L614.8,2220.5 L615.4,2222.4 L616.1,2224.3 L616.7,2226.2 L617.4,2228.0 L618.1,2229.9 L618.8,2231.8 L619.5,2233.7 L620.2,2235.5 L620.9,2237.4 L621.6,2239.3 L622.4,2241.1 L623.1,2243.0 L623.9,2244.8 L624.7,2246.7 L625.4,2248.5 L626.2,2250.3 L627.0,2252.2 L627.8,2254.0 L628.7,2255.8 L629.5,2257.6 L630.4,2259.4 L631.2,2261.2 L632.1,2263.0 L633.0,2264.8 L634.0,2266.6 L634.9,2268.3 L635.9,2270.1 L636.8,2271.8 L637.9,2273.5 L638.9,2275.3 L639.9,2276.9 L641.0,2278.6 L642.1,2280.3 L643.3,2281.9 L644.5,2283.5 L645.7,2285.1 L646.9,2286.6 L648.2,2288.1 L649.6,2289.5 L651.0,2290.8 L652.4,2292.1 L653.9,2293.3 L655.5,2294.3 L657.1,2295.3 L658.8,2296.1 L660.5,2296.8 L662.3,2297.3 L664.1,2297.7 L666.0,2298.0 L667.8,2298.1 L669.7,2298.1 L671.7,2297.9 L673.6,2297.7 L675.5,2297.4 L677.4,2297.0 L679.4,2296.6 L681.3,2296.1 L683.2,2295.7 L685.1,2295.2 L687.1,2294.7 L689.0,2294.3 L691.0,2293.8 L692.9,2293.4 L694.9,2293.1 L696.8,2292.8 L698.8,2292.6 L700.7,2292.4 L702.7,2292.4 L704.7,2292.3 L706.7,2292.4 L708.6,2292.5 L710.6,2292.6 L712.6,2292.8 L714.6,2293.0 L716.5,2293.3 L718.5,2293.6 L720.5,2294.0 L722.4,2294.4 L724.4,2294.7 L726.4,2295.1 L728.3,2295.5 L730.3,2295.9 L732.2,2296.3 L734.2,2296.7 L736.2,2297.0 L738.1,2297.4 L740.1,2297.7 L742.1,2298.1 L744.0,2298.4 L746.0,2298.7 L748.0,2299.0 L750.0,2299.3 L752.0,2299.6 L753.9,2299.8 L755.9,2300.1 L757.9,2300.3 L759.9,2300.5 L761.9,2300.8 L763.9,2301.0 L765.9,2301.1 L767.8,2301.3 L769.8,2301.5 L771.8,2301.6 L773.8,2301.7 L775.8,2301.8 L777.8,2301.9 L779.8,2301.9 L781.8,2301.9 L783.8,2301.9 L785.8,2301.8 L787.8,2301.7 L789.8,2301.6 L791.8,2301.4 L793.7,2301.3 L795.7,2301.0 L797.7,2300.8 L799.7,2300.6 L801.7,2300.3 L803.7,2300.1 L805.6,2299.8 L807.6,2299.5 L809.6,2299.3 L811.6,2299.0 L813.6,2298.7 L815.5,2298.4 L817.5,2298.2 L819.5,2298.0 L821.5,2297.7 L823.5,2297.5 L825.5,2297.3 L827.5,2297.2 L829.5,2297.1 L831.4,2296.9 L833.4,2296.9 L835.4,2296.8 L837.4,2296.8 L839.4,2296.8 L841.4,2296.9 L843.4,2297.0 L845.4,2297.1 L847.4,2297.2 L849.4,2297.3 L851.4,2297.5 L853.4,2297.6 L855.4,2297.8 L857.3,2297.9 L859.3,2298.0 L861.3,2298.1 L863.3,2298.2 L865.3,2298.3 L867.3,2298.3 L869.3,2298.3 L871.3,2298.3 L873.3,2298.3 L875.3,2298.3 L877.3,2298.3 L879.3,2298.2 L881.3,2298.2 L883.3,2298.1 L885.3,2298.1 L887.3,2298.1 L889.3,2298.0 L891.3,2298.0 L893.3,2298.0 L895.3,2298.0 L897.3,2298.0 L899.3,2298.1 L901.3,2298.1 L903.3,2298.1 L905.3,2298.2 L907.3,2298.2 L909.3,2298.3 L911.3,2298.4 L913.3,2298.4 L915.3,2298.5 L917.3,2298.5 L919.3,2298.6 L921.3,2298.7 L923.3,2298.7 L925.3,2298.7 L927.3,2298.8 L929.3,2298.8 L931.3,2298.8 L933.3,2298.9 L935.3,2298.9 L937.3,2298.9 L939.3,2298.9 L941.3,2298.9 L943.3,2298.9 L945.3,2298.9 L947.3,2298.9 L949.3,2298.9 L951.3,2298.9 L953.3,2298.9 L955.3,2298.9 L957.3,2298.9 L959.3,2298.9 L961.3,2298.9 L963.3,2298.9 L965.3,2298.9 L967.3,2298.9 L969.3,2298.9 L971.3,2298.9 L973.3,2298.9 L975.3,2298.9 L977.3,2298.9 L979.3,2298.9 L981.3,2298.9 L983.3,2298.9 L985.3,2298.9 L987.3,2298.9 L989.3,2298.9 L991.3,2299.0 L993.3,2299.0 L995.3,2299.0 L997.3,2299.1 L999.3,2299.1 L1001.3,2299.2 L1003.3,2299.3 L1005.3,2299.4 L1007.3,2299.6 L1009.2,2299.7 L1011.2,2299.9 L1013.2,2300.1 L1015.2,2300.3 L1017.1,2300.6 L1019.0,2300.8 L1020.9,2301.1 L1022.7,2301.3 L1024.5,2301.6 L1026.1,2301.8 L1027.6,2302.1 L1029.0,2302.3 L1030.2,2302.5 L1035.0,2303.3" stroke="#ff00ff" stroke-width="5.3" clip-path="url(#cl)"/>
<path d="M19.2,2288.4 L24.1,2288.7 L25.2,2288.8 L26.6,2288.9 L28.2,2288.9 L29.8,2289.0 L31.6,2289.0 L33.4,2289.0 L35.3,2289.0 L37.2,2288.9 L39.2,2288.8 L41.2,2288.7 L43.1,2288.5 L45.1,2288.3 L47.1,2288.1 L49.0,2287.8 L51.0,2287.4 L52.9,2287.1 L54.9,2286.7 L56.9,2286.3 L58.8,2285.9 L60.8,2285.4 L62.7,2285.0 L64.7,2284.6 L66.6,2284.3 L68.6,2284.0 L70.5,2283.7 L72.5,2283.4 L74.5,2283.2 L76.5,2283.1 L78.5,2283.0 L80.4,2282.9 L82.4,2282.9 L84.4,2282.9 L86.4,2282.9 L88.4,2283.0 L90.4,2283.1 L92.4,2283.2 L94.4,2283.3 L96.4,2283.4 L98.4,2283.5 L100.4,2283.6 L102.4,2283.7 L104.4,2283.7 L106.4,2283.8 L108.4,2283.9 L110.4,2283.9 L112.4,2283.9 L114.4,2284.0 L116.4,2284.0 L118.4,2284.0 L120.4,2284.0 L122.4,2284.0 L124.4,2284.0 L126.4,2284.0 L128.4,2284.0 L130.4,2284.0 L132.4,2284.0 L134.4,2284.0 L136.4,2284.0 L138.4,2284.1 L140.4,2284.1 L142.4,2284.2 L144.4,2284.3 L146.4,2284.3 L148.4,2284.4 L150.4,2284.5 L152.4,2284.6 L154.4,2284.8 L156.3,2284.9 L158.3,2285.0 L160.3,2285.1 L162.3,2285.2 L164.3,2285.4 L166.3,2285.5 L168.3,2285.6 L170.3,2285.6 L172.3,2285.7 L174.3,2285.7 L176.3,2285.7 L178.3,2285.7 L180.3,2285.7 L182.3,2285.6 L184.3,2285.5 L186.3,2285.4 L188.3,2285.2 L190.2,2285.1 L192.2,2284.9 L194.2,2284.7 L196.2,2284.5 L198.2,2284.3 L200.2,2284.1 L202.2,2284.0 L204.2,2283.8 L206.2,2283.6 L208.2,2283.4 L210.2,2283.3 L212.2,2283.1 L214.1,2283.0 L216.1,2282.9 L218.1,2282.7 L220.1,2282.6 L222.1,2282.5 L224.1,2282.4 L226.1,2282.3 L228.1,2282.2 L230.1,2282.1 L232.1,2282.0 L234.1,2281.8 L236.1,2281.7 L238.1,2281.6 L240.1,2281.4 L242.1,2281.2 L244.1,2281.0 L246.0,2280.8 L248.0,2280.5 L250.0,2280.2 L251.9,2279.9 L253.9,2279.5 L255.8,2279.1 L257.8,2278.6 L259.7,2278.1 L261.6,2277.6 L263.6,2277.1 L265.5,2276.5 L267.4,2275.9 L269.3,2275.3 L271.2,2274.7 L273.1,2274.0 L274.9,2273.3 L276.8,2272.6 L278.7,2271.9 L280.5,2271.2 L282.4,2270.4 L284.2,2269.7 L286.1,2268.9 L287.9,2268.0 L289.7,2267.2 L291.5,2266.4 L293.3,2265.5 L295.1,2264.6 L296.8,2263.7 L298.6,2262.7 L300.3,2261.7 L302.0,2260.7 L303.7,2259.6 L305.3,2258.5 L307.0,2257.4 L308.5,2256.2 L310.1,2254.9 L311.6,2253.7 L313.1,2252.3 L314.5,2251.0 L315.9,2249.6 L317.3,2248.1 L318.7,2246.7 L320.0,2245.2 L321.3,2243.7 L322.6,2242.1 L323.8,2240.6 L325.0,2239.0 L326.2,2237.4 L327.4,2235.8 L328.6,2234.2 L329.7,2232.6 L330.8,2230.9 L331.9,2229.2 L333.0,2227.6 L334.1,2225.9 L335.1,2224.2 L336.2,2222.5 L337.2,2220.8 L338.2,2219.0 L339.2,2217.3 L340.2,2215.6 L341.2,2213.8 L342.2,2212.1 L343.2,2210.3 L344.2,2208.6 L345.1,2206.8 L346.1,2205.1 L347.0,2203.3 L347.9,2201.6 L348.9,2199.8 L349.8,2198.0 L350.6,2196.2 L351.5,2194.4 L352.4,2192.6 L353.2,2190.8 L354.0,2189.0 L354.8,2187.1 L355.6,2185.3 L356.4,2183.5 L357.1,2181.6 L357.9,2179.7 L358.6,2177.9 L359.3,2176.0 L360.0,2174.1 L360.6,2172.2 L361.3,2170.4 L362.0,2168.5 L362.6,2166.6 L363.2,2164.7 L363.9,2162.8 L364.5,2160.9 L365.1,2159.0 L365.8,2157.1 L366.4,2155.2 L367.0,2153.3 L367.6,2151.4 L368.2,2149.5 L368.9,2147.6 L369.5,2145.7 L370.1,2143.8 L370.7,2141.9 L371.3,2140.0 L371.9,2138.0 L372.5,2136.1 L373.1,2134.2 L373.7,2132.3 L374.2,2130.4 L374.8,2128.5 L375.4,2126.6 L376.0,2124.7 L376.6,2122.8 L377.2,2120.8 L377.7,2118.9 L378.3,2117.0 L378.9,2115.1 L379.4,2113.2 L380.0,2111.3 L380.6,2109.3 L381.1,2107.4 L381.7,2105.5 L382.3,2103.6 L382.9,2101.7 L383.4,2099.8 L384.0,2097.8 L384.6,2095.9 L385.1,2094.0 L385.7,2092.1 L386.3,2090.2 L386.8,2088.2 L387.4,2086.3 L387.9,2084.4 L388.5,2082.5 L389.1,2080.6 L389.6,2078.7 L390.2,2076.7 L390.8,2074.8 L391.3,2072.9 L391.9,2071.0 L392.5,2069.1 L393.0,2067.1 L393.6,2065.2 L394.1,2063.3 L394.7,2061.4 L395.3,2059.5 L395.8,2057.5 L396.4,2055.6 L397.0,2053.7 L397.5,2051.8 L398.1,2049.9 L398.6,2047.9 L399.2,2046.0 L399.8,2044.1 L400.3,2042.2 L400.9,2040.3 L401.4,2038.3 L402.0,2036.4 L402.6,2034.5 L403.1,2032.6 L403.7,2030.7 L404.3,2028.7 L404.8,2026.8 L405.4,2024.9 L406.0,2023.0 L406.5,2021.1 L407.1,2019.2 L407.7,2017.3 L408.3,2015.3 L408.9,2013.4 L409.4,2011.5 L410.0,2009.6 L410.6,2007.7 L411.2,2005.8 L411.8,2003.9 L412.4,2002.0 L413.0,2000.1 L413.6,1998.1 L414.2,1996.2 L414.8,1994.3 L415.4,1992.4 L416.1,1990.5 L416.7,1988.6 L417.3,1986.7 L417.9,1984.8 L418.6,1982.9 L419.2,1981.0 L419.8,1979.1 L420.5,1977.2 L421.1,1975.4 L421.8,1973.5 L422.4,1971.6 L423.1,1969.7 L423.8,1967.8 L424.4,1965.9 L425.1,1964.0 L425.8,1962.2 L426.5,1960.3 L427.2,1958.4 L427.9,1956.5 L428.6,1954.7 L429.4,1952.8 L430.1,1950.9 L430.8,1949.1 L431.5,1947.2 L432.3,1945.4 L433.0,1943.5 L433.8,1941.7 L434.5,1939.8 L435.3,1938.0 L436.0,1936.1 L436.8,1934.3 L437.6,1932.4 L438.3,1930.6 L439.1,1928.7 L439.8,1926.8 L440.6,1925.0 L441.3,1923.1 L442.1,1921.3 L442.9,1919.4 L443.6,1917.6 L444.4,1915.7 L445.1,1913.9 L445.9,1912.0 L446.6,1910.2 L447.4,1908.3 L448.2,1906.5 L448.9,1904.6 L449.7,1902.8 L450.4,1900.9 L451.2,1899.1 L451.9,1897.2 L452.7,1895.4 L453.5,1893.5 L454.2,1891.7 L454.9,1889.8 L455.7,1888.0 L456.4,1886.1 L457.1,1884.2 L457.9,1882.4 L458.6,1880.5 L459.3,1878.6 L460.0,1876.8 L460.7,1874.9 L461.4,1873.0 L462.1,1871.1 L462.7,1869.2 L463.4,1867.4 L464.1,1865.5 L464.8,1863.6 L465.5,1861.7 L466.1,1859.8 L466.8,1858.0 L467.5,1856.1 L468.2,1854.2 L468.9,1852.3 L469.6,1850.5 L470.3,1848.6 L471.1,1846.7 L471.8,1844.9 L472.5,1843.0 L473.2,1841.1 L474.0,1839.3 L474.7,1837.4 L475.4,1835.6 L476.1,1833.7 L476.9,1831.8 L477.6,1830.0 L478.3,1828.1 L479.0,1826.2 L479.7,1824.3 L480.3,1822.5 L481.0,1820.6 L481.7,1818.7 L482.3,1816.8 L483.0,1814.9 L483.6,1813.0 L484.2,1811.1 L484.8,1809.2 L485.4,1807.3 L486.0,1805.4 L486.6,1803.5 L487.1,1801.5 L487.7,1799.6 L488.3,1797.7 L488.9,1795.8 L489.4,1793.9 L490.0,1792.0 L490.6,1790.0 L491.1,1788.1 L491.7,1786.2 L492.3,1784.3 L492.9,1782.4 L493.5,1780.5 L494.1,1778.6 L494.6,1776.7 L495.2,1774.7 L495.9,1772.8 L496.5,1770.9 L497.1,1769.0 L497.7,1767.1 L498.4,1765.3 L499.0,1763.4 L499.7,1761.5 L500.4,1759.6 L501.2,1757.8 L501.9,1755.9 L502.6,1754.0 L503.4,1752.2 L504.2,1750.3 L504.9,1748.5 L505.7,1746.6 L506.5,1744.8 L507.3,1743.0 L508.1,1741.1 L508.9,1739.3 L509.7,1737.5 L510.5,1735.7 L511.4,1733.9 L512.3,1732.1 L513.2,1730.3 L514.2,1728.6 L515.2,1726.8 L516.2,1725.1 L517.3,1723.4 L518.3,1721.7 L519.5,1720.1 L520.7,1718.5 L522.1,1717.1 L523.5,1715.7 L525.0,1714.4 L526.6,1713.2 L528.3,1712.2 L530.1,1711.5 L532.0,1711.1 L534.0,1711.2 L535.8,1711.7 L537.6,1712.5 L539.2,1713.7 L540.7,1715.0 L542.0,1716.5 L543.1,1718.1 L544.2,1719.8 L545.2,1721.5 L546.0,1723.3 L546.9,1725.2 L547.6,1727.0 L548.4,1728.9 L549.1,1730.7 L549.7,1732.6 L550.4,1734.5 L551.0,1736.4 L551.6,1738.3 L552.2,1740.2 L552.8,1742.1 L553.4,1744.0 L554.0,1745.9 L554.6,1747.9 L555.1,1749.8 L555.7,1751.7 L556.2,1753.6 L556.8,1755.6 L557.3,1757.5 L557.8,1759.4 L558.3,1761.4 L558.8,1763.3 L559.3,1765.2 L559.7,1767.2 L560.2,1769.1 L560.6,1771.1 L561.0,1773.0 L561.4,1775.0 L561.8,1777.0 L562.2,1778.9 L562.6,1780.9 L562.9,1782.9 L563.2,1784.8 L563.6,1786.8 L563.9,1788.8 L564.2,1790.7 L564.5,1792.7 L564.8,1794.7 L565.1,1796.7 L565.4,1798.7 L565.7,1800.6 L566.0,1802.6 L566.3,1804.6 L566.6,1806.6 L566.9,1808.5 L567.1,1810.5 L567.4,1812.5 L567.7,1814.5 L568.0,1816.5 L568.3,1818.4 L568.6,1820.4 L568.9,1822.4 L569.1,1824.4 L569.4,1826.4 L569.7,1828.3 L570.0,1830.3 L570.3,1832.3 L570.6,1834.3 L570.9,1836.3 L571.2,1838.2 L571.4,1840.2 L571.7,1842.2 L572.0,1844.2 L572.3,1846.2 L572.6,1848.1 L572.9,1850.1 L573.2,1852.1 L573.5,1854.1 L573.8,1856.0 L574.1,1858.0 L574.5,1860.0 L574.8,1862.0 L575.1,1863.9 L575.4,1865.9 L575.7,1867.9 L576.0,1869.9 L576.3,1871.9 L576.6,1873.8 L576.9,1875.8 L577.2,1877.8 L577.5,1879.8 L577.8,1881.7 L578.1,1883.7 L578.4,1885.7 L578.7,1887.7 L579.1,1889.6 L579.4,1891.6 L579.7,1893.6 L580.0,1895.6 L580.3,1897.5 L580.6,1899.5 L580.9,1901.5 L581.2,1903.5 L581.5,1905.4 L581.8,1907.4 L582.1,1909.4 L582.4,1911.4 L582.8,1913.3 L583.1,1915.3 L583.4,1917.3 L583.7,1919.3 L584.0,1921.3 L584.3,1923.2 L584.6,1925.2 L584.9,1927.2 L585.2,1929.2 L585.5,1931.1 L585.8,1933.1 L586.2,1935.1 L586.5,1937.1 L586.8,1939.0 L587.1,1941.0 L587.4,1943.0 L587.7,1945.0 L588.0,1946.9 L588.3,1948.9 L588.6,1950.9 L589.0,1952.9 L589.3,1954.8 L589.6,1956.8 L589.9,1958.8 L590.2,1960.8 L590.5,1962.7 L590.8,1964.7 L591.1,1966.7 L591.5,1968.7 L591.8,1970.6 L592.1,1972.6 L592.4,1974.6 L592.7,1976.6 L593.0,1978.5 L593.3,1980.5 L593.7,1982.5 L594.0,1984.5 L594.3,1986.4 L594.6,1988.4 L594.9,1990.4 L595.2,1992.4 L595.6,1994.3 L595.9,1996.3 L596.2,1998.3 L596.5,2000.3 L596.8,2002.2 L597.1,2004.2 L597.5,2006.2 L597.8,2008.2 L598.1,2010.1 L598.4,2012.1 L598.7,2014.1 L599.1,2016.1 L599.4,2018.0 L599.7,2020.0 L600.0,2022.0 L600.3,2024.0 L600.7,2025.9 L601.0,2027.9 L601.3,2029.9 L601.6,2031.9 L602.0,2033.8 L602.3,2035.8 L602.6,2037.8 L602.9,2039.8 L603.2,2041.7 L603.6,2043.7 L603.9,2045.7 L604.2,2047.6 L604.5,2049.6 L604.9,2051.6 L605.2,2053.6 L605.5,2055.5 L605.9,2057.5 L606.2,2059.5 L606.5,2061.5 L606.9,2063.4 L607.2,2065.4 L607.5,2067.4 L607.9,2069.3 L608.2,2071.3 L608.6,2073.3 L608.9,2075.2 L609.3,2077.2 L609.6,2079.2 L610.0,2081.2 L610.3,2083.1 L610.7,2085.1 L611.0,2087.1 L611.4,2089.0 L611.7,2091.0 L612.1,2093.0 L612.5,2094.9 L612.8,2096.9 L613.2,2098.9 L613.6,2100.8 L614.0,2102.8 L614.3,2104.8 L614.7,2106.7 L615.1,2108.7 L615.5,2110.6 L615.9,2112.6 L616.3,2114.6 L616.7,2116.5 L617.1,2118.5 L617.5,2120.4 L617.9,2122.4 L618.3,2124.4 L618.7,2126.3 L619.1,2128.3 L619.5,2130.2 L619.9,2132.2 L620.4,2134.1 L620.8,2136.1 L621.2,2138.0 L621.7,2140.0 L622.1,2141.9 L622.5,2143.9 L623.0,2145.8 L623.4,2147.8 L623.9,2149.7 L624.4,2151.7 L624.8,2153.6 L625.3,2155.6 L625.8,2157.5 L626.3,2159.5 L626.7,2161.4 L627.2,2163.3 L627.7,2165.3 L628.2,2167.2 L628.7,2169.1 L629.3,2171.1 L629.8,2173.0 L630.3,2174.9 L630.9,2176.9 L631.4,2178.8 L631.9,2180.7 L632.5,2182.6 L633.1,2184.6 L633.6,2186.5 L634.2,2188.4 L634.8,2190.3 L635.4,2192.2 L635.9,2194.1 L636.5,2196.0 L637.1,2197.9 L637.8,2199.8 L638.4,2201.7 L639.0,2203.6 L639.6,2205.5 L640.3,2207.4 L640.9,2209.3 L641.6,2211.2 L642.3,2213.1 L642.9,2215.0 L643.6,2216.8 L644.3,2218.7 L645.1,2220.6 L645.8,2222.4 L646.5,2224.3 L647.3,2226.1 L648.1,2228.0 L648.9,2229.8 L649.7,2231.6 L650.5,2233.5 L651.4,2235.3 L652.3,2237.1 L653.2,2238.8 L654.1,2240.6 L655.0,2242.4 L656.0,2244.1 L657.0,2245.9 L658.0,2247.6 L659.0,2249.3 L660.0,2251.0 L661.1,2252.7 L662.2,2254.4 L663.3,2256.0 L664.4,2257.7 L665.6,2259.3 L666.8,2260.9 L668.0,2262.5 L669.2,2264.0 L670.5,2265.5 L671.8,2267.0 L673.2,2268.5 L674.6,2269.9 L676.0,2271.3 L677.5,2272.6 L679.0,2273.8 L680.5,2275.0 L682.1,2276.1 L683.8,2277.1 L685.5,2278.0 L687.3,2278.9 L689.0,2279.6 L690.9,2280.3 L692.7,2280.9 L694.6,2281.3 L696.5,2281.7 L698.5,2282.0 L700.4,2282.2 L702.4,2282.4 L704.3,2282.5 L706.3,2282.5 L708.3,2282.4 L710.3,2282.3 L712.3,2282.1 L714.2,2281.9 L716.2,2281.6 L718.2,2281.3 L720.1,2281.0 L722.1,2280.6 L724.0,2280.2 L726.0,2279.8 L727.9,2279.3 L729.9,2278.8 L731.8,2278.3 L733.7,2277.8 L735.6,2277.2 L737.6,2276.7 L739.5,2276.1 L741.4,2275.6 L743.3,2275.0 L745.2,2274.5 L747.2,2274.0 L749.1,2273.6 L751.1,2273.1 L753.0,2272.8 L755.0,2272.4 L756.9,2272.2 L758.9,2271.9 L760.8,2271.8 L762.8,2271.7 L764.8,2271.7 L766.8,2271.8 L768.7,2271.9 L770.7,2272.1 L772.6,2272.3 L774.6,2272.7 L776.5,2273.1 L778.5,2273.5 L780.4,2273.9 L782.3,2274.4 L784.3,2275.0 L786.2,2275.5 L788.1,2276.1 L790.0,2276.6 L791.9,2277.2 L793.8,2277.8 L795.8,2278.4 L797.7,2279.0 L799.6,2279.6 L801.5,2280.2 L803.4,2280.8 L805.3,2281.4 L807.2,2282.0 L809.1,2282.6 L811.0,2283.2 L812.9,2283.8 L814.8,2284.4 L816.7,2285.0 L818.6,2285.6 L820.5,2286.2 L822.4,2286.8 L824.3,2287.5 L826.2,2288.1 L828.1,2288.7 L830.0,2289.4 L831.9,2290.0 L833.8,2290.6 L835.7,2291.3 L837.6,2291.9 L839.5,2292.5 L841.4,2293.1 L843.3,2293.7 L845.3,2294.2 L847.2,2294.8 L849.1,2295.3 L851.0,2295.8 L853.0,2296.3 L854.9,2296.8 L856.8,2297.2 L858.8,2297.7 L860.7,2298.1 L862.7,2298.5 L864.6,2299.0 L866.6,2299.4 L868.5,2299.8 L870.5,2300.2 L872.5,2300.5 L874.4,2300.9 L876.4,2301.2 L878.4,2301.5 L880.3,2301.7 L882.3,2302.0 L884.3,2302.2 L886.3,2302.4 L888.3,2302.6 L890.3,2302.7 L892.3,2302.9 L894.3,2303.1 L896.3,2303.2 L898.3,2303.3 L900.3,2303.5 L902.2,2303.6 L904.2,2303.7 L906.2,2303.9 L908.2,2304.0 L910.2,2304.1 L912.2,2304.3 L914.2,2304.4 L916.2,2304.6 L918.2,2304.8 L920.2,2304.9 L922.2,2305.1 L924.2,2305.3 L926.2,2305.5 L928.2,2305.7 L930.1,2305.9 L932.1,2306.1 L934.1,2306.3 L936.1,2306.5 L938.1,2306.7 L940.1,2306.8 L942.1,2307.0 L944.1,2307.2 L946.1,2307.3 L948.1,2307.5 L950.1,2307.6 L952.1,2307.8 L954.1,2307.9 L956.1,2308.1 L958.1,2308.2 L960.0,2308.3 L962.0,2308.4 L964.0,2308.5 L966.0,2308.6 L968.0,2308.7 L970.0,2308.8 L972.0,2308.8 L974.0,2308.9 L976.0,2309.0 L978.0,2309.0 L980.0,2309.1 L982.0,2309.2 L984.0,2309.2 L986.0,2309.3 L988.0,2309.3 L990.0,2309.3 L992.0,2309.4 L994.0,2309.4 L996.0,2309.4 L998.0,2309.5 L1000.0,2309.5 L1002.0,2309.5 L1004.0,2309.6 L1006.0,2309.6 L1008.0,2309.6 L1010.0,2309.6 L1012.0,2309.6 L1014.0,2309.7 L1015.9,2309.7 L1017.9,2309.7 L1019.8,2309.7 L1021.6,2309.7 L1023.4,2309.7 L1025.0,2309.7 L1026.6,2309.7 L1028.0,2309.8 L1029.1,2309.8 L1034.0,2309.8" stroke="#000000" stroke-width="5.0" clip-path="url(#cl)"/>
<path d="M16.9,2280.1 L21.8,2280.4 L23.0,2280.4 L24.3,2280.5 L25.9,2280.6 L27.6,2280.6 L29.3,2280.7 L31.2,2280.7 L33.0,2280.8 L35.0,2280.8 L36.9,2280.8 L38.9,2280.8 L40.9,2280.8 L42.9,2280.7 L44.9,2280.7 L46.9,2280.6 L48.9,2280.5 L50.9,2280.4 L52.9,2280.2 L54.8,2280.1 L56.8,2279.9 L58.8,2279.7 L60.8,2279.5 L62.8,2279.3 L64.8,2279.2 L66.8,2279.0 L68.8,2278.8 L70.8,2278.6 L72.8,2278.4 L74.8,2278.3 L76.7,2278.1 L78.7,2278.0 L80.7,2277.9 L82.7,2277.8 L84.7,2277.6 L86.7,2277.5 L88.7,2277.5 L90.7,2277.4 L92.7,2277.3 L94.7,2277.2 L96.7,2277.2 L98.7,2277.1 L100.7,2277.1 L102.7,2277.1 L104.7,2277.1 L106.7,2277.1 L108.7,2277.1 L110.7,2277.1 L112.7,2277.2 L114.7,2277.2 L116.7,2277.3 L118.7,2277.4 L120.7,2277.5 L122.7,2277.6 L124.7,2277.8 L126.7,2277.9 L128.7,2278.1 L130.6,2278.3 L132.6,2278.6 L134.6,2278.8 L136.6,2279.1 L138.6,2279.4 L140.5,2279.7 L142.5,2280.1 L144.5,2280.4 L146.4,2280.8 L148.4,2281.2 L150.3,2281.7 L152.3,2282.1 L154.2,2282.6 L156.1,2283.1 L158.1,2283.6 L160.0,2284.1 L161.9,2284.7 L163.9,2285.2 L165.8,2285.8 L167.7,2286.3 L169.6,2286.9 L171.5,2287.5 L173.5,2288.0 L175.4,2288.6 L177.3,2289.2 L179.2,2289.8 L181.1,2290.4 L183.0,2291.0 L184.9,2291.6 L186.8,2292.1 L188.7,2292.7 L190.7,2293.3 L192.6,2293.9 L194.5,2294.5 L196.4,2295.1 L198.3,2295.7 L200.2,2296.3 L202.1,2296.9 L204.0,2297.5 L205.9,2298.1 L207.8,2298.7 L209.8,2299.2 L211.7,2299.8 L213.6,2300.4 L215.5,2300.9 L217.4,2301.5 L219.4,2302.0 L221.3,2302.5 L223.2,2302.9 L225.2,2303.4 L227.1,2303.8 L229.1,2304.2 L231.1,2304.5 L233.0,2304.8 L235.0,2305.0 L237.0,2305.2 L238.9,2305.4 L240.9,2305.5 L242.9,2305.5 L244.9,2305.5 L246.9,2305.4 L248.8,2305.3 L250.8,2305.0 L252.7,2304.8 L254.7,2304.4 L256.6,2304.0 L258.5,2303.5 L260.4,2302.9 L262.3,2302.3 L264.1,2301.6 L266.0,2300.9 L267.8,2300.1 L269.6,2299.2 L271.3,2298.3 L273.1,2297.3 L274.8,2296.3 L276.4,2295.3 L278.1,2294.2 L279.7,2293.0 L281.3,2291.8 L282.8,2290.6 L284.3,2289.3 L285.8,2288.0 L287.3,2286.6 L288.7,2285.2 L290.1,2283.8 L291.4,2282.3 L292.7,2280.8 L294.0,2279.3 L295.2,2277.7 L296.4,2276.1 L297.5,2274.5 L298.7,2272.9 L299.8,2271.2 L300.8,2269.5 L301.9,2267.8 L302.9,2266.1 L303.9,2264.4 L304.9,2262.6 L305.8,2260.9 L306.7,2259.1 L307.7,2257.3 L308.5,2255.5 L309.4,2253.7 L310.3,2251.9 L311.1,2250.1 L312.0,2248.3 L312.8,2246.5 L313.6,2244.7 L314.4,2242.8 L315.2,2241.0 L315.9,2239.1 L316.7,2237.3 L317.5,2235.5 L318.2,2233.6 L319.0,2231.7 L319.7,2229.9 L320.5,2228.0 L321.2,2226.2 L322.0,2224.3 L322.7,2222.5 L323.4,2220.6 L324.2,2218.8 L324.9,2216.9 L325.7,2215.0 L326.4,2213.2 L327.2,2211.3 L327.9,2209.5 L328.6,2207.6 L329.4,2205.8 L330.1,2203.9 L330.9,2202.0 L331.6,2200.2 L332.4,2198.3 L333.1,2196.5 L333.9,2194.6 L334.6,2192.8 L335.4,2190.9 L336.1,2189.1 L336.9,2187.2 L337.6,2185.3 L338.3,2183.5 L339.1,2181.6 L339.8,2179.8 L340.5,2177.9 L341.2,2176.0 L341.9,2174.1 L342.5,2172.3 L343.2,2170.4 L343.8,2168.5 L344.4,2166.6 L345.0,2164.7 L345.6,2162.8 L346.2,2160.8 L346.7,2158.9 L347.3,2157.0 L347.8,2155.1 L348.3,2153.1 L348.8,2151.2 L349.3,2149.2 L349.7,2147.3 L350.2,2145.4 L350.6,2143.4 L351.1,2141.5 L351.5,2139.5 L351.9,2137.5 L352.3,2135.6 L352.7,2133.6 L353.2,2131.7 L353.6,2129.7 L354.0,2127.8 L354.3,2125.8 L354.7,2123.8 L355.1,2121.9 L355.5,2119.9 L355.9,2117.9 L356.3,2116.0 L356.6,2114.0 L357.0,2112.0 L357.4,2110.1 L357.7,2108.1 L358.1,2106.2 L358.5,2104.2 L358.8,2102.2 L359.2,2100.2 L359.5,2098.3 L359.9,2096.3 L360.3,2094.3 L360.6,2092.4 L361.0,2090.4 L361.3,2088.4 L361.7,2086.5 L362.0,2084.5 L362.4,2082.5 L362.7,2080.6 L363.1,2078.6 L363.4,2076.6 L363.8,2074.7 L364.1,2072.7 L364.4,2070.7 L364.8,2068.7 L365.1,2066.8 L365.5,2064.8 L365.8,2062.8 L366.2,2060.9 L366.5,2058.9 L366.9,2056.9 L367.2,2055.0 L367.6,2053.0 L367.9,2051.0 L368.3,2049.0 L368.6,2047.1 L369.0,2045.1 L369.3,2043.1 L369.7,2041.2 L370.0,2039.2 L370.4,2037.2 L370.7,2035.3 L371.1,2033.3 L371.4,2031.3 L371.8,2029.4 L372.1,2027.4 L372.5,2025.4 L372.8,2023.5 L373.2,2021.5 L373.5,2019.5 L373.9,2017.5 L374.2,2015.6 L374.6,2013.6 L374.9,2011.6 L375.3,2009.7 L375.6,2007.7 L376.0,2005.7 L376.3,2003.8 L376.7,2001.8 L377.0,1999.8 L377.4,1997.9 L377.7,1995.9 L378.1,1993.9 L378.4,1991.9 L378.8,1990.0 L379.1,1988.0 L379.5,1986.0 L379.8,1984.1 L380.2,1982.1 L380.5,1980.1 L380.9,1978.2 L381.2,1976.2 L381.6,1974.2 L381.9,1972.3 L382.3,1970.3 L382.6,1968.3 L383.0,1966.3 L383.3,1964.4 L383.7,1962.4 L384.0,1960.4 L384.4,1958.5 L384.7,1956.5 L385.1,1954.5 L385.4,1952.6 L385.8,1950.6 L386.1,1948.6 L386.5,1946.7 L386.8,1944.7 L387.2,1942.7 L387.5,1940.8 L387.9,1938.8 L388.2,1936.8 L388.6,1934.8 L388.9,1932.9 L389.3,1930.9 L389.6,1928.9 L390.0,1927.0 L390.3,1925.0 L390.7,1923.0 L391.0,1921.1 L391.4,1919.1 L391.7,1917.1 L392.1,1915.2 L392.4,1913.2 L392.8,1911.2 L393.1,1909.2 L393.5,1907.3 L393.8,1905.3 L394.2,1903.3 L394.5,1901.4 L394.9,1899.4 L395.2,1897.4 L395.6,1895.5 L395.9,1893.5 L396.3,1891.5 L396.6,1889.5 L397.0,1887.6 L397.3,1885.6 L397.7,1883.6 L398.0,1881.7 L398.4,1879.7 L398.7,1877.7 L399.1,1875.8 L399.4,1873.8 L399.7,1871.8 L400.1,1869.9 L400.4,1867.9 L400.8,1865.9 L401.1,1863.9 L401.5,1862.0 L401.8,1860.0 L402.2,1858.0 L402.5,1856.1 L402.8,1854.1 L403.2,1852.1 L403.5,1850.1 L403.8,1848.2 L404.1,1846.2 L404.4,1844.2 L404.7,1842.2 L405.0,1840.3 L405.3,1838.3 L405.5,1836.3 L405.8,1834.3 L406.1,1832.3 L406.3,1830.3 L406.6,1828.4 L406.8,1826.4 L407.1,1824.4 L407.3,1822.4 L407.5,1820.4 L407.8,1818.4 L408.0,1816.5 L408.3,1814.5 L408.5,1812.5 L408.8,1810.5 L409.1,1808.5 L409.3,1806.5 L409.6,1804.6 L409.9,1802.6 L410.2,1800.6 L410.5,1798.6 L410.8,1796.7 L411.1,1794.7 L411.5,1792.7 L411.8,1790.8 L412.2,1788.8 L412.6,1786.8 L413.0,1784.9 L413.5,1782.9 L413.9,1781.0 L414.4,1779.0 L414.9,1777.1 L415.3,1775.2 L415.8,1773.2 L416.3,1771.3 L416.8,1769.3 L417.4,1767.4 L417.9,1765.5 L418.4,1763.5 L418.9,1761.6 L419.5,1759.7 L420.0,1757.8 L420.5,1755.8 L421.1,1753.9 L421.6,1752.0 L422.2,1750.1 L422.7,1748.1 L423.3,1746.2 L423.9,1744.3 L424.5,1742.4 L425.1,1740.5 L425.8,1738.6 L426.5,1736.8 L427.2,1734.9 L427.9,1733.0 L428.6,1731.2 L429.4,1729.3 L430.2,1727.5 L431.0,1725.6 L431.8,1723.8 L432.6,1722.0 L433.5,1720.2 L434.5,1718.4 L435.4,1716.7 L436.5,1715.0 L437.6,1713.4 L438.8,1711.8 L440.2,1710.3 L441.6,1709.0 L443.3,1707.9 L445.0,1707.1 L446.9,1706.6 L448.9,1706.5 L450.8,1706.7 L452.7,1707.2 L454.5,1708.1 L456.1,1709.2 L457.5,1710.6 L458.8,1712.1 L459.9,1713.7 L461.0,1715.4 L461.9,1717.2 L462.9,1718.9 L463.7,1720.7 L464.5,1722.6 L465.3,1724.4 L466.1,1726.3 L466.8,1728.1 L467.5,1730.0 L468.1,1731.9 L468.8,1733.8 L469.5,1735.6 L470.2,1737.5 L470.8,1739.4 L471.5,1741.3 L472.1,1743.2 L472.8,1745.1 L473.4,1747.0 L474.1,1748.9 L474.7,1750.8 L475.4,1752.7 L476.0,1754.6 L476.6,1756.5 L477.3,1758.4 L477.9,1760.3 L478.5,1762.2 L479.1,1764.1 L479.8,1766.0 L480.4,1767.9 L481.0,1769.8 L481.6,1771.7 L482.2,1773.6 L482.8,1775.5 L483.3,1777.4 L483.9,1779.3 L484.5,1781.2 L485.0,1783.2 L485.6,1785.1 L486.1,1787.0 L486.6,1788.9 L487.2,1790.9 L487.7,1792.8 L488.2,1794.7 L488.7,1796.7 L489.2,1798.6 L489.7,1800.6 L490.2,1802.5 L490.6,1804.4 L491.1,1806.4 L491.6,1808.3 L492.1,1810.3 L492.6,1812.2 L493.0,1814.1 L493.5,1816.1 L494.0,1818.0 L494.4,1820.0 L494.9,1821.9 L495.4,1823.9 L495.8,1825.8 L496.3,1827.8 L496.7,1829.7 L497.2,1831.7 L497.6,1833.6 L498.1,1835.6 L498.5,1837.5 L499.0,1839.4 L499.4,1841.4 L499.9,1843.3 L500.3,1845.3 L500.8,1847.2 L501.2,1849.2 L501.7,1851.1 L502.1,1853.1 L502.5,1855.0 L503.0,1857.0 L503.4,1859.0 L503.9,1860.9 L504.3,1862.9 L504.7,1864.8 L505.2,1866.8 L505.6,1868.7 L506.1,1870.7 L506.5,1872.6 L506.9,1874.6 L507.4,1876.5 L507.8,1878.5 L508.2,1880.4 L508.7,1882.4 L509.1,1884.3 L509.6,1886.3 L510.0,1888.2 L510.4,1890.2 L510.9,1892.1 L511.3,1894.1 L511.8,1896.0 L512.2,1898.0 L512.6,1899.9 L513.1,1901.9 L513.5,1903.8 L513.9,1905.8 L514.4,1907.7 L514.8,1909.7 L515.3,1911.6 L515.7,1913.6 L516.1,1915.5 L516.6,1917.5 L517.0,1919.4 L517.4,1921.4 L517.9,1923.3 L518.3,1925.3 L518.8,1927.2 L519.2,1929.2 L519.6,1931.2 L520.1,1933.1 L520.5,1935.1 L521.0,1937.0 L521.4,1939.0 L521.8,1940.9 L522.3,1942.9 L522.7,1944.8 L523.2,1946.8 L523.6,1948.7 L524.1,1950.7 L524.5,1952.6 L524.9,1954.6 L525.4,1956.5 L525.8,1958.5 L526.3,1960.4 L526.7,1962.4 L527.2,1964.3 L527.6,1966.3 L528.1,1968.2 L528.5,1970.2 L528.9,1972.1 L529.4,1974.1 L529.8,1976.0 L530.3,1978.0 L530.7,1979.9 L531.2,1981.9 L531.6,1983.8 L532.1,1985.8 L532.5,1987.7 L533.0,1989.7 L533.4,1991.6 L533.9,1993.6 L534.3,1995.5 L534.8,1997.5 L535.2,1999.4 L535.7,2001.3 L536.1,2003.3 L536.6,2005.2 L537.0,2007.2 L537.5,2009.1 L537.9,2011.1 L538.3,2013.0 L538.8,2015.0 L539.2,2016.9 L539.7,2018.9 L540.1,2020.8 L540.6,2022.8 L541.1,2024.7 L541.5,2026.7 L542.0,2028.6 L542.4,2030.6 L542.9,2032.5 L543.3,2034.5 L543.8,2036.4 L544.2,2038.4 L544.7,2040.3 L545.1,2042.3 L545.6,2044.2 L546.0,2046.2 L546.5,2048.1 L546.9,2050.1 L547.4,2052.0 L547.8,2054.0 L548.3,2055.9 L548.7,2057.9 L549.2,2059.8 L549.6,2061.8 L550.1,2063.7 L550.5,2065.6 L551.0,2067.6 L551.5,2069.5 L551.9,2071.5 L552.4,2073.4 L552.8,2075.4 L553.3,2077.3 L553.8,2079.3 L554.2,2081.2 L554.7,2083.2 L555.1,2085.1 L555.6,2087.1 L556.1,2089.0 L556.6,2090.9 L557.0,2092.9 L557.5,2094.8 L558.0,2096.8 L558.4,2098.7 L558.9,2100.7 L559.4,2102.6 L559.9,2104.5 L560.4,2106.5 L560.8,2108.4 L561.3,2110.4 L561.8,2112.3 L562.3,2114.2 L562.8,2116.2 L563.3,2118.1 L563.8,2120.1 L564.3,2122.0 L564.8,2123.9 L565.3,2125.9 L565.8,2127.8 L566.3,2129.7 L566.8,2131.7 L567.4,2133.6 L567.9,2135.5 L568.4,2137.5 L568.9,2139.4 L569.5,2141.3 L570.0,2143.2 L570.6,2145.2 L571.1,2147.1 L571.7,2149.0 L572.2,2150.9 L572.8,2152.8 L573.4,2154.7 L574.0,2156.7 L574.6,2158.6 L575.2,2160.5 L575.8,2162.4 L576.4,2164.3 L577.0,2166.2 L577.6,2168.1 L578.2,2170.0 L578.8,2171.9 L579.4,2173.8 L580.0,2175.7 L580.6,2177.6 L581.3,2179.5 L581.9,2181.4 L582.5,2183.3 L583.1,2185.2 L583.7,2187.2 L584.3,2189.1 L584.9,2191.0 L585.4,2192.9 L586.0,2194.8 L586.6,2196.7 L587.2,2198.6 L587.8,2200.5 L588.4,2202.4 L589.0,2204.4 L589.6,2206.3 L590.2,2208.2 L590.8,2210.1 L591.4,2212.0 L592.0,2213.9 L592.7,2215.8 L593.3,2217.7 L594.0,2219.5 L594.7,2221.4 L595.4,2223.3 L596.1,2225.2 L596.8,2227.0 L597.5,2228.9 L598.2,2230.8 L599.0,2232.6 L599.8,2234.5 L600.5,2236.3 L601.3,2238.1 L602.2,2239.9 L603.0,2241.8 L603.8,2243.6 L604.7,2245.4 L605.5,2247.2 L606.4,2249.0 L607.3,2250.8 L608.2,2252.6 L609.1,2254.4 L610.0,2256.1 L610.9,2257.9 L611.8,2259.7 L612.8,2261.5 L613.7,2263.2 L614.6,2265.0 L615.6,2266.8 L616.5,2268.5 L617.5,2270.3 L618.5,2272.0 L619.4,2273.8 L620.4,2275.5 L621.4,2277.3 L622.4,2279.0 L623.4,2280.7 L624.4,2282.4 L625.4,2284.1 L626.5,2285.9 L627.6,2287.5 L628.6,2289.2 L629.7,2290.9 L630.9,2292.5 L632.0,2294.1 L633.2,2295.7 L634.4,2297.3 L635.7,2298.8 L637.0,2300.3 L638.3,2301.8 L639.7,2303.1 L641.2,2304.4 L642.6,2305.7 L644.2,2306.8 L645.8,2307.8 L647.4,2308.7 L649.1,2309.5 L650.9,2310.1 L652.7,2310.6 L654.5,2310.9 L656.3,2311.1 L658.2,2311.1 L660.0,2311.0 L661.9,2310.7 L663.7,2310.3 L665.5,2309.7 L667.3,2309.1 L669.1,2308.3 L670.9,2307.5 L672.7,2306.7 L674.5,2305.8 L676.2,2304.9 L678.0,2303.9 L679.7,2303.0 L681.5,2302.1 L683.3,2301.2 L685.1,2300.4 L686.9,2299.6 L688.7,2298.9 L690.6,2298.2 L692.4,2297.6 L694.3,2297.0 L696.2,2296.6 L698.1,2296.3 L700.1,2296.0 L702.0,2295.9 L703.9,2295.9 L705.9,2295.9 L707.8,2296.1 L709.8,2296.3 L711.7,2296.7 L713.6,2297.1 L715.5,2297.5 L717.4,2298.0 L719.4,2298.6 L721.3,2299.2 L723.2,2299.7 L725.1,2300.3 L727.0,2300.9 L728.9,2301.5 L730.8,2302.1 L732.7,2302.7 L734.6,2303.2 L736.6,2303.8 L738.5,2304.3 L740.4,2304.8 L742.4,2305.2 L744.3,2305.7 L746.3,2306.1 L748.2,2306.5 L750.2,2306.9 L752.2,2307.2 L754.1,2307.6 L756.1,2307.9 L758.1,2308.2 L760.0,2308.4 L762.0,2308.7 L764.0,2308.9 L766.0,2309.1 L768.0,2309.3 L770.0,2309.5 L772.0,2309.6 L774.0,2309.7 L775.9,2309.8 L777.9,2309.8 L779.9,2309.8 L781.9,2309.8 L783.9,2309.7 L785.9,2309.5 L787.8,2309.3 L789.8,2309.0 L791.8,2308.8 L793.8,2308.4 L795.7,2308.1 L797.7,2307.7 L799.6,2307.3 L801.6,2306.8 L803.5,2306.4 L805.5,2305.9 L807.4,2305.4 L809.3,2305.0 L811.3,2304.5 L813.2,2304.0 L815.2,2303.5 L817.1,2303.1 L819.1,2302.6 L821.0,2302.2 L823.0,2301.7 L824.9,2301.3 L826.9,2300.9 L828.8,2300.5 L830.8,2300.2 L832.8,2299.9 L834.7,2299.6 L836.7,2299.4 L838.7,2299.2 L840.7,2299.0 L842.7,2298.9 L844.6,2298.8 L846.6,2298.8 L848.6,2298.7 L850.6,2298.7 L852.6,2298.7 L854.6,2298.7 L856.6,2298.7 L858.6,2298.7 L860.6,2298.7 L862.6,2298.7 L864.6,2298.7 L866.6,2298.7 L868.6,2298.6 L870.6,2298.6 L872.6,2298.5 L874.6,2298.5 L876.6,2298.4 L878.6,2298.4 L880.6,2298.3 L882.6,2298.2 L884.6,2298.2 L886.6,2298.1 L888.6,2298.1 L890.6,2298.1 L892.6,2298.1 L894.6,2298.0 L896.6,2298.0 L898.6,2298.0 L900.6,2298.1 L902.6,2298.1 L904.6,2298.1 L906.6,2298.2 L908.6,2298.2 L910.6,2298.3 L912.6,2298.3 L914.6,2298.4 L916.6,2298.5 L918.6,2298.5 L920.6,2298.6 L922.6,2298.6 L924.6,2298.7 L926.6,2298.7 L928.6,2298.8 L930.6,2298.8 L932.6,2298.8 L934.6,2298.8 L936.6,2298.9 L938.6,2298.9 L940.6,2298.9 L942.6,2298.9 L944.6,2298.9 L946.6,2298.9 L948.6,2298.9 L950.6,2298.9 L952.6,2298.9 L954.6,2298.9 L956.6,2298.9 L958.6,2298.9 L960.6,2298.9 L962.6,2298.9 L964.6,2298.9 L966.6,2298.9 L968.6,2298.9 L970.6,2298.9 L972.6,2298.9 L974.6,2298.9 L976.6,2298.9 L978.6,2298.9 L980.6,2298.9 L982.6,2298.9 L984.6,2298.9 L986.6,2298.9 L988.6,2298.9 L990.6,2299.0 L992.6,2299.0 L994.6,2299.0 L996.6,2299.1 L998.6,2299.1 L1000.6,2299.2 L1002.6,2299.3 L1004.6,2299.5 L1006.5,2299.6 L1008.5,2299.8 L1010.5,2300.0 L1012.5,2300.3 L1014.4,2300.5 L1016.4,2300.8 L1018.3,2301.1 L1020.2,2301.4 L1022.1,2301.7 L1023.9,2302.1 L1025.6,2302.4 L1027.3,2302.7 L1028.8,2303.0 L1030.2,2303.3 L1031.3,2303.5 L1036.1,2304.6" stroke="#ff0000" stroke-width="5.3" clip-path="url(#cl)"/>
<path d="M1300.8,2287.0 L1305.7,2286.9 L1306.9,2286.9 L1308.3,2286.8 L1309.8,2286.8 L1311.5,2286.8 L1313.2,2286.7 L1315.1,2286.7 L1317.0,2286.6 L1318.9,2286.6 L1320.9,2286.5 L1322.8,2286.4 L1324.8,2286.4 L1326.8,2286.3 L1328.8,2286.2 L1330.8,2286.1 L1332.8,2286.1 L1334.8,2286.0 L1336.8,2285.9 L1338.8,2285.8 L1340.8,2285.7 L1342.8,2285.6 L1344.8,2285.5 L1346.8,2285.4 L1348.8,2285.3 L1350.8,2285.2 L1352.8,2285.1 L1354.8,2285.0 L1356.8,2284.8 L1358.8,2284.7 L1360.8,2284.6 L1362.8,2284.5 L1364.8,2284.3 L1366.7,2284.2 L1368.7,2284.0 L1370.7,2283.9 L1372.7,2283.8 L1374.7,2283.6 L1376.7,2283.5 L1378.7,2283.3 L1380.7,2283.2 L1382.7,2283.0 L1384.7,2282.9 L1386.7,2282.8 L1388.7,2282.7 L1390.7,2282.6 L1392.7,2282.5 L1394.7,2282.4 L1396.7,2282.4 L1398.7,2282.3 L1400.7,2282.3 L1402.7,2282.2 L1404.7,2282.2 L1406.7,2282.2 L1408.7,2282.2 L1410.7,2282.2 L1412.7,2282.2 L1414.7,2282.2 L1416.7,2282.2 L1418.7,2282.2 L1420.7,2282.2 L1422.7,2282.2 L1424.7,2282.2 L1426.7,2282.3 L1428.7,2282.3 L1430.7,2282.3 L1432.7,2282.3 L1434.7,2282.3 L1436.7,2282.4 L1438.7,2282.4 L1440.7,2282.4 L1442.7,2282.4 L1444.7,2282.4 L1446.7,2282.5 L1448.7,2282.5 L1450.7,2282.5 L1452.7,2282.6 L1454.7,2282.6 L1456.7,2282.6 L1458.7,2282.7 L1460.7,2282.7 L1462.7,2282.8 L1464.7,2282.8 L1466.7,2282.9 L1468.7,2283.0 L1470.7,2283.0 L1472.7,2283.1 L1474.7,2283.3 L1476.6,2283.4 L1478.6,2283.5 L1480.6,2283.7 L1482.6,2283.9 L1484.6,2284.0 L1486.6,2284.2 L1488.6,2284.4 L1490.6,2284.6 L1492.6,2284.8 L1494.6,2284.9 L1496.6,2285.1 L1498.6,2285.2 L1500.5,2285.3 L1502.5,2285.4 L1504.5,2285.5 L1506.5,2285.6 L1508.5,2285.6 L1510.5,2285.6 L1512.5,2285.6 L1514.5,2285.5 L1516.5,2285.5 L1518.5,2285.4 L1520.5,2285.3 L1522.5,2285.2 L1524.5,2285.0 L1526.5,2284.9 L1528.5,2284.7 L1530.5,2284.5 L1532.5,2284.3 L1534.4,2284.1 L1536.4,2283.9 L1538.4,2283.7 L1540.4,2283.5 L1542.4,2283.3 L1544.4,2283.0 L1546.4,2282.8 L1548.4,2282.6 L1550.3,2282.3 L1552.3,2282.1 L1554.3,2281.9 L1556.3,2281.6 L1558.3,2281.4 L1560.3,2281.2 L1562.3,2280.9 L1564.2,2280.7 L1566.2,2280.5 L1568.2,2280.2 L1570.2,2280.0 L1572.2,2279.7 L1574.2,2279.5 L1576.2,2279.2 L1578.1,2278.9 L1580.1,2278.7 L1582.1,2278.4 L1584.1,2278.1 L1586.1,2277.8 L1588.0,2277.5 L1590.0,2277.2 L1592.0,2276.8 L1593.9,2276.5 L1595.9,2276.2 L1597.9,2275.8 L1599.9,2275.5 L1601.8,2275.1 L1603.8,2274.8 L1605.8,2274.4 L1607.7,2274.1 L1609.7,2273.7 L1611.7,2273.3 L1613.6,2273.0 L1615.6,2272.6 L1617.6,2272.2 L1619.5,2271.8 L1621.5,2271.4 L1623.4,2271.0 L1625.4,2270.6 L1627.3,2270.1 L1629.3,2269.7 L1631.2,2269.2 L1633.2,2268.7 L1635.1,2268.2 L1637.0,2267.7 L1639.0,2267.2 L1640.9,2266.6 L1642.8,2266.1 L1644.7,2265.5 L1646.6,2264.9 L1648.5,2264.4 L1650.5,2263.8 L1652.4,2263.2 L1654.3,2262.6 L1656.2,2261.9 L1658.1,2261.3 L1660.0,2260.7 L1661.9,2260.0 L1663.8,2259.4 L1665.6,2258.7 L1667.5,2258.1 L1669.4,2257.4 L1671.3,2256.7 L1673.1,2256.0 L1675.0,2255.2 L1676.8,2254.5 L1678.7,2253.7 L1680.5,2252.9 L1682.3,2252.1 L1684.1,2251.2 L1685.9,2250.4 L1687.7,2249.5 L1689.5,2248.6 L1691.3,2247.7 L1693.1,2246.8 L1694.8,2245.8 L1696.6,2244.9 L1698.4,2243.9 L1700.1,2242.9 L1701.8,2242.0 L1703.6,2241.0 L1705.3,2240.0 L1707.0,2238.9 L1708.7,2237.9 L1710.4,2236.9 L1712.1,2235.8 L1713.8,2234.8 L1715.5,2233.7 L1717.2,2232.6 L1718.9,2231.5 L1720.6,2230.4 L1722.2,2229.3 L1723.9,2228.2 L1725.5,2227.0 L1727.1,2225.9 L1728.8,2224.7 L1730.4,2223.5 L1732.0,2222.3 L1733.6,2221.1 L1735.2,2219.9 L1736.7,2218.7 L1738.3,2217.4 L1739.8,2216.2 L1741.4,2214.9 L1742.9,2213.6 L1744.5,2212.3 L1746.0,2211.0 L1747.5,2209.7 L1749.0,2208.4 L1750.5,2207.1 L1752.0,2205.7 L1753.4,2204.4 L1754.9,2203.0 L1756.4,2201.7 L1757.8,2200.3 L1759.2,2198.9 L1760.7,2197.5 L1762.1,2196.1 L1763.5,2194.7 L1764.9,2193.2 L1766.3,2191.8 L1767.7,2190.4 L1769.0,2188.9 L1770.4,2187.4 L1771.7,2186.0 L1773.1,2184.5 L1774.4,2183.0 L1775.7,2181.5 L1777.0,2180.0 L1778.3,2178.4 L1779.6,2176.9 L1780.9,2175.4 L1782.2,2173.9 L1783.5,2172.3 L1784.7,2170.8 L1786.0,2169.2 L1787.3,2167.7 L1788.5,2166.1 L1789.7,2164.5 L1791.0,2162.9 L1792.2,2161.4 L1793.4,2159.8 L1794.6,2158.2 L1795.8,2156.6 L1796.9,2154.9 L1798.1,2153.3 L1799.3,2151.7 L1800.4,2150.1 L1801.6,2148.4 L1802.7,2146.8 L1803.9,2145.2 L1805.0,2143.5 L1806.1,2141.8 L1807.2,2140.2 L1808.3,2138.5 L1809.4,2136.8 L1810.5,2135.2 L1811.6,2133.5 L1812.7,2131.8 L1813.7,2130.1 L1814.8,2128.4 L1815.8,2126.7 L1816.8,2125.0 L1817.8,2123.2 L1818.8,2121.5 L1819.8,2119.8 L1820.8,2118.0 L1821.8,2116.3 L1822.7,2114.5 L1823.7,2112.8 L1824.6,2111.0 L1825.5,2109.2 L1826.5,2107.4 L1827.4,2105.7 L1828.2,2103.9 L1829.1,2102.1 L1830.0,2100.3 L1830.8,2098.5 L1831.7,2096.7 L1832.5,2094.8 L1833.3,2093.0 L1834.2,2091.2 L1835.0,2089.4 L1835.8,2087.5 L1836.6,2085.7 L1837.3,2083.8 L1838.1,2082.0 L1838.9,2080.1 L1839.6,2078.3 L1840.3,2076.4 L1841.1,2074.6 L1841.8,2072.7 L1842.5,2070.8 L1843.2,2069.0 L1843.9,2067.1 L1844.6,2065.2 L1845.3,2063.3 L1846.0,2061.5 L1846.6,2059.6 L1847.3,2057.7 L1848.0,2055.8 L1848.6,2053.9 L1849.3,2052.0 L1849.9,2050.1 L1850.5,2048.2 L1851.2,2046.3 L1851.8,2044.4 L1852.4,2042.5 L1853.0,2040.6 L1853.6,2038.7 L1854.2,2036.8 L1854.8,2034.9 L1855.4,2033.0 L1856.0,2031.1 L1856.6,2029.2 L1857.2,2027.3 L1857.8,2025.4 L1858.4,2023.4 L1859.0,2021.5 L1859.5,2019.6 L1860.1,2017.7 L1860.7,2015.8 L1861.3,2013.9 L1861.8,2012.0 L1862.4,2010.0 L1863.0,2008.1 L1863.5,2006.2 L1864.1,2004.3 L1864.6,2002.4 L1865.2,2000.4 L1865.8,1998.5 L1866.3,1996.6 L1866.9,1994.7 L1867.4,1992.7 L1868.0,1990.8 L1868.5,1988.9 L1869.1,1987.0 L1869.6,1985.1 L1870.2,1983.1 L1870.7,1981.2 L1871.2,1979.3 L1871.8,1977.4 L1872.3,1975.4 L1872.9,1973.5 L1873.4,1971.6 L1873.9,1969.7 L1874.5,1967.7 L1875.0,1965.8 L1875.6,1963.9 L1876.1,1961.9 L1876.6,1960.0 L1877.2,1958.1 L1877.7,1956.2 L1878.2,1954.2 L1878.8,1952.3 L1879.3,1950.4 L1879.8,1948.5 L1880.4,1946.5 L1880.9,1944.6 L1881.4,1942.7 L1881.9,1940.7 L1882.5,1938.8 L1883.0,1936.9 L1883.5,1935.0 L1884.1,1933.0 L1884.6,1931.1 L1885.1,1929.2 L1885.7,1927.2 L1886.2,1925.3 L1886.7,1923.4 L1887.2,1921.5 L1887.8,1919.5 L1888.3,1917.6 L1888.8,1915.7 L1889.3,1913.7 L1889.9,1911.8 L1890.4,1909.9 L1890.9,1907.9 L1891.4,1906.0 L1892.0,1904.1 L1892.5,1902.2 L1893.0,1900.2 L1893.5,1898.3 L1894.1,1896.4 L1894.6,1894.4 L1895.1,1892.5 L1895.6,1890.6 L1896.2,1888.6 L1896.7,1886.7 L1897.2,1884.8 L1897.7,1882.9 L1898.2,1880.9 L1898.8,1879.0 L1899.3,1877.1 L1899.8,1875.1 L1900.3,1873.2 L1900.8,1871.3 L1901.4,1869.3 L1901.9,1867.4 L1902.4,1865.5 L1902.9,1863.5 L1903.4,1861.6 L1903.9,1859.7 L1904.4,1857.7 L1904.9,1855.8 L1905.4,1853.9 L1906.0,1851.9 L1906.4,1850.0 L1906.9,1848.1 L1907.4,1846.1 L1907.9,1844.2 L1908.4,1842.2 L1908.9,1840.3 L1909.4,1838.4 L1909.8,1836.4 L1910.3,1834.5 L1910.8,1832.5 L1911.2,1830.6 L1911.7,1828.6 L1912.2,1826.7 L1912.6,1824.7 L1913.1,1822.8 L1913.6,1820.8 L1914.0,1818.9 L1914.5,1817.0 L1915.0,1815.0 L1915.5,1813.1 L1916.0,1811.1 L1916.5,1809.2 L1917.0,1807.3 L1917.5,1805.3 L1918.0,1803.4 L1918.6,1801.5 L1919.1,1799.6 L1919.7,1797.7 L1920.3,1795.7 L1920.8,1793.8 L1921.4,1791.9 L1922.0,1790.0 L1922.6,1788.1 L1923.2,1786.2 L1923.8,1784.3 L1924.4,1782.3 L1924.9,1780.4 L1925.5,1778.5 L1926.1,1776.6 L1926.7,1774.7 L1927.3,1772.8 L1927.9,1770.9 L1928.5,1769.0 L1929.2,1767.1 L1929.8,1765.2 L1930.4,1763.3 L1931.0,1761.4 L1931.6,1759.5 L1932.3,1757.6 L1933.0,1755.7 L1933.7,1753.8 L1934.4,1752.0 L1935.2,1750.2 L1936.0,1748.3 L1936.9,1746.5 L1937.8,1744.8 L1938.8,1743.0 L1939.8,1741.3 L1940.8,1739.6 L1941.9,1737.9 L1942.9,1736.2 L1943.9,1734.4 L1945.0,1732.7 L1946.0,1731.0 L1947.0,1729.3 L1948.1,1727.6 L1949.1,1725.9 L1950.2,1724.2 L1951.3,1722.5 L1952.4,1720.9 L1953.7,1719.4 L1955.1,1717.9 L1956.6,1716.8 L1958.4,1716.1 L1960.3,1715.8 L1962.2,1715.9 L1964.1,1716.3 L1966.1,1716.9 L1968.0,1717.4 L1969.9,1718.0 L1971.7,1718.7 L1973.4,1719.6 L1974.9,1720.9 L1976.2,1722.4 L1977.2,1724.1 L1978.2,1725.8 L1979.2,1727.5 L1980.1,1729.3 L1981.0,1731.1 L1981.8,1732.9 L1982.7,1734.8 L1983.5,1736.6 L1984.3,1738.4 L1985.1,1740.2 L1986.0,1742.0 L1986.8,1743.9 L1987.6,1745.7 L1988.4,1747.5 L1989.2,1749.4 L1989.9,1751.2 L1990.6,1753.1 L1991.4,1754.9 L1992.0,1756.8 L1992.7,1758.7 L1993.4,1760.6 L1994.0,1762.5 L1994.6,1764.4 L1995.3,1766.3 L1995.9,1768.2 L1996.5,1770.1 L1997.1,1772.0 L1997.7,1773.9 L1998.4,1775.8 L1999.0,1777.7 L1999.6,1779.6 L2000.2,1781.5 L2000.8,1783.4 L2001.4,1785.3 L2002.0,1787.2 L2002.5,1789.2 L2003.1,1791.1 L2003.7,1793.0 L2004.2,1794.9 L2004.7,1796.8 L2005.3,1798.8 L2005.8,1800.7 L2006.3,1802.6 L2006.8,1804.6 L2007.3,1806.5 L2007.7,1808.5 L2008.2,1810.4 L2008.7,1812.3 L2009.1,1814.3 L2009.6,1816.2 L2010.0,1818.2 L2010.5,1820.1 L2010.9,1822.1 L2011.4,1824.0 L2011.8,1826.0 L2012.3,1827.9 L2012.7,1829.9 L2013.1,1831.8 L2013.6,1833.8 L2014.0,1835.7 L2014.5,1837.7 L2014.9,1839.6 L2015.4,1841.6 L2015.8,1843.5 L2016.3,1845.5 L2016.7,1847.4 L2017.2,1849.4 L2017.7,1851.3 L2018.1,1853.3 L2018.6,1855.2 L2019.1,1857.2 L2019.6,1859.1 L2020.0,1861.0 L2020.5,1863.0 L2021.0,1864.9 L2021.5,1866.9 L2022.0,1868.8 L2022.5,1870.7 L2022.9,1872.7 L2023.4,1874.6 L2023.9,1876.6 L2024.4,1878.5 L2024.9,1880.4 L2025.4,1882.4 L2025.9,1884.3 L2026.3,1886.3 L2026.8,1888.2 L2027.3,1890.1 L2027.8,1892.1 L2028.3,1894.0 L2028.8,1896.0 L2029.3,1897.9 L2029.8,1899.8 L2030.3,1901.8 L2030.7,1903.7 L2031.2,1905.7 L2031.7,1907.6 L2032.2,1909.5 L2032.7,1911.5 L2033.2,1913.4 L2033.7,1915.4 L2034.2,1917.3 L2034.7,1919.2 L2035.1,1921.2 L2035.6,1923.1 L2036.1,1925.1 L2036.6,1927.0 L2037.1,1928.9 L2037.6,1930.9 L2038.0,1932.8 L2038.5,1934.8 L2039.0,1936.7 L2039.5,1938.6 L2040.0,1940.6 L2040.4,1942.5 L2040.9,1944.5 L2041.4,1946.4 L2041.9,1948.3 L2042.4,1950.3 L2042.8,1952.2 L2043.3,1954.2 L2043.8,1956.1 L2044.2,1958.1 L2044.7,1960.0 L2045.2,1962.0 L2045.6,1963.9 L2046.1,1965.8 L2046.6,1967.8 L2047.0,1969.7 L2047.5,1971.7 L2047.9,1973.6 L2048.4,1975.6 L2048.9,1977.5 L2049.3,1979.5 L2049.8,1981.4 L2050.2,1983.4 L2050.7,1985.3 L2051.1,1987.3 L2051.6,1989.2 L2052.0,1991.2 L2052.5,1993.1 L2052.9,1995.1 L2053.4,1997.0 L2053.8,1999.0 L2054.3,2000.9 L2054.7,2002.9 L2055.2,2004.8 L2055.6,2006.8 L2056.1,2008.7 L2056.5,2010.7 L2057.0,2012.6 L2057.4,2014.6 L2057.9,2016.5 L2058.3,2018.4 L2058.8,2020.4 L2059.2,2022.3 L2059.7,2024.3 L2060.1,2026.2 L2060.6,2028.2 L2061.0,2030.1 L2061.5,2032.1 L2061.9,2034.0 L2062.4,2036.0 L2062.8,2037.9 L2063.3,2039.9 L2063.8,2041.8 L2064.2,2043.8 L2064.7,2045.7 L2065.2,2047.7 L2065.6,2049.6 L2066.1,2051.5 L2066.5,2053.5 L2067.0,2055.4 L2067.5,2057.4 L2067.9,2059.3 L2068.4,2061.3 L2068.9,2063.2 L2069.4,2065.2 L2069.8,2067.1 L2070.3,2069.0 L2070.8,2071.0 L2071.2,2072.9 L2071.7,2074.9 L2072.2,2076.8 L2072.7,2078.8 L2073.2,2080.7 L2073.7,2082.6 L2074.1,2084.6 L2074.6,2086.5 L2075.1,2088.5 L2075.6,2090.4 L2076.1,2092.3 L2076.6,2094.3 L2077.1,2096.2 L2077.7,2098.1 L2078.2,2100.1 L2078.7,2102.0 L2079.2,2103.9 L2079.8,2105.8 L2080.3,2107.8 L2080.9,2109.7 L2081.4,2111.6 L2082.0,2113.5 L2082.6,2115.4 L2083.2,2117.3 L2083.8,2119.3 L2084.4,2121.2 L2085.0,2123.0 L2085.7,2124.9 L2086.3,2126.8 L2087.0,2128.7 L2087.7,2130.6 L2088.5,2132.4 L2089.2,2134.3 L2090.0,2136.1 L2090.8,2138.0 L2091.6,2139.8 L2092.4,2141.6 L2093.3,2143.4 L2094.2,2145.2 L2095.1,2147.0 L2096.0,2148.7 L2096.9,2150.5 L2097.9,2152.3 L2098.8,2154.0 L2099.8,2155.8 L2100.8,2157.5 L2101.8,2159.2 L2102.8,2161.0 L2103.8,2162.7 L2104.8,2164.4 L2105.8,2166.2 L2106.8,2167.9 L2107.8,2169.6 L2108.8,2171.3 L2109.9,2173.0 L2110.9,2174.7 L2112.0,2176.4 L2113.0,2178.1 L2114.1,2179.8 L2115.2,2181.5 L2116.3,2183.2 L2117.4,2184.8 L2118.5,2186.5 L2119.7,2188.1 L2120.8,2189.8 L2122.0,2191.4 L2123.2,2193.0 L2124.4,2194.6 L2125.6,2196.2 L2126.8,2197.8 L2128.0,2199.3 L2129.3,2200.9 L2130.5,2202.4 L2131.8,2204.0 L2133.1,2205.5 L2134.4,2207.0 L2135.7,2208.6 L2137.0,2210.1 L2138.3,2211.6 L2139.6,2213.1 L2141.0,2214.6 L2142.3,2216.0 L2143.7,2217.5 L2145.0,2219.0 L2146.4,2220.4 L2147.8,2221.9 L2149.2,2223.3 L2150.6,2224.7 L2152.0,2226.1 L2153.5,2227.5 L2154.9,2228.9 L2156.3,2230.3 L2157.8,2231.6 L2159.3,2233.0 L2160.8,2234.3 L2162.3,2235.6 L2163.8,2236.9 L2165.3,2238.2 L2166.8,2239.5 L2168.4,2240.8 L2170.0,2242.0 L2171.5,2243.2 L2173.1,2244.4 L2174.7,2245.6 L2176.3,2246.8 L2178.0,2248.0 L2179.6,2249.1 L2181.3,2250.2 L2182.9,2251.3 L2184.6,2252.4 L2186.3,2253.4 L2188.0,2254.4 L2189.8,2255.4 L2191.5,2256.4 L2193.3,2257.4 L2195.0,2258.3 L2196.8,2259.2 L2198.6,2260.1 L2200.4,2261.0 L2202.2,2261.8 L2204.0,2262.7 L2205.8,2263.5 L2207.6,2264.4 L2209.5,2265.2 L2211.3,2266.0 L2213.1,2266.8 L2215.0,2267.6 L2216.8,2268.4 L2218.6,2269.2 L2220.4,2270.0 L2222.3,2270.8 L2224.1,2271.6 L2225.9,2272.4 L2227.8,2273.2 L2229.6,2274.0 L2231.4,2274.8 L2233.3,2275.6 L2235.1,2276.4 L2236.9,2277.2 L2238.8,2278.0 L2240.6,2278.8 L2242.5,2279.5 L2244.3,2280.2 L2246.2,2281.0 L2248.1,2281.7 L2249.9,2282.4 L2251.8,2283.0 L2253.7,2283.7 L2255.6,2284.3 L2257.5,2284.9 L2259.4,2285.5 L2261.3,2286.1 L2263.2,2286.7 L2265.1,2287.3 L2267.0,2287.9 L2269.0,2288.5 L2270.9,2289.1 L2272.8,2289.7 L2274.7,2290.3 L2276.6,2290.8 L2278.5,2291.4 L2280.5,2291.9 L2282.4,2292.5 L2284.3,2293.0 L2286.2,2293.5 L2288.2,2294.0 L2290.1,2294.4 L2292.1,2294.9 L2294.0,2295.3 L2296.0,2295.7 L2297.9,2296.0 L2299.9,2296.3 L2301.9,2296.6 L2303.8,2296.9 L2305.8,2297.1 L2307.7,2297.3 L2309.7,2297.5 L2311.5,2297.7 L2313.4,2297.8 L2315.1,2297.9 L2316.8,2297.9 L2318.3,2298.0 L2319.7,2298.0 L2320.9,2298.0 L2325.8,2298.1" stroke="#000000" stroke-width="5.0" clip-path="url(#cr)"/>
<path d="M1304.9,2279.7 L1309.7,2279.0 L1310.9,2278.8 L1312.3,2278.6 L1313.8,2278.4 L1315.5,2278.2 L1317.2,2278.0 L1319.0,2277.8 L1320.9,2277.6 L1322.8,2277.4 L1324.8,2277.2 L1326.7,2277.0 L1328.7,2276.8 L1330.7,2276.6 L1332.7,2276.5 L1334.7,2276.3 L1336.7,2276.2 L1338.7,2276.1 L1340.7,2276.0 L1342.7,2276.0 L1344.7,2275.9 L1346.7,2275.9 L1348.7,2275.9 L1350.7,2276.0 L1352.6,2276.0 L1354.6,2276.1 L1356.6,2276.3 L1358.6,2276.5 L1360.6,2276.7 L1362.5,2277.0 L1364.5,2277.3 L1366.5,2277.7 L1368.4,2278.1 L1370.4,2278.5 L1372.3,2279.0 L1374.2,2279.5 L1376.1,2280.1 L1378.0,2280.7 L1379.9,2281.3 L1381.8,2281.9 L1383.7,2282.6 L1385.6,2283.3 L1387.4,2284.0 L1389.3,2284.7 L1391.2,2285.3 L1393.1,2286.0 L1395.0,2286.7 L1396.8,2287.3 L1398.7,2288.0 L1400.6,2288.6 L1402.5,2289.2 L1404.5,2289.8 L1406.4,2290.3 L1408.3,2290.9 L1410.2,2291.5 L1412.1,2292.0 L1414.0,2292.6 L1416.0,2293.1 L1417.9,2293.6 L1419.8,2294.2 L1421.8,2294.7 L1423.7,2295.2 L1425.6,2295.7 L1427.6,2296.2 L1429.5,2296.7 L1431.4,2297.2 L1433.4,2297.7 L1435.3,2298.1 L1437.3,2298.6 L1439.2,2298.9 L1441.2,2299.3 L1443.1,2299.6 L1445.1,2299.9 L1447.1,2300.2 L1449.1,2300.4 L1451.0,2300.5 L1453.0,2300.6 L1455.0,2300.7 L1457.0,2300.7 L1459.0,2300.6 L1461.0,2300.5 L1462.9,2300.3 L1464.9,2300.1 L1466.8,2299.8 L1468.8,2299.4 L1470.7,2299.0 L1472.6,2298.5 L1474.5,2297.9 L1476.4,2297.3 L1478.3,2296.7 L1480.1,2296.0 L1482.0,2295.2 L1483.8,2294.4 L1485.6,2293.5 L1487.3,2292.6 L1489.0,2291.6 L1490.7,2290.6 L1492.4,2289.5 L1494.0,2288.4 L1495.5,2287.2 L1497.0,2285.9 L1498.5,2284.6 L1500.0,2283.3 L1501.4,2281.9 L1502.8,2280.4 L1504.1,2279.0 L1505.4,2277.5 L1506.8,2276.0 L1508.1,2274.5 L1509.3,2273.0 L1510.6,2271.4 L1511.9,2269.9 L1513.2,2268.4 L1514.5,2266.8 L1515.8,2265.3 L1517.1,2263.8 L1518.4,2262.3 L1519.6,2260.7 L1520.9,2259.2 L1522.2,2257.7 L1523.6,2256.2 L1524.9,2254.7 L1526.2,2253.2 L1527.5,2251.6 L1528.8,2250.1 L1530.1,2248.6 L1531.5,2247.2 L1532.8,2245.7 L1534.1,2244.2 L1535.5,2242.7 L1536.9,2241.3 L1538.2,2239.8 L1539.6,2238.4 L1541.0,2237.0 L1542.5,2235.6 L1543.9,2234.2 L1545.4,2232.8 L1546.9,2231.5 L1548.3,2230.2 L1549.9,2228.9 L1551.4,2227.6 L1552.9,2226.3 L1554.5,2225.1 L1556.1,2223.8 L1557.6,2222.6 L1559.2,2221.4 L1560.8,2220.2 L1562.4,2218.9 L1564.0,2217.7 L1565.6,2216.5 L1567.2,2215.3 L1568.8,2214.1 L1570.4,2212.9 L1572.0,2211.7 L1573.6,2210.5 L1575.2,2209.3 L1576.8,2208.1 L1578.4,2206.9 L1580.0,2205.7 L1581.6,2204.5 L1583.2,2203.3 L1584.8,2202.1 L1586.3,2200.9 L1587.9,2199.7 L1589.5,2198.4 L1591.1,2197.2 L1592.7,2196.0 L1594.2,2194.7 L1595.8,2193.5 L1597.4,2192.3 L1598.9,2191.0 L1600.5,2189.8 L1602.1,2188.5 L1603.6,2187.3 L1605.2,2186.1 L1606.8,2184.8 L1608.4,2183.6 L1610.0,2182.4 L1611.6,2181.2 L1613.1,2180.0 L1614.7,2178.8 L1616.3,2177.6 L1617.9,2176.3 L1619.5,2175.1 L1621.1,2173.9 L1622.7,2172.7 L1624.2,2171.4 L1625.8,2170.2 L1627.3,2168.9 L1628.9,2167.7 L1630.4,2166.4 L1632.0,2165.1 L1633.5,2163.8 L1635.0,2162.5 L1636.5,2161.1 L1638.0,2159.8 L1639.4,2158.5 L1640.9,2157.1 L1642.3,2155.7 L1643.8,2154.3 L1645.2,2152.9 L1646.6,2151.5 L1648.0,2150.1 L1649.4,2148.6 L1650.8,2147.2 L1652.1,2145.7 L1653.5,2144.3 L1654.8,2142.8 L1656.2,2141.3 L1657.5,2139.8 L1658.8,2138.3 L1660.1,2136.8 L1661.4,2135.2 L1662.7,2133.7 L1664.0,2132.2 L1665.2,2130.6 L1666.5,2129.1 L1667.7,2127.5 L1669.0,2126.0 L1670.2,2124.4 L1671.4,2122.8 L1672.6,2121.2 L1673.8,2119.6 L1675.0,2118.0 L1676.2,2116.4 L1677.4,2114.8 L1678.5,2113.1 L1679.7,2111.5 L1680.8,2109.8 L1681.9,2108.2 L1683.0,2106.5 L1684.1,2104.9 L1685.2,2103.2 L1686.3,2101.5 L1687.4,2099.8 L1688.5,2098.1 L1689.5,2096.4 L1690.6,2094.7 L1691.6,2093.0 L1692.6,2091.3 L1693.7,2089.6 L1694.7,2087.9 L1695.7,2086.1 L1696.7,2084.4 L1697.7,2082.7 L1698.7,2080.9 L1699.6,2079.2 L1700.6,2077.4 L1701.6,2075.7 L1702.5,2073.9 L1703.5,2072.2 L1704.4,2070.4 L1705.4,2068.6 L1706.3,2066.9 L1707.2,2065.1 L1708.1,2063.3 L1709.0,2061.5 L1709.9,2059.8 L1710.8,2058.0 L1711.7,2056.2 L1712.6,2054.4 L1713.4,2052.6 L1714.3,2050.8 L1715.1,2048.9 L1716.0,2047.1 L1716.8,2045.3 L1717.6,2043.5 L1718.4,2041.6 L1719.2,2039.8 L1720.0,2038.0 L1720.8,2036.1 L1721.6,2034.3 L1722.4,2032.5 L1723.2,2030.6 L1724.0,2028.8 L1724.8,2027.0 L1725.6,2025.1 L1726.4,2023.3 L1727.2,2021.5 L1728.0,2019.7 L1728.9,2017.8 L1729.7,2016.0 L1730.5,2014.2 L1731.4,2012.4 L1732.2,2010.6 L1733.0,2008.7 L1733.9,2006.9 L1734.7,2005.1 L1735.5,2003.3 L1736.4,2001.5 L1737.2,1999.7 L1738.0,1997.8 L1738.9,1996.0 L1739.7,1994.2 L1740.5,1992.4 L1741.4,1990.6 L1742.2,1988.7 L1743.0,1986.9 L1743.8,1985.1 L1744.6,1983.3 L1745.5,1981.4 L1746.3,1979.6 L1747.1,1977.8 L1747.9,1976.0 L1748.7,1974.1 L1749.4,1972.3 L1750.2,1970.4 L1751.0,1968.6 L1751.8,1966.8 L1752.5,1964.9 L1753.3,1963.1 L1754.1,1961.2 L1754.8,1959.4 L1755.6,1957.5 L1756.3,1955.6 L1757.1,1953.8 L1757.8,1951.9 L1758.5,1950.1 L1759.2,1948.2 L1760.0,1946.3 L1760.7,1944.5 L1761.4,1942.6 L1762.1,1940.7 L1762.8,1938.8 L1763.5,1937.0 L1764.2,1935.1 L1764.8,1933.2 L1765.5,1931.3 L1766.2,1929.4 L1766.9,1927.6 L1767.5,1925.7 L1768.2,1923.8 L1768.8,1921.9 L1769.5,1920.0 L1770.1,1918.1 L1770.8,1916.2 L1771.4,1914.3 L1772.1,1912.4 L1772.7,1910.5 L1773.4,1908.7 L1774.0,1906.8 L1774.7,1904.9 L1775.3,1903.0 L1776.0,1901.1 L1776.6,1899.2 L1777.3,1897.3 L1777.9,1895.4 L1778.6,1893.5 L1779.2,1891.6 L1779.9,1889.7 L1780.5,1887.8 L1781.2,1885.9 L1781.8,1884.1 L1782.5,1882.2 L1783.1,1880.3 L1783.8,1878.4 L1784.5,1876.5 L1785.2,1874.6 L1785.8,1872.8 L1786.5,1870.9 L1787.2,1869.0 L1787.9,1867.1 L1788.6,1865.3 L1789.3,1863.4 L1790.1,1861.5 L1790.8,1859.7 L1791.5,1857.8 L1792.3,1855.9 L1793.0,1854.1 L1793.8,1852.2 L1794.5,1850.4 L1795.3,1848.5 L1796.1,1846.7 L1796.8,1844.8 L1797.6,1843.0 L1798.4,1841.2 L1799.2,1839.3 L1800.0,1837.5 L1800.7,1835.6 L1801.5,1833.8 L1802.3,1832.0 L1803.1,1830.1 L1803.9,1828.3 L1804.7,1826.5 L1805.5,1824.6 L1806.3,1822.8 L1807.1,1821.0 L1807.9,1819.1 L1808.7,1817.3 L1809.5,1815.4 L1810.3,1813.6 L1811.1,1811.8 L1811.8,1809.9 L1812.6,1808.1 L1813.4,1806.3 L1814.2,1804.4 L1815.0,1802.6 L1815.8,1800.8 L1816.6,1798.9 L1817.4,1797.1 L1818.2,1795.3 L1819.0,1793.4 L1819.8,1791.6 L1820.6,1789.8 L1821.4,1787.9 L1822.2,1786.1 L1823.0,1784.3 L1823.8,1782.4 L1824.6,1780.6 L1825.4,1778.8 L1826.3,1777.0 L1827.1,1775.1 L1827.9,1773.3 L1828.7,1771.5 L1829.5,1769.6 L1830.4,1767.8 L1831.2,1766.0 L1832.0,1764.2 L1832.9,1762.4 L1833.8,1760.6 L1834.6,1758.8 L1835.5,1757.0 L1836.4,1755.2 L1837.3,1753.4 L1838.2,1751.6 L1839.1,1749.9 L1840.1,1748.1 L1841.0,1746.3 L1842.0,1744.6 L1843.0,1742.9 L1844.1,1741.2 L1845.2,1739.5 L1846.3,1737.9 L1847.5,1736.3 L1848.8,1734.7 L1850.1,1733.2 L1851.5,1731.8 L1853.0,1730.4 L1854.5,1729.1 L1856.1,1727.9 L1857.7,1726.8 L1859.3,1725.7 L1861.0,1724.6 L1862.8,1723.6 L1864.6,1722.7 L1866.4,1722.0 L1868.3,1721.3 L1870.2,1720.8 L1872.2,1720.3 L1874.1,1720.0 L1876.1,1719.9 L1878.1,1719.9 L1880.1,1720.0 L1882.1,1720.3 L1884.1,1720.6 L1886.0,1720.9 L1888.0,1721.4 L1889.9,1721.9 L1891.8,1722.6 L1893.5,1723.4 L1895.2,1724.5 L1896.8,1725.6 L1898.4,1726.9 L1899.9,1728.2 L1901.3,1729.6 L1902.7,1731.0 L1904.1,1732.5 L1905.5,1733.9 L1906.9,1735.3 L1908.3,1736.8 L1909.7,1738.2 L1911.1,1739.7 L1912.4,1741.1 L1913.8,1742.6 L1915.0,1744.2 L1916.3,1745.7 L1917.5,1747.3 L1918.7,1748.9 L1919.9,1750.5 L1921.1,1752.1 L1922.3,1753.7 L1923.4,1755.4 L1924.6,1757.0 L1925.7,1758.7 L1926.8,1760.3 L1928.0,1762.0 L1929.1,1763.6 L1930.2,1765.3 L1931.3,1766.9 L1932.4,1768.6 L1933.5,1770.3 L1934.6,1771.9 L1935.7,1773.6 L1936.8,1775.3 L1937.9,1776.9 L1939.0,1778.6 L1940.1,1780.3 L1941.2,1782.0 L1942.2,1783.7 L1943.3,1785.4 L1944.4,1787.1 L1945.5,1788.7 L1946.5,1790.4 L1947.6,1792.1 L1948.7,1793.8 L1949.7,1795.5 L1950.8,1797.2 L1951.9,1798.9 L1953.0,1800.5 L1954.1,1802.2 L1955.2,1803.9 L1956.3,1805.6 L1957.4,1807.2 L1958.5,1808.9 L1959.6,1810.5 L1960.7,1812.2 L1961.9,1813.9 L1963.0,1815.5 L1964.1,1817.2 L1965.2,1818.8 L1966.4,1820.5 L1967.5,1822.1 L1968.6,1823.8 L1969.8,1825.4 L1970.9,1827.0 L1972.1,1828.7 L1973.2,1830.3 L1974.4,1832.0 L1975.5,1833.6 L1976.7,1835.2 L1977.8,1836.8 L1979.0,1838.5 L1980.2,1840.1 L1981.3,1841.7 L1982.5,1843.3 L1983.7,1845.0 L1984.9,1846.6 L1986.0,1848.2 L1987.2,1849.8 L1988.4,1851.4 L1989.6,1853.0 L1990.8,1854.6 L1992.0,1856.2 L1993.2,1857.8 L1994.4,1859.4 L1995.6,1861.0 L1996.8,1862.6 L1998.0,1864.2 L1999.2,1865.8 L2000.4,1867.4 L2001.6,1869.0 L2002.9,1870.6 L2004.1,1872.1 L2005.3,1873.7 L2006.6,1875.3 L2007.8,1876.9 L2009.0,1878.4 L2010.3,1880.0 L2011.5,1881.6 L2012.8,1883.1 L2014.0,1884.7 L2015.3,1886.3 L2016.5,1887.8 L2017.8,1889.4 L2019.0,1891.0 L2020.3,1892.5 L2021.5,1894.1 L2022.8,1895.6 L2024.0,1897.2 L2025.3,1898.7 L2026.5,1900.3 L2027.8,1901.8 L2029.1,1903.4 L2030.3,1905.0 L2031.6,1906.5 L2032.8,1908.1 L2034.1,1909.6 L2035.3,1911.2 L2036.6,1912.7 L2037.8,1914.3 L2039.1,1915.9 L2040.4,1917.4 L2041.6,1919.0 L2042.8,1920.5 L2044.1,1922.1 L2045.3,1923.7 L2046.6,1925.2 L2047.8,1926.8 L2049.1,1928.4 L2050.3,1930.0 L2051.5,1931.5 L2052.8,1933.1 L2054.0,1934.7 L2055.2,1936.3 L2056.4,1937.8 L2057.7,1939.4 L2058.9,1941.0 L2060.1,1942.6 L2061.3,1944.2 L2062.5,1945.8 L2063.7,1947.4 L2064.9,1949.0 L2066.1,1950.6 L2067.3,1952.2 L2068.5,1953.8 L2069.7,1955.4 L2070.9,1957.0 L2072.1,1958.6 L2073.3,1960.2 L2074.4,1961.8 L2075.6,1963.4 L2076.8,1965.1 L2078.0,1966.7 L2079.2,1968.3 L2080.4,1969.9 L2081.5,1971.5 L2082.7,1973.1 L2083.9,1974.8 L2085.1,1976.4 L2086.2,1978.0 L2087.4,1979.6 L2088.6,1981.2 L2089.7,1982.9 L2090.9,1984.5 L2092.1,1986.1 L2093.2,1987.8 L2094.4,1989.4 L2095.5,1991.0 L2096.7,1992.7 L2097.8,1994.3 L2099.0,1995.9 L2100.1,1997.6 L2101.3,1999.2 L2102.4,2000.9 L2103.5,2002.5 L2104.7,2004.2 L2105.8,2005.8 L2106.9,2007.5 L2108.0,2009.1 L2109.2,2010.8 L2110.3,2012.4 L2111.4,2014.1 L2112.5,2015.8 L2113.6,2017.4 L2114.7,2019.1 L2115.8,2020.8 L2116.9,2022.4 L2118.0,2024.1 L2119.1,2025.8 L2120.2,2027.5 L2121.2,2029.1 L2122.3,2030.8 L2123.4,2032.5 L2124.5,2034.2 L2125.5,2035.9 L2126.6,2037.6 L2127.7,2039.3 L2128.7,2041.0 L2129.8,2042.7 L2130.8,2044.4 L2131.9,2046.1 L2132.9,2047.8 L2134.0,2049.5 L2135.0,2051.2 L2136.0,2052.9 L2137.1,2054.6 L2138.1,2056.4 L2139.1,2058.1 L2140.1,2059.8 L2141.2,2061.5 L2142.2,2063.2 L2143.2,2064.9 L2144.2,2066.7 L2145.3,2068.4 L2146.3,2070.1 L2147.3,2071.8 L2148.3,2073.6 L2149.3,2075.3 L2150.3,2077.0 L2151.3,2078.7 L2152.3,2080.5 L2153.3,2082.2 L2154.3,2083.9 L2155.3,2085.6 L2156.4,2087.4 L2157.4,2089.1 L2158.4,2090.8 L2159.4,2092.6 L2160.4,2094.3 L2161.3,2096.0 L2162.3,2097.8 L2163.3,2099.5 L2164.3,2101.2 L2165.3,2103.0 L2166.3,2104.7 L2167.3,2106.4 L2168.3,2108.2 L2169.3,2109.9 L2170.3,2111.7 L2171.3,2113.4 L2172.3,2115.1 L2173.3,2116.9 L2174.2,2118.6 L2175.2,2120.4 L2176.2,2122.1 L2177.2,2123.8 L2178.2,2125.6 L2179.2,2127.3 L2180.1,2129.1 L2181.1,2130.8 L2182.1,2132.5 L2183.1,2134.3 L2184.1,2136.0 L2185.1,2137.8 L2186.0,2139.5 L2187.0,2141.3 L2188.0,2143.0 L2189.0,2144.8 L2189.9,2146.5 L2190.9,2148.2 L2191.9,2150.0 L2192.9,2151.7 L2193.9,2153.4 L2194.9,2155.2 L2195.9,2156.9 L2197.0,2158.6 L2198.0,2160.3 L2199.0,2162.0 L2200.1,2163.7 L2201.1,2165.4 L2202.2,2167.1 L2203.3,2168.8 L2204.4,2170.5 L2205.5,2172.2 L2206.6,2173.8 L2207.7,2175.5 L2208.8,2177.1 L2210.0,2178.8 L2211.1,2180.4 L2212.3,2182.0 L2213.5,2183.6 L2214.7,2185.2 L2215.9,2186.8 L2217.1,2188.4 L2218.3,2190.0 L2219.6,2191.5 L2220.8,2193.1 L2222.1,2194.6 L2223.4,2196.1 L2224.7,2197.7 L2226.0,2199.2 L2227.3,2200.7 L2228.7,2202.2 L2230.0,2203.6 L2231.4,2205.1 L2232.7,2206.6 L2234.1,2208.0 L2235.5,2209.5 L2236.9,2210.9 L2238.3,2212.4 L2239.7,2213.8 L2241.1,2215.2 L2242.5,2216.6 L2243.9,2218.0 L2245.4,2219.4 L2246.8,2220.7 L2248.3,2222.1 L2249.8,2223.4 L2251.3,2224.8 L2252.8,2226.1 L2254.3,2227.4 L2255.8,2228.7 L2257.3,2230.0 L2258.9,2231.2 L2260.4,2232.5 L2262.0,2233.8 L2263.6,2235.0 L2265.1,2236.2 L2266.7,2237.4 L2268.3,2238.6 L2269.9,2239.8 L2271.5,2241.0 L2273.1,2242.2 L2274.7,2243.4 L2276.4,2244.6 L2278.0,2245.7 L2279.6,2246.9 L2281.3,2248.0 L2282.9,2249.1 L2284.6,2250.2 L2286.3,2251.3 L2288.0,2252.4 L2289.7,2253.4 L2291.4,2254.4 L2293.1,2255.5 L2294.8,2256.5 L2296.6,2257.5 L2298.3,2258.5 L2300.0,2259.5 L2301.8,2260.4 L2303.5,2261.4 L2305.3,2262.3 L2307.0,2263.2 L2308.8,2264.1 L2310.5,2264.9 L2312.2,2265.7 L2313.9,2266.5 L2315.5,2267.2 L2317.0,2267.9 L2318.4,2268.5 L2319.7,2269.1 L2320.8,2269.5 L2325.3,2271.4" stroke="#ff0000" stroke-width="5.3" clip-path="url(#cr)"/>
</g>
<path d="M455.4,402 V913" stroke="#000" stroke-width="3" stroke-dasharray="3 3.13" fill="none"/>
<path d="M455.8,1055 V1608" stroke="#000" stroke-width="3" stroke-dasharray="3 3.13" fill="none"/>
<path d="M592,264 V675.5 H556.7 V832" stroke="#000" stroke-width="3" stroke-dasharray="3 3.13" fill="none"/>
<path d="M556.2,966 V1545 H535.6 V1610" stroke="#000" stroke-width="3" stroke-dasharray="3 3.13" fill="none"/>
<path d="M459.2,1666 V1694" stroke="#000" stroke-width="3" stroke-dasharray="3 3.13" fill="none"/>
<path d="M535.9,1666 V1694" stroke="#000" stroke-width="3" stroke-dasharray="3 3.13" fill="none"/>
<path d="M423.5,1971 V2174" stroke="#000" stroke-width="3" stroke-dasharray="3 3.13" fill="none"/>
<path d="M1981.4,257 V285.5" stroke="#000" stroke-width="3" stroke-dasharray="3 3.13" fill="none"/>
<path d="M2028.2,204 V279" stroke="#000" stroke-width="3" stroke-dasharray="3 3.13" fill="none"/>
<path d="M1995.3,898.5 V983.5" stroke="#000" stroke-width="3" stroke-dasharray="3 3.13" fill="none"/>
<path d="M2009.5,955.3 V983.5" stroke="#000" stroke-width="3" stroke-dasharray="3 3.13" fill="none"/>
<path d="M1876.5,1669.6 V1716" stroke="#000" stroke-width="3" stroke-dasharray="3 3.13" fill="none"/>
<path d="M1965.9,1673 V1712.5" stroke="#000" stroke-width="3" stroke-dasharray="3 3.13" fill="none"/>
<path d="M2105.4,1845.2 V1997" stroke="#000" stroke-width="3" stroke-dasharray="3 3.13" fill="none"/>
<g stroke="#000" stroke-width="6.0" fill="none" stroke-linecap="butt">
<line x1="14" y1="129.0" x2="1034.7" y2="129.0"/>
<line x1="14" y1="2330.4" x2="1034.7" y2="2330.4"/>
<line x1="1031.7" y1="126.0" x2="1031.7" y2="356.5"/>
<line x1="1031.7" y1="747.5" x2="1031.7" y2="1092.5"/>
<line x1="1031.7" y1="1484.5" x2="1031.7" y2="1773.3"/>
<line x1="1031.7" y1="2165.5" x2="1031.7" y2="2333.4"/>
<line x1="1302.3" y1="130.2" x2="2324.6" y2="130.2"/>
<line x1="1302.3" y1="2330.4" x2="2324.6" y2="2330.4"/>
<line x1="2321.6" y1="130.2" x2="2321.6" y2="2330.4"/>
<line x1="1305.3" y1="127.19999999999999" x2="1305.3" y2="356.5"/>
<line x1="1305.3" y1="747.5" x2="1305.3" y2="1092.5"/>
<line x1="1305.3" y1="1484.5" x2="1305.3" y2="1773.3"/>
<line x1="1305.3" y1="2165.5" x2="1305.3" y2="2333.4"/>
<line x1="116.7" y1="2330.4" x2="116.7" y2="2365.0"/>
<line x1="218.3" y1="2330.4" x2="218.3" y2="2347.4"/>
<line x1="319.9" y1="2330.4" x2="319.9" y2="2365.0"/>
<line x1="421.5" y1="2330.4" x2="421.5" y2="2347.4"/>
<line x1="523.0" y1="2330.4" x2="523.0" y2="2365.0"/>
<line x1="624.6" y1="2330.4" x2="624.6" y2="2347.4"/>
<line x1="726.2" y1="2330.4" x2="726.2" y2="2365.0"/>
<line x1="827.8" y1="2330.4" x2="827.8" y2="2347.4"/>
<line x1="929.4" y1="2330.4" x2="929.4" y2="2365.0"/>
<line x1="1031.7" y1="2330.4" x2="1031.7" y2="2347.4"/>
<line x1="1305.3" y1="2330.4" x2="1305.3" y2="2347.4"/>
<line x1="1406.9" y1="2330.4" x2="1406.9" y2="2365.0"/>
<line x1="1508.5" y1="2330.4" x2="1508.5" y2="2347.4"/>
<line x1="1610.1" y1="2330.4" x2="1610.1" y2="2365.0"/>
<line x1="1711.7" y1="2330.4" x2="1711.7" y2="2347.4"/>
<line x1="1813.3" y1="2330.4" x2="1813.3" y2="2365.0"/>
<line x1="1914.9" y1="2330.4" x2="1914.9" y2="2347.4"/>
<line x1="2016.5" y1="2330.4" x2="2016.5" y2="2365.0"/>
<line x1="2118.1" y1="2330.4" x2="2118.1" y2="2347.4"/>
<line x1="2219.7" y1="2330.4" x2="2219.7" y2="2365.0"/>
<line x1="2321.6" y1="2330.4" x2="2321.6" y2="2347.4"/>
</g>
<rect x="14" y="126.0" width="4" height="2221.4" fill="#000"/>
<text transform="translate(354.56,90.00) scale(1,1.04)" font-family='"Liberation Sans", Arial, Helvetica, sans-serif' font-size="99.2" fill="#000" font-weight="bold">F192pCNF</text>
<text transform="translate(1585.95,88.50) scale(1,1.04)" font-family='"Liberation Sans", Arial, Helvetica, sans-serif' font-size="99.2" fill="#000" font-weight="bold">Y165pCNF</text>
<text transform="translate(51.64,2449.60) scale(1,1.025)" font-family='"Liberation Sans", Arial, Helvetica, sans-serif' font-size="75.1" fill="#000" font-weight="normal">2210</text>
<text transform="translate(1321.84,2447.30) scale(1,1.025)" font-family='"Liberation Sans", Arial, Helvetica, sans-serif' font-size="75.1" fill="#000" font-weight="normal">2210</text>
<text transform="translate(254.82,2449.60) scale(1,1.025)" font-family='"Liberation Sans", Arial, Helvetica, sans-serif' font-size="75.1" fill="#000" font-weight="normal">2220</text>
<text transform="translate(1525.04,2447.30) scale(1,1.025)" font-family='"Liberation Sans", Arial, Helvetica, sans-serif' font-size="75.1" fill="#000" font-weight="normal">2220</text>
<text transform="translate(457.99,2449.60) scale(1,1.025)" font-family='"Liberation Sans", Arial, Helvetica, sans-serif' font-size="75.1" fill="#000" font-weight="normal">2230</text>
<text transform="translate(1728.24,2447.30) scale(1,1.025)" font-family='"Liberation Sans", Arial, Helvetica, sans-serif' font-size="75.1" fill="#000" font-weight="normal">2230</text>
<text transform="translate(661.17,2449.60) scale(1,1.025)" font-family='"Liberation Sans", Arial, Helvetica, sans-serif' font-size="75.1" fill="#000" font-weight="normal">2240</text>
<text transform="translate(1931.44,2447.30) scale(1,1.025)" font-family='"Liberation Sans", Arial, Helvetica, sans-serif' font-size="75.1" fill="#000" font-weight="normal">2240</text>
<text transform="translate(864.34,2449.60) scale(1,1.025)" font-family='"Liberation Sans", Arial, Helvetica, sans-serif' font-size="75.1" fill="#000" font-weight="normal">2250</text>
<text transform="translate(2134.64,2447.30) scale(1,1.025)" font-family='"Liberation Sans", Arial, Helvetica, sans-serif' font-size="75.1" fill="#000" font-weight="normal">2250</text>
<text transform="translate(436.00,2556.20) scale(1,0.94)" font-family='"Liberation Serif", "DejaVu Serif", serif' font-size="100" fill="#000">ν</text>
<text transform="translate(482.30,2556.20) scale(1,1.0)" font-family='"Liberation Sans", Arial, Helvetica, sans-serif' font-size="91.5" fill="#000">/cm</text>
<text transform="translate(626.00,2514.30) scale(1,1.0)" font-family='"Liberation Serif", "DejaVu Serif", serif' font-size="51" fill="#000">−</text>
<text transform="translate(653.20,2509.50) scale(1,1.0)" font-family='"Liberation Sans", Arial, Helvetica, sans-serif' font-size="47.4" fill="#000">1</text>
<text transform="translate(1701.70,2561.80) scale(1,0.94)" font-family='"Liberation Serif", "DejaVu Serif", serif' font-size="100" fill="#000">ν</text>
<text transform="translate(1748.00,2561.80) scale(1,1.0)" font-family='"Liberation Sans", Arial, Helvetica, sans-serif' font-size="91.5" fill="#000">/cm</text>
<text transform="translate(1891.70,2519.90) scale(1,1.0)" font-family='"Liberation Serif", "DejaVu Serif", serif' font-size="51" fill="#000">−</text>
<text transform="translate(1918.90,2515.10) scale(1,1.0)" font-family='"Liberation Sans", Arial, Helvetica, sans-serif' font-size="47.4" fill="#000">1</text>
<text transform="translate(1015.44,479.20) scale(1,1.02)" font-family='"Liberation Sans", Arial, Helvetica, sans-serif' font-size="99.3" fill="#0000ff" font-weight="normal">Lumi-F</text>
<text transform="translate(1107.86,590.50) scale(1,1.02)" font-family='"Liberation Sans", Arial, Helvetica, sans-serif' font-size="99.3" fill="#000" font-weight="normal">Pfr</text>
<text transform="translate(1040.92,701.10) scale(1,1.02)" font-family='"Liberation Sans", Arial, Helvetica, sans-serif' font-size="99.3" fill="#000" font-weight="normal">143 K</text>
<text transform="translate(1012.57,1216.10) scale(1,1.02)" font-family='"Liberation Sans", Arial, Helvetica, sans-serif' font-size="99.3" fill="#009933" font-weight="normal">Meta-F</text>
<text transform="translate(1108.11,1326.70) scale(1,1.02)" font-family='"Liberation Sans", Arial, Helvetica, sans-serif' font-size="99.3" fill="#000" font-weight="normal">Pfr</text>
<text transform="translate(1040.16,1437.30) scale(1,1.02)" font-family='"Liberation Sans", Arial, Helvetica, sans-serif' font-size="99.3" fill="#000" font-weight="normal">243 K</text>
<text transform="translate(1119.20,1897.90) scale(1,1.02)" font-family='"Liberation Sans", Arial, Helvetica, sans-serif' font-size="99.3" fill="#ff0000" font-weight="normal">Pr</text>
<text transform="translate(1105.41,2008.20) scale(1,1.02)" font-family='"Liberation Sans", Arial, Helvetica, sans-serif' font-size="99.3" fill="#000" font-weight="normal">Pfr</text>
<text transform="translate(1037.41,2118.20) scale(1,1.02)" font-family='"Liberation Sans", Arial, Helvetica, sans-serif' font-size="99.3" fill="#000" font-weight="normal">298 K</text>
<text transform="translate(562.56,194.60) scale(1,1.02)" font-family='"Liberation Sans", Arial, Helvetica, sans-serif' font-size="58.3" fill="#000" font-weight="normal">2233.3</text>
<text transform="translate(562.13,259.10) scale(1,1.02)" font-family='"Liberation Sans", Arial, Helvetica, sans-serif' font-size="58.3" fill="#0000ff" font-weight="normal">2233.4</text>
<text transform="translate(339.44,331.00) scale(1,1.02)" font-family='"Liberation Sans", Arial, Helvetica, sans-serif' font-size="58.3" fill="#000" font-weight="normal">2226.8</text>
<text transform="translate(339.03,395.50) scale(1,1.02)" font-family='"Liberation Sans", Arial, Helvetica, sans-serif' font-size="58.3" fill="#0000ff" font-weight="normal">2226.4</text>
<text transform="translate(503.49,884.90) scale(1,1.02)" font-family='"Liberation Sans", Arial, Helvetica, sans-serif' font-size="58.3" fill="#000" font-weight="normal">2231.8</text>
<text transform="translate(503.21,949.30) scale(1,1.02)" font-family='"Liberation Sans", Arial, Helvetica, sans-serif' font-size="58.3" fill="#009933" font-weight="normal">2232.0</text>
<text transform="translate(308.99,964.70) scale(1,1.02)" font-family='"Liberation Sans", Arial, Helvetica, sans-serif' font-size="58.3" fill="#000" font-weight="normal">2226.2</text>
<text transform="translate(308.38,1029.60) scale(1,1.02)" font-family='"Liberation Sans", Arial, Helvetica, sans-serif' font-size="58.3" fill="#009933" font-weight="normal">2226.4</text>
<text transform="translate(311.86,1662.00) scale(1,1.02)" font-family='"Liberation Sans", Arial, Helvetica, sans-serif' font-size="58.3" fill="#ff0000" font-weight="normal">2226.6</text>
<text transform="translate(525.11,1662.00) scale(1,1.02)" font-family='"Liberation Sans", Arial, Helvetica, sans-serif' font-size="58.3" fill="#000" font-weight="normal">2230.3</text>
<text transform="translate(367.66,2229.80) scale(1,1.02)" font-family='"Liberation Sans", Arial, Helvetica, sans-serif' font-size="58.3" fill="#000" font-weight="normal">2225.0</text>
<text transform="translate(1993.71,194.90) scale(1,1.02)" font-family='"Liberation Sans", Arial, Helvetica, sans-serif' font-size="58.3" fill="#000" font-weight="normal">2240.3</text>
<text transform="translate(1834.21,250.00) scale(1,1.02)" font-family='"Liberation Sans", Arial, Helvetica, sans-serif' font-size="58.3" fill="#0000ff" font-weight="normal">2237.6</text>
<text transform="translate(1899.31,893.70) scale(1,1.02)" font-family='"Liberation Sans", Arial, Helvetica, sans-serif' font-size="58.3" fill="#000" font-weight="normal">2238.9</text>
<text transform="translate(2005.58,948.00) scale(1,1.02)" font-family='"Liberation Sans", Arial, Helvetica, sans-serif' font-size="58.3" fill="#009933" font-weight="normal">2239.4</text>
<text transform="translate(1743.01,1662.00) scale(1,1.02)" font-family='"Liberation Sans", Arial, Helvetica, sans-serif' font-size="58.3" fill="#ff0000" font-weight="normal">2232.9</text>
<text transform="translate(1953.27,1662.00) scale(1,1.02)" font-family='"Liberation Sans", Arial, Helvetica, sans-serif' font-size="58.3" fill="#000" font-weight="normal">2237.1</text>
<text transform="translate(2043.16,1832.60) scale(1,1.02)" font-family='"Liberation Sans", Arial, Helvetica, sans-serif' font-size="58.3" fill="#ff0000" font-weight="normal">2243.9</text>
</svg>
</body>
</html>
